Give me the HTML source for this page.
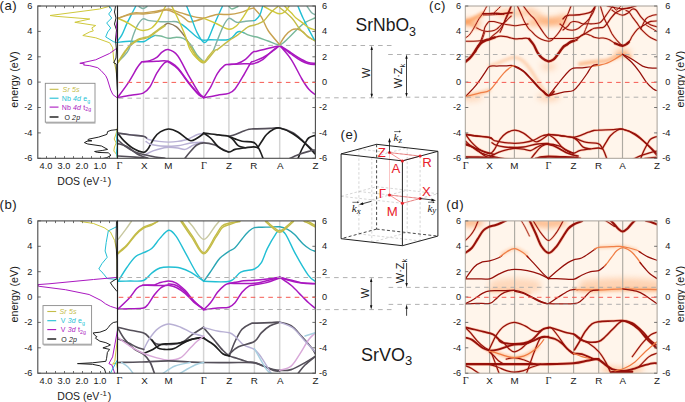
<!DOCTYPE html><html><head><meta charset="utf-8"><style>html,body{margin:0;padding:0;background:#fff;}svg{display:block;}text{font-family:'Liberation Sans',sans-serif}</style></head><body>
<svg width="685" height="402" viewBox="0 0 685 402">
<defs><filter id="bl1" filterUnits="userSpaceOnUse" x="0" y="0" width="685" height="402"><feGaussianBlur stdDeviation="1.6"/></filter><filter id="bl2" filterUnits="userSpaceOnUse" x="0" y="0" width="685" height="402"><feGaussianBlur stdDeviation="3"/></filter><filter id="bl05"><feGaussianBlur stdDeviation="0.35"/></filter><clipPath id="clipA"><rect x="117.5" y="6.0" width="197.9" height="152.3"/></clipPath><clipPath id="clipB"><rect x="117.5" y="220.9" width="197.8" height="152.3"/></clipPath><clipPath id="clipC"><rect x="465.3" y="6.0" width="191.8" height="152.3"/></clipPath><clipPath id="clipD"><rect x="465.3" y="220.9" width="191.7" height="152.3"/></clipPath><clipPath id="clipDA"><rect x="37.8" y="6.0" width="79.7" height="152.3"/></clipPath><clipPath id="clipDB"><rect x="37.8" y="220.9" width="79.7" height="152.3"/></clipPath></defs>
<text x="-0.6" y="9.5" font-size="13.2" text-anchor="start" fill="#1a1a1a" letter-spacing="0.6">(a)</text>
<text x="32.4" y="8.9" font-size="9.2" text-anchor="end" fill="#1a1a1a" >6</text>
<text x="32.4" y="34.3" font-size="9.2" text-anchor="end" fill="#1a1a1a" >4</text>
<text x="32.4" y="59.7" font-size="9.2" text-anchor="end" fill="#1a1a1a" >2</text>
<text x="32.4" y="85.0" font-size="9.2" text-anchor="end" fill="#1a1a1a" >0</text>
<text x="32.4" y="110.4" font-size="9.2" text-anchor="end" fill="#1a1a1a" >-2</text>
<text x="32.4" y="135.8" font-size="9.2" text-anchor="end" fill="#1a1a1a" >-4</text>
<text x="32.4" y="161.2" font-size="9.2" text-anchor="end" fill="#1a1a1a" >-6</text>
<text transform="translate(18.2,79.6) rotate(-90)" font-size="10.8" text-anchor="middle" fill="#1a1a1a">energy (eV)</text>
<line x1="46.5" y1="6.0" x2="46.5" y2="8.2" stroke="#4a4a4a" stroke-width="0.8" />
<line x1="46.5" y1="158.3" x2="46.5" y2="156.1" stroke="#4a4a4a" stroke-width="0.8" />
<line x1="55.5" y1="6.0" x2="55.5" y2="8.2" stroke="#4a4a4a" stroke-width="0.8" />
<line x1="55.5" y1="158.3" x2="55.5" y2="156.1" stroke="#4a4a4a" stroke-width="0.8" />
<line x1="64.5" y1="6.0" x2="64.5" y2="8.2" stroke="#4a4a4a" stroke-width="0.8" />
<line x1="64.5" y1="158.3" x2="64.5" y2="156.1" stroke="#4a4a4a" stroke-width="0.8" />
<line x1="73.5" y1="6.0" x2="73.5" y2="8.2" stroke="#4a4a4a" stroke-width="0.8" />
<line x1="73.5" y1="158.3" x2="73.5" y2="156.1" stroke="#4a4a4a" stroke-width="0.8" />
<line x1="82.5" y1="6.0" x2="82.5" y2="8.2" stroke="#4a4a4a" stroke-width="0.8" />
<line x1="82.5" y1="158.3" x2="82.5" y2="156.1" stroke="#4a4a4a" stroke-width="0.8" />
<line x1="91.5" y1="6.0" x2="91.5" y2="8.2" stroke="#4a4a4a" stroke-width="0.8" />
<line x1="91.5" y1="158.3" x2="91.5" y2="156.1" stroke="#4a4a4a" stroke-width="0.8" />
<line x1="100.5" y1="6.0" x2="100.5" y2="8.2" stroke="#4a4a4a" stroke-width="0.8" />
<line x1="100.5" y1="158.3" x2="100.5" y2="156.1" stroke="#4a4a4a" stroke-width="0.8" />
<line x1="109.5" y1="6.0" x2="109.5" y2="8.2" stroke="#4a4a4a" stroke-width="0.8" />
<line x1="109.5" y1="158.3" x2="109.5" y2="156.1" stroke="#4a4a4a" stroke-width="0.8" />
<line x1="37.8" y1="6.0" x2="40.8" y2="6.0" stroke="#4a4a4a" stroke-width="0.8" />
<line x1="37.8" y1="31.4" x2="40.8" y2="31.4" stroke="#4a4a4a" stroke-width="0.8" />
<line x1="37.8" y1="56.8" x2="40.8" y2="56.8" stroke="#4a4a4a" stroke-width="0.8" />
<line x1="37.8" y1="82.1" x2="40.8" y2="82.1" stroke="#4a4a4a" stroke-width="0.8" />
<line x1="37.8" y1="107.5" x2="40.8" y2="107.5" stroke="#4a4a4a" stroke-width="0.8" />
<line x1="37.8" y1="132.9" x2="40.8" y2="132.9" stroke="#4a4a4a" stroke-width="0.8" />
<line x1="37.8" y1="158.3" x2="40.8" y2="158.3" stroke="#4a4a4a" stroke-width="0.8" />
<text x="46.0" y="168.6" font-size="9.2" text-anchor="middle" fill="#1a1a1a" >4.0</text>
<text x="64.0" y="168.6" font-size="9.2" text-anchor="middle" fill="#1a1a1a" >3.0</text>
<text x="82.0" y="168.6" font-size="9.2" text-anchor="middle" fill="#1a1a1a" >2.0</text>
<text x="100.0" y="168.6" font-size="9.2" text-anchor="middle" fill="#1a1a1a" >1.0</text>
<text x="57.3" y="185.1" font-size="10.5" fill="#1a1a1a">DOS (eV<tspan font-size="7.8" dy="-3.6" dx="0.6">-1</tspan><tspan dy="3.6" dx="0.8">)</tspan></text>
<g clip-path="url(#clipDA)">
<path d="M108.7,6.5 L99.7,9.0 L50.0,15.5 L56.0,16.3 L89.8,19.0 L74.8,22.3 L95.7,25.5 L91.8,27.9 L93.3,30.9 L89.8,31.9 L82.8,35.5 L95.7,37.8 L109.7,42.8 L112.7,47.8 L113.7,59.8 L116.0,70.0 L117.3,80.0" fill="none" stroke="#cfc83c" stroke-width="1.0" stroke-linecap="round" stroke-linejoin="round" />
<path d="M109.7,6.5 L111.7,10.0 L108.7,14.0 L111.7,18.0 L106.7,23.0 L110.7,28.0 L107.7,32.0 L105.7,36.9 L113.7,41.8 L117.5,42.8" fill="none" stroke="#22bfd4" stroke-width="1.0" stroke-linecap="round" stroke-linejoin="round" />
<path d="M117.5,47.8 L109.7,53.4 L95.7,59.8 L79.8,63.3 L84.5,63.8 L83.5,65.0 L89.8,65.7 L97.7,67.7 L101.0,70.5 L105.7,75.7 L107.3,79.0 L110.7,90.0 L112.9,94.6 L117.4,98.0" fill="none" stroke="#aa18c0" stroke-width="1.0" stroke-linecap="round" stroke-linejoin="round" />
<path d="M115.5,6.5 L114.5,12.0 L116.0,18.0 L114.5,24.0 L116.5,30.0 L115.5,40.0 L116.5,50.0 L116.0,58.0 L113.7,62.7 L116.2,64.0 L116.5,75.0 L117.3,90.0" fill="none" stroke="#1e1e1e" stroke-width="1.0" stroke-linecap="round" stroke-linejoin="round" />
<path d="M117.3,128.0 L116.0,134.0 L114.2,139.0 L116.2,143.0 L114.5,147.0 L113.8,151.0 L116.3,154.0 L117.3,158.0" fill="none" stroke="#cfc83c" stroke-width="1.0" stroke-linecap="round" stroke-linejoin="round" />
<path d="M117.4,130.0 L116.6,138.0 L117.2,146.0 L116.4,152.0 L117.3,158.0" fill="none" stroke="#22bfd4" stroke-width="1.0" stroke-linecap="round" stroke-linejoin="round" />
<path d="M117.4,20.0 L116.3,26.0 L117.2,31.0 L116.5,36.0 L117.4,42.0" fill="none" stroke="#aa18c0" stroke-width="1.0" stroke-linecap="round" stroke-linejoin="round" />
<path d="M117.2,129.6 L111.0,130.3 L107.6,131.6 L106.9,134.4 L98.7,137.1 L88.5,139.2 L87.8,140.2 L91.9,140.8 L87.1,141.2 L84.4,142.6 L87.8,144.0 L101.5,146.0 L107.6,149.4 L102.8,150.4 L94.6,151.5 L97.4,152.4 L108.3,152.8 L111.0,155.3 L106.9,157.6 L102.8,158.5" fill="none" stroke="#1e1e1e" stroke-width="1.0" stroke-linecap="round" stroke-linejoin="round" />
</g>
<line x1="143.5" y1="6.0" x2="143.5" y2="158.3" stroke="#d4d4d4" stroke-width="1.5" />
<line x1="168.4" y1="6.0" x2="168.4" y2="158.3" stroke="#d4d4d4" stroke-width="1.5" />
<line x1="203.8" y1="6.0" x2="203.8" y2="158.3" stroke="#d4d4d4" stroke-width="1.5" />
<line x1="228.9" y1="6.0" x2="228.9" y2="158.3" stroke="#d4d4d4" stroke-width="1.5" />
<line x1="253.8" y1="6.0" x2="253.8" y2="158.3" stroke="#d4d4d4" stroke-width="1.5" />
<line x1="279.7" y1="6.0" x2="279.7" y2="158.3" stroke="#d4d4d4" stroke-width="1.5" />
<line x1="312.4" y1="6.0" x2="315.4" y2="6.0" stroke="#4a4a4a" stroke-width="0.8" />
<text x="327.2" y="8.9" font-size="9.2" text-anchor="end" fill="#1a1a1a" >6</text>
<line x1="312.4" y1="31.4" x2="315.4" y2="31.4" stroke="#4a4a4a" stroke-width="0.8" />
<text x="327.2" y="34.3" font-size="9.2" text-anchor="end" fill="#1a1a1a" >4</text>
<line x1="312.4" y1="56.8" x2="315.4" y2="56.8" stroke="#4a4a4a" stroke-width="0.8" />
<text x="327.2" y="59.7" font-size="9.2" text-anchor="end" fill="#1a1a1a" >2</text>
<line x1="312.4" y1="82.1" x2="315.4" y2="82.1" stroke="#4a4a4a" stroke-width="0.8" />
<text x="327.2" y="85.0" font-size="9.2" text-anchor="end" fill="#1a1a1a" >0</text>
<line x1="312.4" y1="107.5" x2="315.4" y2="107.5" stroke="#4a4a4a" stroke-width="0.8" />
<text x="327.2" y="110.4" font-size="9.2" text-anchor="end" fill="#1a1a1a" >-2</text>
<line x1="312.4" y1="132.9" x2="315.4" y2="132.9" stroke="#4a4a4a" stroke-width="0.8" />
<text x="327.2" y="135.8" font-size="9.2" text-anchor="end" fill="#1a1a1a" >-4</text>
<line x1="312.4" y1="158.3" x2="315.4" y2="158.3" stroke="#4a4a4a" stroke-width="0.8" />
<text x="327.2" y="161.2" font-size="9.2" text-anchor="end" fill="#1a1a1a" >-6</text>
<text x="119.5" y="168.9" font-size="10.2" text-anchor="middle" fill="#1a1a1a" style="font-family:'Liberation Serif',serif">&#915;</text>
<text x="144.3" y="168.9" font-size="9.8" text-anchor="middle" fill="#1a1a1a">X</text>
<text x="168.4" y="168.9" font-size="9.8" text-anchor="middle" fill="#1a1a1a">M</text>
<text x="204.0" y="168.9" font-size="10.2" text-anchor="middle" fill="#1a1a1a" style="font-family:'Liberation Serif',serif">&#915;</text>
<text x="228.9" y="168.9" font-size="9.8" text-anchor="middle" fill="#1a1a1a">Z</text>
<text x="253.8" y="168.9" font-size="9.8" text-anchor="middle" fill="#1a1a1a">R</text>
<text x="280.2" y="168.9" font-size="9.8" text-anchor="middle" fill="#1a1a1a">A</text>
<text x="315.5" y="168.9" font-size="9.8" text-anchor="middle" fill="#1a1a1a">Z</text>
<g clip-path="url(#clipA)">
<path d="M117.9,133.1 C119.9,133.4 125.3,134.3 129.6,134.8 C133.9,135.3 140.3,135.5 143.5,136.3 C146.7,137.1 145.9,138.7 148.5,139.5 C151.1,140.3 155.4,141.0 158.8,141.4 C162.2,141.8 165.5,142.1 168.7,142.1 C171.9,142.1 174.6,141.9 177.8,141.4 C181.0,140.9 184.8,140.3 188.0,139.2 C191.2,138.1 194.2,135.8 196.8,134.8 C199.4,133.8 202.6,133.6 203.8,133.4" fill="none" stroke="#b8b0d4" stroke-width="1.45" stroke-linecap="round" stroke-linejoin="round" />
<path d="M117.9,133.4 C118.9,134.6 121.4,138.3 123.8,140.7 C126.2,143.1 129.2,146.1 132.5,148.0 C135.8,149.9 141.0,152.1 143.5,152.3 C146.0,152.6 146.3,150.8 147.5,149.5 C148.7,148.2 149.3,146.5 150.5,144.5 C151.7,142.5 152.8,139.8 154.4,137.7 C156.0,135.6 157.9,133.3 160.3,131.9 C162.7,130.5 165.8,129.0 168.7,129.0 C171.6,129.0 174.8,130.3 177.8,131.9 C180.8,133.5 184.3,137.0 186.5,138.5 C188.7,140.0 189.4,140.6 190.9,140.7 C192.4,140.8 193.2,140.4 195.3,139.2 C197.5,138.0 202.4,134.4 203.8,133.4" fill="none" stroke="#1e1e1e" stroke-width="1.65" stroke-linecap="round" stroke-linejoin="round" />
<path d="M146.0,141.5 C146.7,141.9 147.9,143.3 150.0,144.0 C152.1,144.7 155.7,145.4 158.8,145.8 C161.9,146.2 165.5,146.2 168.7,146.2 C171.9,146.2 173.9,146.4 177.8,145.8 C181.8,145.2 188.1,143.4 192.4,142.8 C196.7,142.2 201.9,142.2 203.8,142.1" fill="none" stroke="#b8b0d4" stroke-width="1.45" stroke-linecap="round" stroke-linejoin="round" />
<path d="M144.2,155.3 C145.7,154.6 149.8,152.1 153.0,150.9 C156.2,149.7 160.6,148.6 163.2,148.0 C165.8,147.4 166.3,147.2 168.7,147.2 C171.1,147.2 175.1,147.6 177.8,148.0 C180.5,148.4 182.9,149.7 185.1,149.4 C187.3,149.2 188.9,147.5 190.9,146.5 C192.9,145.5 194.7,144.2 196.8,143.6 C199.0,143.0 202.6,142.9 203.8,142.8" fill="none" stroke="#b8b0d4" stroke-width="1.45" stroke-linecap="round" stroke-linejoin="round" />
<path d="M117.9,143.6 C119.4,144.1 123.5,144.8 126.7,146.5 C129.9,148.2 134.1,152.1 136.9,153.8 C139.7,155.5 141.7,155.9 143.5,156.7 C145.3,157.4 147.2,158.0 148.0,158.3" fill="none" stroke="#55505a" stroke-width="1.65" stroke-linecap="round" stroke-linejoin="round" />
<path d="M117.9,133.1 C119.9,133.4 125.3,134.3 129.6,134.8 C133.9,135.3 140.7,135.8 143.5,136.3 C146.3,136.8 146.0,137.7 146.5,138.0" fill="none" stroke="#55505a" stroke-width="1.65" stroke-linecap="round" stroke-linejoin="round" />
<path d="M117.9,156.0 C119.9,156.1 125.7,156.5 130.0,156.8 C134.3,157.1 141.2,157.6 143.5,157.8" fill="none" stroke="#55505a" stroke-width="1.65" stroke-linecap="round" stroke-linejoin="round" />
<path d="M185.0,158.3 C185.8,157.2 188.0,154.2 190.0,152.0 C192.0,149.8 194.5,146.5 196.8,145.0 C199.1,143.5 200.8,142.8 203.8,142.8 C206.8,142.8 212.0,144.0 215.0,145.0 C218.0,146.0 219.7,147.8 222.0,149.0 C224.3,150.2 227.5,151.5 228.6,152.0" fill="none" stroke="#55505a" stroke-width="1.65" stroke-linecap="round" stroke-linejoin="round" />
<path d="M203.5,133.1 C205.6,133.3 211.8,134.1 216.0,134.6 C220.2,135.1 225.4,135.6 228.6,136.3 C231.8,137.0 232.8,138.1 235.0,138.9 C237.2,139.7 238.9,140.6 242.0,141.2 C245.1,141.8 250.8,141.5 253.4,142.4 C256.0,143.3 256.6,145.2 257.8,146.8 C259.0,148.4 259.6,150.1 260.5,152.0 C261.4,153.9 262.6,157.2 263.0,158.3" fill="none" stroke="#1e1e1e" stroke-width="1.65" stroke-linecap="round" stroke-linejoin="round" />
<path d="M228.6,136.3 C229.8,136.0 233.5,135.1 236.0,134.2 C238.5,133.3 241.6,131.8 243.8,131.0 C246.0,130.2 247.4,129.7 249.0,129.3 C250.6,129.0 249.9,129.1 253.4,128.9 C256.9,128.8 265.6,128.6 270.0,128.4 C274.4,128.2 275.9,127.3 279.7,128.0 C283.5,128.7 288.9,130.6 292.9,132.8 C296.8,135.1 299.8,138.3 303.4,141.5 C307.0,144.7 312.9,150.2 314.8,152.0" fill="none" stroke="#55505a" stroke-width="1.65" stroke-linecap="round" stroke-linejoin="round" />
<path d="M257.8,147.7 C258.5,146.6 260.5,143.2 262.0,141.0 C263.5,138.8 264.7,136.4 266.6,134.5 C268.5,132.6 271.4,130.4 273.6,129.3 C275.8,128.2 276.5,127.3 279.7,128.0 C282.9,128.7 288.7,131.1 292.9,133.7 C297.1,136.2 301.5,140.0 305.1,143.3 C308.8,146.7 313.2,152.1 314.8,153.8" fill="none" stroke="#1e1e1e" stroke-width="1.65" stroke-linecap="round" stroke-linejoin="round" />
<path d="M203.5,133.1 C204.7,133.9 207.9,135.6 210.5,138.0 C213.1,140.4 216.3,145.4 219.3,147.7 C222.3,150.0 226.0,151.7 228.6,152.0 C231.2,152.3 232.2,150.1 235.0,149.4 C237.8,148.7 242.4,148.1 245.5,147.7 C248.6,147.3 251.3,146.8 253.4,146.8 C255.5,146.8 257.1,147.5 257.8,147.7" fill="none" stroke="#1e1e1e" stroke-width="1.65" stroke-linecap="round" stroke-linejoin="round" />
<path d="M228.6,136.3 C229.4,136.9 231.7,138.2 233.3,139.8 C235.0,141.4 236.5,144.6 238.5,145.9 C240.5,147.2 244.3,147.4 245.5,147.7" fill="none" stroke="#1e1e1e" stroke-width="1.65" stroke-linecap="round" stroke-linejoin="round" />
<path d="M298.1,158.3 C298.7,156.9 300.3,152.5 301.5,150.0 C302.7,147.5 303.9,145.3 305.1,143.3 C306.3,141.3 307.0,139.3 308.6,138.0 C310.2,136.7 313.8,135.8 314.8,135.4" fill="none" stroke="#1e1e1e" stroke-width="1.65" stroke-linecap="round" stroke-linejoin="round" />
<path d="M290.0,158.3 C291.7,157.6 296.7,155.2 300.0,154.0 C303.3,152.8 307.5,151.7 310.0,151.0 C312.5,150.3 314.0,150.2 314.8,150.0" fill="none" stroke="#55505a" stroke-width="1.65" stroke-linecap="round" stroke-linejoin="round" />
<path d="M117.9,140.0 C119.1,141.0 122.2,144.0 125.0,146.0 C127.8,148.0 131.9,150.6 135.0,152.0 C138.1,153.4 140.2,153.7 143.5,154.5 C146.8,155.3 151.4,156.4 155.0,157.0 C158.6,157.6 163.3,158.1 165.0,158.3" fill="none" stroke="#55505a" stroke-width="1.65" stroke-linecap="round" stroke-linejoin="round" />
<path d="M117.6,97.5 C119.5,94.9 125.7,86.7 128.9,81.8 C132.1,76.9 135.0,71.2 137.0,68.0 C139.0,64.8 140.1,63.6 141.1,62.6 C142.1,61.6 140.6,62.0 143.2,61.8 C145.8,61.6 152.7,61.4 156.8,61.3 C161.0,61.2 164.6,60.2 168.1,61.3 C171.6,62.4 174.3,64.5 177.7,67.9 C181.0,71.3 184.7,77.5 188.2,81.8 C191.7,86.1 196.0,91.4 198.6,94.0 C201.2,96.6 203.0,96.9 203.9,97.5" fill="none" stroke="#aa18c0" stroke-width="1.5" stroke-linecap="round" stroke-linejoin="round" />
<path d="M117.6,97.5 C120.1,97.1 128.1,95.6 132.4,94.9 C136.7,94.2 140.3,94.4 143.2,93.1 C146.1,91.8 147.5,90.3 149.8,87.0 C152.1,83.7 154.5,77.0 156.8,73.1 C159.1,69.2 161.9,65.5 163.8,63.5 C165.7,61.5 167.4,61.7 168.1,61.3" fill="none" stroke="#aa18c0" stroke-width="1.5" stroke-linecap="round" stroke-linejoin="round" />
<path d="M143.2,61.8 C144.3,61.6 147.5,61.3 149.8,60.6 C152.1,59.9 154.8,58.8 156.8,57.4 C158.8,56.0 160.1,53.5 162.0,52.2 C163.9,50.9 165.5,49.0 168.1,49.6 C170.7,50.2 174.3,51.5 177.7,55.7 C181.0,59.9 184.7,68.7 188.2,74.8 C191.7,80.9 196.0,88.5 198.6,92.3 C201.2,96.1 203.0,96.6 203.9,97.5" fill="none" stroke="#aa18c0" stroke-width="1.5" stroke-linecap="round" stroke-linejoin="round" />
<path d="M168.1,61.8 C169.8,63.0 174.8,65.6 178.2,69.2 C181.6,72.8 185.2,78.9 188.7,83.2 C192.2,87.5 196.5,92.6 199.0,95.0 C201.5,97.4 203.1,97.1 203.9,97.5" fill="none" stroke="#aa18c0" stroke-width="1.5" stroke-linecap="round" stroke-linejoin="round" />
<path d="M203.5,97.8 C204.7,96.0 208.2,91.4 210.5,87.3 C212.8,83.2 215.2,76.9 217.5,73.3 C219.8,69.7 222.7,66.9 224.5,65.4 C226.3,63.9 226.5,64.8 228.6,64.5 C230.7,64.2 234.0,64.6 236.8,63.7 C239.6,62.8 242.9,61.2 245.5,59.3 C248.1,57.4 250.8,53.6 252.6,52.3 C254.3,51.0 253.7,52.0 256.0,51.4 C258.3,50.8 262.7,49.8 266.6,48.8 C270.6,47.8 277.5,46.0 279.7,45.5" fill="none" stroke="#aa18c0" stroke-width="1.5" stroke-linecap="round" stroke-linejoin="round" />
<path d="M203.5,97.8 C205.8,97.4 213.3,95.9 217.5,95.2 C221.7,94.5 225.7,94.4 228.6,93.4 C231.5,92.4 232.5,92.1 235.0,89.0 C237.5,85.9 241.2,79.4 243.8,75.0 C246.4,70.6 249.2,65.1 250.8,62.8 C252.4,60.5 251.3,62.3 253.4,61.4 C255.5,60.5 259.7,59.3 263.1,57.5 C266.5,55.7 270.8,52.5 273.6,50.5 C276.4,48.5 278.7,46.3 279.7,45.5" fill="none" stroke="#aa18c0" stroke-width="1.5" stroke-linecap="round" stroke-linejoin="round" />
<path d="M228.6,64.5 C231.1,64.4 239.7,63.8 243.8,63.7 C247.9,63.6 250.2,64.4 253.4,63.7 C256.6,63.0 260.0,61.4 263.1,59.3 C266.2,57.2 269.2,53.3 272.0,51.0 C274.8,48.7 278.4,46.4 279.7,45.5" fill="none" stroke="#aa18c0" stroke-width="1.5" stroke-linecap="round" stroke-linejoin="round" />
<path d="M279.7,45.5 C281.6,46.9 287.5,51.4 291.1,54.0 C294.8,56.6 298.7,59.4 301.6,61.0 C304.5,62.6 306.4,63.1 308.6,63.7 C310.8,64.3 313.8,64.4 314.8,64.5" fill="none" stroke="#aa18c0" stroke-width="1.5" stroke-linecap="round" stroke-linejoin="round" />
<path d="M279.7,45.5 C281.0,46.3 284.5,48.5 287.6,50.5 C290.7,52.5 294.7,55.5 298.1,57.5 C301.5,59.5 305.2,61.5 308.0,62.5 C310.8,63.5 313.7,63.2 314.8,63.3" fill="none" stroke="#aa18c0" stroke-width="1.5" stroke-linecap="round" stroke-linejoin="round" />
<path d="M279.7,45.5 C281.6,47.8 287.5,53.8 291.1,59.3 C294.8,64.8 298.7,73.5 301.6,78.5 C304.5,83.5 306.4,86.4 308.6,89.0 C310.8,91.6 313.8,93.4 314.8,94.3" fill="none" stroke="#aa18c0" stroke-width="1.5" stroke-linecap="round" stroke-linejoin="round" />
<path d="M117.9,40.5 C118.6,39.6 120.5,37.5 121.9,34.9 C123.3,32.2 124.9,27.9 126.4,24.6 C127.9,21.4 129.5,18.4 131.0,15.4 C132.5,12.4 134.8,8.0 135.6,6.5" fill="none" stroke="#22bfd4" stroke-width="1.4" stroke-linecap="round" stroke-linejoin="round" />
<path d="M117.5,42.3 C119.6,42.1 125.6,41.3 129.9,41.2 C134.2,41.1 140.4,42.2 143.6,41.7 C146.8,41.2 147.4,39.3 149.3,38.3 C151.2,37.2 154.1,35.9 155.0,35.4" fill="none" stroke="#22bfd4" stroke-width="1.4" stroke-linecap="round" stroke-linejoin="round" />
<path d="M155.0,35.4 C155.9,35.5 158.4,35.5 160.7,36.0 C162.9,36.5 165.9,38.1 168.5,38.3 C171.1,38.5 174.0,37.2 176.5,37.2 C179.0,37.2 181.0,37.2 183.3,38.3 C185.6,39.4 187.9,41.2 190.2,44.0 C192.5,46.8 194.7,52.0 197.0,55.0 C199.3,58.0 202.8,60.7 203.9,61.8" fill="none" stroke="#78b89a" stroke-width="1.4" stroke-linecap="round" stroke-linejoin="round" />
<path d="M117.9,61.5 C118.8,60.8 121.2,59.0 123.0,57.0 C124.8,55.0 127.0,53.2 128.7,49.7 C130.4,46.2 131.5,40.2 133.0,36.0 C134.5,31.8 136.2,27.5 137.9,24.6 C139.6,21.8 141.1,19.6 143.0,18.9 C144.9,18.2 146.4,20.1 149.3,20.6 C152.2,21.1 157.5,21.5 160.7,21.7 C163.9,21.9 165.9,21.7 168.5,21.7 C171.1,21.7 174.2,21.2 176.5,21.7 C178.8,22.2 181.1,24.0 182.0,24.5" fill="none" stroke="#7fb3a6" stroke-width="1.4" stroke-linecap="round" stroke-linejoin="round" />
<path d="M182.0,24.5 C183.0,25.3 185.4,27.1 187.9,29.2 C190.4,31.3 194.6,35.4 197.1,37.2 C199.6,39.0 200.7,39.7 202.8,40.1 C205.0,40.5 205.7,39.9 210.0,39.8 C214.3,39.7 224.5,40.7 228.9,39.5 C233.3,38.3 234.8,33.9 236.6,32.6 C238.4,31.3 238.8,31.5 240.0,31.5 C241.2,31.5 243.3,32.6 244.0,32.8" fill="none" stroke="#22bfd4" stroke-width="1.4" stroke-linecap="round" stroke-linejoin="round" />
<path d="M244.0,32.8 C244.7,33.1 246.5,34.3 248.1,34.9 C249.7,35.5 252.1,36.1 253.8,36.5 C255.5,36.9 256.0,36.8 258.4,37.5 C260.8,38.2 264.6,39.8 268.1,41.0 C271.6,42.2 276.1,45.3 279.6,44.7 C283.1,44.1 285.8,40.3 289.0,37.5 C292.2,34.7 296.0,30.3 298.8,27.7 C301.6,25.1 303.1,23.7 305.8,22.1 C308.5,20.5 313.4,18.7 314.9,18.0" fill="none" stroke="#78b89a" stroke-width="1.4" stroke-linecap="round" stroke-linejoin="round" />
<path d="M117.9,61.9 C119.2,60.0 123.4,53.4 125.5,50.5 C127.6,47.6 128.4,46.4 130.5,44.5 C132.6,42.6 135.7,40.5 137.9,39.4 C140.1,38.3 141.7,38.3 143.6,37.7 C145.5,37.1 146.8,37.4 149.3,36.0 C151.8,34.6 155.9,31.1 158.5,29.2 C161.1,27.3 163.9,25.5 165.0,24.8" fill="none" stroke="#c4bc48" stroke-width="1.4" stroke-linecap="round" stroke-linejoin="round" />
<path d="M117.9,62.9 C119.2,61.0 123.4,54.4 125.5,51.5 C127.6,48.6 128.4,47.4 130.5,45.5 C132.6,43.6 135.7,41.5 137.9,40.4 C140.1,39.3 141.7,39.3 143.6,38.7 C145.5,38.1 146.8,38.4 149.3,37.0 C151.8,35.6 155.9,32.1 158.5,30.2 C161.1,28.3 163.9,26.5 165.0,25.8" fill="none" stroke="#c4bc48" stroke-width="1.4" stroke-linecap="round" stroke-linejoin="round" />
<path d="M165.0,24.8 C165.6,24.6 166.6,23.0 168.5,23.4 C170.4,23.8 173.8,24.8 176.5,26.9 C179.2,29.0 182.6,33.6 184.5,36.1 C186.4,38.6 187.4,41.0 188.0,42.0" fill="none" stroke="#8f7a5a" stroke-width="1.4" stroke-linecap="round" stroke-linejoin="round" />
<path d="M188.0,42.0 C188.8,43.3 190.8,47.1 192.5,49.8 C194.2,52.5 196.1,56.0 198.0,58.0 C199.9,60.0 202.2,62.0 203.9,61.8 C205.6,61.6 206.4,59.0 208.0,57.0 C209.6,55.0 212.8,51.0 213.7,49.8" fill="none" stroke="#c4bc48" stroke-width="1.4" stroke-linecap="round" stroke-linejoin="round" />
<path d="M188.5,43.5 C189.2,44.8 191.2,48.4 192.8,51.0 C194.4,53.6 196.2,57.2 198.0,59.2 C199.8,61.2 202.2,63.0 203.9,62.9 C205.7,62.8 206.7,60.6 208.5,58.5 C210.3,56.4 213.6,52.0 215.0,50.5 C216.4,49.0 216.8,49.9 217.2,49.8" fill="none" stroke="#c4bc48" stroke-width="1.4" stroke-linecap="round" stroke-linejoin="round" />
<path d="M117.9,18.3 C119.7,19.1 125.4,21.6 128.7,23.4 C132.0,25.2 135.4,28.0 137.9,29.2 C140.4,30.4 141.3,30.7 143.6,30.5 C145.9,30.3 149.1,29.8 151.6,28.0 C154.1,26.2 156.6,22.9 158.5,20.0 C160.4,17.1 161.8,12.8 163.0,10.5 C164.2,8.2 165.1,7.2 165.5,6.5" fill="none" stroke="#cfc83c" stroke-width="1.4" stroke-linecap="round" stroke-linejoin="round" />
<path d="M117.9,18.3 C120.3,17.4 127.9,14.0 132.2,13.1 C136.5,12.2 139.8,13.2 143.6,12.9 C147.4,12.6 151.0,12.0 155.0,11.4 C159.0,10.8 164.8,9.4 167.6,9.1 C170.4,8.8 169.6,9.1 172.0,9.8 C174.4,10.5 178.6,12.1 182.2,13.2 C185.8,14.3 190.0,15.8 193.6,16.6 C197.2,17.5 202.2,18.0 203.9,18.3" fill="none" stroke="#c8a250" stroke-width="1.4" stroke-linecap="round" stroke-linejoin="round" />
<path d="M117.9,18.3 C120.3,17.6 127.9,14.8 132.2,14.1 C136.5,13.4 139.8,14.2 143.6,14.0 C147.4,13.8 150.9,13.2 155.0,12.6 C159.1,12.0 163.5,9.5 168.0,10.2 C172.5,10.9 178.9,14.8 182.2,16.6 C185.5,18.4 186.2,20.4 187.9,21.2 C189.6,22.0 189.8,22.2 192.5,21.7 C195.2,21.2 202.0,18.9 203.9,18.3" fill="none" stroke="#c8a250" stroke-width="1.4" stroke-linecap="round" stroke-linejoin="round" />
<path d="M171.9,6.5 C172.7,8.0 174.4,11.0 176.5,15.5 C178.6,20.0 182.2,28.1 184.5,33.8 C186.8,39.5 188.1,45.7 190.2,49.8 C192.3,53.9 194.7,56.5 197.0,58.5 C199.3,60.5 202.8,61.2 203.9,61.8" fill="none" stroke="#cfc83c" stroke-width="1.4" stroke-linecap="round" stroke-linejoin="round" />
<path d="M186.8,6.5 C187.6,8.4 189.6,13.3 191.3,17.7 C193.0,22.0 195.0,28.5 197.1,32.6 C199.2,36.7 202.0,41.4 203.9,42.4 C205.8,43.4 206.8,41.4 208.5,38.4 C210.2,35.4 211.9,29.9 214.2,24.6 C216.5,19.3 221.0,9.5 222.3,6.5" fill="none" stroke="#22bfd4" stroke-width="1.4" stroke-linecap="round" stroke-linejoin="round" />
<path d="M203.9,18.3 C206.1,17.7 213.0,15.1 217.2,14.5 C221.4,13.9 225.1,14.8 228.9,14.5 C232.7,14.2 236.6,13.5 240.0,12.6 C243.4,11.7 246.9,10.0 249.2,9.2 C251.5,8.4 253.0,8.2 253.8,8.0" fill="none" stroke="#c8a250" stroke-width="1.4" stroke-linecap="round" stroke-linejoin="round" />
<path d="M253.8,8.0 C255.0,9.4 258.8,12.9 261.2,16.6 C263.6,20.4 265.0,25.8 268.1,30.5 C271.2,35.2 277.7,42.3 279.6,44.7" fill="none" stroke="#c8a250" stroke-width="1.4" stroke-linecap="round" stroke-linejoin="round" />
<path d="M279.6,44.7 C280.5,43.2 283.0,38.5 285.0,36.0 C287.0,33.5 289.7,30.9 291.8,29.8 C293.9,28.7 295.5,28.8 297.4,29.1 C299.3,29.5 301.1,30.5 303.0,31.9 C304.9,33.3 306.6,36.1 308.6,37.5 C310.6,38.9 313.8,39.8 314.9,40.3" fill="none" stroke="#c8a250" stroke-width="1.4" stroke-linecap="round" stroke-linejoin="round" />
<path d="M203.9,18.3 C206.1,19.2 213.0,22.2 217.2,24.0 C221.4,25.8 225.7,28.9 228.9,29.2 C232.1,29.5 234.2,27.9 236.6,25.8 C239.0,23.7 241.4,19.7 243.5,16.6 C245.6,13.5 248.1,9.1 249.2,7.4 C250.3,5.7 249.9,6.7 250.0,6.5" fill="none" stroke="#cfc83c" stroke-width="1.4" stroke-linecap="round" stroke-linejoin="round" />
<path d="M213.7,49.8 C215.2,46.0 220.4,32.1 222.9,26.9 C225.4,21.6 226.6,19.1 228.9,18.3 C231.2,17.5 233.8,21.8 236.6,22.3 C239.4,22.8 242.9,21.5 245.8,21.2 C248.7,20.9 252.5,20.7 253.8,20.6" fill="none" stroke="#7fb3a6" stroke-width="1.4" stroke-linecap="round" stroke-linejoin="round" />
<path d="M253.8,20.6 C254.1,20.5 254.6,20.9 255.6,20.0 C256.6,19.1 258.6,17.4 259.8,15.2 C261.0,12.9 262.1,7.9 262.6,6.5" fill="none" stroke="#22bfd4" stroke-width="1.4" stroke-linecap="round" stroke-linejoin="round" />
<path d="M217.2,49.8 C219.1,48.3 225.5,43.1 228.9,40.6 C232.3,38.1 234.6,37.2 237.8,34.9 C241.0,32.6 245.4,28.5 248.1,26.9 C250.8,25.3 252.3,25.6 253.8,25.2 C255.3,24.8 255.3,24.9 257.0,24.2 C258.7,23.4 261.7,22.7 264.0,20.7 C266.3,18.7 268.6,14.8 270.9,12.4 C273.2,10.0 276.7,7.5 277.9,6.5" fill="none" stroke="#c4bc48" stroke-width="1.4" stroke-linecap="round" stroke-linejoin="round" />
<path d="M264.0,6.5 C265.6,7.4 271.1,10.5 273.7,11.7 C276.3,12.9 277.7,13.8 279.6,13.8 C281.5,13.8 283.3,12.9 284.9,11.7 C286.5,10.5 288.3,7.4 289.0,6.5" fill="none" stroke="#cfc83c" stroke-width="1.4" stroke-linecap="round" stroke-linejoin="round" />
<path d="M279.6,7.5 C281.6,9.2 288.6,14.6 291.8,18.0 C295.0,21.4 296.5,24.9 298.8,27.7 C301.1,30.5 303.1,32.5 305.8,34.7 C308.5,36.9 313.4,40.0 314.9,41.0" fill="none" stroke="#c4bc48" stroke-width="1.4" stroke-linecap="round" stroke-linejoin="round" />
<path d="M298.1,6.5 C298.9,8.4 301.2,14.2 303.0,18.0 C304.8,21.8 306.7,25.5 308.6,29.1 C310.5,32.7 313.3,37.9 314.2,39.6" fill="none" stroke="#22bfd4" stroke-width="1.4" stroke-linecap="round" stroke-linejoin="round" />
<path d="M307.2,6.5 C307.9,7.5 310.1,11.1 311.4,12.4 C312.7,13.7 314.3,14.2 314.9,14.5" fill="none" stroke="#7fb3a6" stroke-width="1.4" stroke-linecap="round" stroke-linejoin="round" />
<path d="M284.9,6.5 C285.9,7.5 289.1,10.6 291.0,12.5 C292.9,14.4 294.2,16.4 296.0,18.0 C297.8,19.6 299.5,20.5 301.6,22.1 C303.7,23.7 306.4,26.4 308.6,27.7 C310.8,29.0 313.8,29.4 314.9,29.8" fill="none" stroke="#cfc83c" stroke-width="1.4" stroke-linecap="round" stroke-linejoin="round" />
<path d="M229.0,6.5 C229.5,6.9 230.5,9.0 232.0,9.0 C233.5,9.0 237.0,6.9 238.0,6.5" fill="none" stroke="#78b89a" stroke-width="1.4" stroke-linecap="round" stroke-linejoin="round" />
<path d="M139.0,6.5 C139.7,6.8 141.7,8.5 143.0,8.5 C144.3,8.5 146.3,6.8 147.0,6.5" fill="none" stroke="#7fb3a6" stroke-width="1.4" stroke-linecap="round" stroke-linejoin="round" />
</g>
<rect x="37.8" y="6.0" width="79.7" height="152.3" fill="none" stroke="#4a4a4a" stroke-width="1.1"/>
<rect x="117.5" y="6.0" width="197.9" height="152.3" fill="none" stroke="#4a4a4a" stroke-width="1.1"/>
<line x1="117.5" y1="6.0" x2="117.5" y2="158.3" stroke="#222" stroke-width="1.0" />
<rect x="45.8" y="122.5" width="49.7" height="1.4" fill="#c6c6c6"/>
<rect x="45.3" y="83.3" width="49.7" height="38.9" fill="#fff" stroke="#8a8a8a" stroke-width="0.9"/>
<line x1="49.6" y1="89.3" x2="58.5" y2="89.3" stroke="#c4bc48" stroke-width="1.1" />
<text x="62.6" y="91.8" font-size="7" letter-spacing="0.15" fill="#c4bc48"><tspan font-style="italic">Sr 5s</tspan></text>
<line x1="49.6" y1="98.2" x2="58.5" y2="98.2" stroke="#22bfd4" stroke-width="1.1" />
<text x="61.7" y="100.7" font-size="7" letter-spacing="0.15" fill="#22bfd4">Nb <tspan font-style="italic">4d</tspan> e<tspan font-size="5.2" dy="1.8">g</tspan></text>
<line x1="49.6" y1="107.1" x2="58.5" y2="107.1" stroke="#aa18c0" stroke-width="1.1" />
<text x="61.7" y="109.6" font-size="7" letter-spacing="0.15" fill="#aa18c0">Nb <tspan font-style="italic">4d</tspan> t<tspan font-size="5.2" dy="1.8">2g</tspan></text>
<line x1="49.6" y1="117.0" x2="58.5" y2="117.0" stroke="#555" stroke-width="1.9" />
<text x="64.4" y="119.5" font-size="7" letter-spacing="0.15" fill="#222">O <tspan font-style="italic">2p</tspan></text>
<text x="-0.6" y="208.5" font-size="13.2" text-anchor="start" fill="#1a1a1a" letter-spacing="0.6">(b)</text>
<text x="32.4" y="223.8" font-size="9.2" text-anchor="end" fill="#1a1a1a" >6</text>
<text x="32.4" y="249.2" font-size="9.2" text-anchor="end" fill="#1a1a1a" >4</text>
<text x="32.4" y="274.6" font-size="9.2" text-anchor="end" fill="#1a1a1a" >2</text>
<text x="32.4" y="299.9" font-size="9.2" text-anchor="end" fill="#1a1a1a" >0</text>
<text x="32.4" y="325.3" font-size="9.2" text-anchor="end" fill="#1a1a1a" >-2</text>
<text x="32.4" y="350.7" font-size="9.2" text-anchor="end" fill="#1a1a1a" >-4</text>
<text x="32.4" y="376.1" font-size="9.2" text-anchor="end" fill="#1a1a1a" >-6</text>
<text transform="translate(18.2,294.4) rotate(-90)" font-size="10.8" text-anchor="middle" fill="#1a1a1a">energy (eV)</text>
<line x1="46.5" y1="220.9" x2="46.5" y2="223.1" stroke="#4a4a4a" stroke-width="0.8" />
<line x1="46.5" y1="373.2" x2="46.5" y2="371.0" stroke="#4a4a4a" stroke-width="0.8" />
<line x1="55.5" y1="220.9" x2="55.5" y2="223.1" stroke="#4a4a4a" stroke-width="0.8" />
<line x1="55.5" y1="373.2" x2="55.5" y2="371.0" stroke="#4a4a4a" stroke-width="0.8" />
<line x1="64.5" y1="220.9" x2="64.5" y2="223.1" stroke="#4a4a4a" stroke-width="0.8" />
<line x1="64.5" y1="373.2" x2="64.5" y2="371.0" stroke="#4a4a4a" stroke-width="0.8" />
<line x1="73.5" y1="220.9" x2="73.5" y2="223.1" stroke="#4a4a4a" stroke-width="0.8" />
<line x1="73.5" y1="373.2" x2="73.5" y2="371.0" stroke="#4a4a4a" stroke-width="0.8" />
<line x1="82.5" y1="220.9" x2="82.5" y2="223.1" stroke="#4a4a4a" stroke-width="0.8" />
<line x1="82.5" y1="373.2" x2="82.5" y2="371.0" stroke="#4a4a4a" stroke-width="0.8" />
<line x1="91.5" y1="220.9" x2="91.5" y2="223.1" stroke="#4a4a4a" stroke-width="0.8" />
<line x1="91.5" y1="373.2" x2="91.5" y2="371.0" stroke="#4a4a4a" stroke-width="0.8" />
<line x1="100.5" y1="220.9" x2="100.5" y2="223.1" stroke="#4a4a4a" stroke-width="0.8" />
<line x1="100.5" y1="373.2" x2="100.5" y2="371.0" stroke="#4a4a4a" stroke-width="0.8" />
<line x1="109.5" y1="220.9" x2="109.5" y2="223.1" stroke="#4a4a4a" stroke-width="0.8" />
<line x1="109.5" y1="373.2" x2="109.5" y2="371.0" stroke="#4a4a4a" stroke-width="0.8" />
<line x1="37.8" y1="220.9" x2="40.8" y2="220.9" stroke="#4a4a4a" stroke-width="0.8" />
<line x1="37.8" y1="246.3" x2="40.8" y2="246.3" stroke="#4a4a4a" stroke-width="0.8" />
<line x1="37.8" y1="271.7" x2="40.8" y2="271.7" stroke="#4a4a4a" stroke-width="0.8" />
<line x1="37.8" y1="297.0" x2="40.8" y2="297.0" stroke="#4a4a4a" stroke-width="0.8" />
<line x1="37.8" y1="322.4" x2="40.8" y2="322.4" stroke="#4a4a4a" stroke-width="0.8" />
<line x1="37.8" y1="347.8" x2="40.8" y2="347.8" stroke="#4a4a4a" stroke-width="0.8" />
<line x1="37.8" y1="373.2" x2="40.8" y2="373.2" stroke="#4a4a4a" stroke-width="0.8" />
<text x="46.0" y="383.5" font-size="9.2" text-anchor="middle" fill="#1a1a1a" >4.0</text>
<text x="64.0" y="383.5" font-size="9.2" text-anchor="middle" fill="#1a1a1a" >3.0</text>
<text x="82.0" y="383.5" font-size="9.2" text-anchor="middle" fill="#1a1a1a" >2.0</text>
<text x="100.0" y="383.5" font-size="9.2" text-anchor="middle" fill="#1a1a1a" >1.0</text>
<text x="57.3" y="400.0" font-size="10.5" fill="#1a1a1a">DOS (eV<tspan font-size="7.8" dy="-3.6" dx="0.6">-1</tspan><tspan dy="3.6" dx="0.8">)</tspan></text>
<g clip-path="url(#clipDB)">
<path d="M80.8,221.5 L93.5,223.5 L104.1,227.7 L110.4,231.9 L114.6,240.4 L116.8,251.0 L117.3,270.0" fill="none" stroke="#cfc83c" stroke-width="1.0" stroke-linecap="round" stroke-linejoin="round" />
<path d="M116.8,226.6 L108.3,230.9 L106.2,242.5 L105.1,251.0 L107.2,257.3 L101.9,263.7 L98.8,269.0 L103.0,273.2 L107.2,278.5 L116.8,279.5" fill="none" stroke="#22bfd4" stroke-width="1.0" stroke-linecap="round" stroke-linejoin="round" />
<path d="M116.8,277.4 L93.5,279.5 L49.0,283.8 L38.0,284.6 L38.3,286.2 L65.4,289.7 L89.1,294.5 L100.9,300.4 L105.6,303.9 L110.3,306.3 L117.4,308.6" fill="none" stroke="#aa18c0" stroke-width="1.0" stroke-linecap="round" stroke-linejoin="round" />
<path d="M116.5,221.5 L116.0,240.0 L116.8,260.0 L116.8,278.5 L110.4,282.7 L112.5,285.9 L116.8,291.2" fill="none" stroke="#1e1e1e" stroke-width="1.0" stroke-linecap="round" stroke-linejoin="round" />
<path d="M117.5,321.7 L113.3,322.5 L110.4,324.7 L108.1,327.7 L105.9,330.0 L99.9,332.2 L93.2,332.9 L94.7,335.2 L96.9,336.7 L95.4,338.2 L99.9,341.2 L105.9,342.7 L110.4,344.9 L107.4,346.4 L102.9,347.9 L109.6,349.4 L107.4,352.4 L106.6,358.3 L105.9,361.3 L92.4,362.8 L77.5,363.6 L92.4,364.3 L99.9,365.8 L104.4,368.8 L105.9,373.5" fill="none" stroke="#1e1e1e" stroke-width="1.0" stroke-linecap="round" stroke-linejoin="round" />
<path d="M117.5,330.0 L114.8,344.9 L112.6,356.9 L108.9,363.6 L111.9,365.0 L114.8,373.5" fill="none" stroke="#aa18c0" stroke-width="1.0" stroke-linecap="round" stroke-linejoin="round" />
<path d="M117.3,340.0 L115.5,355.0 L114.8,361.3 L112.6,364.3 L116.3,362.8 L117.3,368.0" fill="none" stroke="#cfc83c" stroke-width="1.0" stroke-linecap="round" stroke-linejoin="round" />
<path d="M117.5,359.8 L111.9,370.3 L110.4,373.5" fill="none" stroke="#22bfd4" stroke-width="1.0" stroke-linecap="round" stroke-linejoin="round" />
</g>
<line x1="143.6" y1="220.9" x2="143.6" y2="373.2" stroke="#d4d4d4" stroke-width="1.5" />
<line x1="168.5" y1="220.9" x2="168.5" y2="373.2" stroke="#d4d4d4" stroke-width="1.5" />
<line x1="203.6" y1="220.9" x2="203.6" y2="373.2" stroke="#d4d4d4" stroke-width="1.5" />
<line x1="229.3" y1="220.9" x2="229.3" y2="373.2" stroke="#d4d4d4" stroke-width="1.5" />
<line x1="254.4" y1="220.9" x2="254.4" y2="373.2" stroke="#d4d4d4" stroke-width="1.5" />
<line x1="279.7" y1="220.9" x2="279.7" y2="373.2" stroke="#d4d4d4" stroke-width="1.5" />
<line x1="312.4" y1="220.9" x2="315.4" y2="220.9" stroke="#4a4a4a" stroke-width="0.8" />
<text x="327.2" y="223.8" font-size="9.2" text-anchor="end" fill="#1a1a1a" >6</text>
<line x1="312.4" y1="246.3" x2="315.4" y2="246.3" stroke="#4a4a4a" stroke-width="0.8" />
<text x="327.2" y="249.2" font-size="9.2" text-anchor="end" fill="#1a1a1a" >4</text>
<line x1="312.4" y1="271.7" x2="315.4" y2="271.7" stroke="#4a4a4a" stroke-width="0.8" />
<text x="327.2" y="274.6" font-size="9.2" text-anchor="end" fill="#1a1a1a" >2</text>
<line x1="312.4" y1="297.0" x2="315.4" y2="297.0" stroke="#4a4a4a" stroke-width="0.8" />
<text x="327.2" y="299.9" font-size="9.2" text-anchor="end" fill="#1a1a1a" >0</text>
<line x1="312.4" y1="322.4" x2="315.4" y2="322.4" stroke="#4a4a4a" stroke-width="0.8" />
<text x="327.2" y="325.3" font-size="9.2" text-anchor="end" fill="#1a1a1a" >-2</text>
<line x1="312.4" y1="347.8" x2="315.4" y2="347.8" stroke="#4a4a4a" stroke-width="0.8" />
<text x="327.2" y="350.7" font-size="9.2" text-anchor="end" fill="#1a1a1a" >-4</text>
<line x1="312.4" y1="373.2" x2="315.4" y2="373.2" stroke="#4a4a4a" stroke-width="0.8" />
<text x="327.2" y="376.1" font-size="9.2" text-anchor="end" fill="#1a1a1a" >-6</text>
<text x="119.5" y="383.8" font-size="10.2" text-anchor="middle" fill="#1a1a1a" style="font-family:'Liberation Serif',serif">&#915;</text>
<text x="144.4" y="383.8" font-size="9.8" text-anchor="middle" fill="#1a1a1a">X</text>
<text x="168.5" y="383.8" font-size="9.8" text-anchor="middle" fill="#1a1a1a">M</text>
<text x="203.8" y="383.8" font-size="10.2" text-anchor="middle" fill="#1a1a1a" style="font-family:'Liberation Serif',serif">&#915;</text>
<text x="229.3" y="383.8" font-size="9.8" text-anchor="middle" fill="#1a1a1a">Z</text>
<text x="254.4" y="383.8" font-size="9.8" text-anchor="middle" fill="#1a1a1a">R</text>
<text x="280.2" y="383.8" font-size="9.8" text-anchor="middle" fill="#1a1a1a">A</text>
<text x="315.4" y="383.8" font-size="9.8" text-anchor="middle" fill="#1a1a1a">Z</text>
<g clip-path="url(#clipB)">
<path d="M117.5,327.2 C119.3,327.6 123.7,328.7 128.1,329.7 C132.5,330.7 140.1,331.6 143.7,333.0 C147.3,334.4 147.4,336.1 149.5,337.9 C151.6,339.7 153.5,342.6 156.0,343.7 C158.5,344.8 162.2,344.4 164.3,344.5 C166.4,344.6 166.2,344.6 168.4,344.5 C170.6,344.4 174.8,344.2 177.4,343.7 C180.0,343.1 181.5,342.7 184.0,341.2 C186.5,339.7 188.9,336.9 192.2,334.6 C195.5,332.3 201.8,328.4 203.7,327.2" fill="none" stroke="#55505a" stroke-width="1.65" stroke-linecap="round" stroke-linejoin="round" />
<path d="M143.7,349.4 C144.7,347.6 147.2,342.1 149.5,338.7 C151.8,335.3 154.5,331.3 157.7,328.9 C160.8,326.4 164.6,324.3 168.4,324.0 C172.2,323.7 176.7,325.7 180.7,327.2 C184.7,328.7 188.4,331.5 192.2,333.0 C196.0,334.5 201.8,335.8 203.7,336.3" fill="none" stroke="#b8b0d4" stroke-width="1.45" stroke-linecap="round" stroke-linejoin="round" />
<path d="M143.7,353.5 C145.2,352.8 149.9,350.9 152.8,349.4 C155.7,347.9 158.4,345.4 161.0,344.5 C163.6,343.6 165.1,344.0 168.4,343.7 C171.7,343.4 177.0,343.5 180.7,342.8 C184.4,342.1 187.2,340.4 190.5,339.6 C193.8,338.8 198.2,338.2 200.4,337.9 C202.6,337.6 203.1,337.9 203.7,337.9" fill="none" stroke="#1e1e1e" stroke-width="1.65" stroke-linecap="round" stroke-linejoin="round" />
<path d="M152.0,340.0 C152.9,341.3 155.6,346.2 157.7,347.8 C159.8,349.4 162.5,349.1 164.3,349.4 C166.1,349.7 166.8,349.5 168.4,349.4 C170.0,349.3 171.5,349.7 174.1,348.6 C176.7,347.5 180.7,344.5 184.0,342.8 C187.3,341.1 190.5,339.5 193.8,338.7 C197.1,337.9 202.0,338.0 203.7,337.9" fill="none" stroke="#1e1e1e" stroke-width="1.65" stroke-linecap="round" stroke-linejoin="round" />
<path d="M117.5,338.7 C119.3,339.4 125.0,341.4 128.1,342.8 C131.2,344.2 133.7,345.8 136.3,346.9 C138.9,348.0 142.5,349.0 143.7,349.4" fill="none" stroke="#55505a" stroke-width="1.65" stroke-linecap="round" stroke-linejoin="round" />
<path d="M117.5,327.5 C118.7,329.5 122.0,336.0 124.9,339.6 C127.8,343.2 131.6,346.9 134.7,349.4 C137.8,351.8 141.1,352.2 143.7,354.3 C146.2,356.4 148.2,358.8 150.0,362.0 C151.8,365.2 153.7,371.4 154.4,373.3" fill="none" stroke="#55505a" stroke-width="1.65" stroke-linecap="round" stroke-linejoin="round" />
<path d="M117.5,337.1 C119.5,338.6 125.4,343.4 129.8,346.1 C134.2,348.8 139.3,351.6 143.7,353.5 C148.1,355.4 151.9,356.5 156.0,357.6 C160.1,358.7 164.3,360.1 168.4,360.1 C172.5,360.1 177.0,359.7 180.7,357.6 C184.4,355.6 187.8,350.5 190.5,347.8 C193.2,345.1 194.9,343.1 197.1,341.2 C199.3,339.3 202.6,337.1 203.7,336.3" fill="none" stroke="#d8a8d8" stroke-width="1.45" stroke-linecap="round" stroke-linejoin="round" />
<path d="M117.5,362.5 C121.2,362.4 131.5,362.3 140.0,362.0 C148.5,361.7 160.1,360.9 168.4,360.9 C176.7,360.9 184.1,361.7 190.0,362.0 C195.9,362.3 197.1,362.4 203.7,362.5 C210.3,362.6 221.2,362.6 229.4,362.6 C237.6,362.6 247.6,362.3 252.6,362.6 C257.6,362.9 256.1,363.0 259.6,364.3 C263.1,365.6 270.2,369.3 273.6,370.4 C277.0,371.5 278.7,370.9 279.7,371.0" fill="none" stroke="#55505a" stroke-width="1.65" stroke-linecap="round" stroke-linejoin="round" />
<path d="M121.6,362.5 C122.7,363.2 126.1,365.2 128.0,367.0 C129.9,368.8 132.2,372.2 133.0,373.3" fill="none" stroke="#a8d0e0" stroke-width="1.45" stroke-linecap="round" stroke-linejoin="round" />
<path d="M203.5,327.5 C205.2,329.6 210.8,336.0 214.0,339.8 C217.2,343.6 220.2,347.6 222.8,350.3 C225.4,353.0 227.1,354.6 229.4,355.9 C231.7,357.2 233.9,357.2 236.8,358.2 C239.7,359.2 244.1,361.0 247.0,361.7 C249.9,362.4 251.6,361.9 254.3,362.6 C257.0,363.3 259.9,364.9 263.1,366.1 C266.3,367.3 270.8,368.9 273.6,369.6 C276.4,370.3 276.8,370.4 279.7,370.4 C282.6,370.4 286.9,370.9 291.1,369.6 C295.3,368.3 301.1,364.8 305.1,362.6 C309.1,360.4 313.6,357.4 315.3,356.4" fill="none" stroke="#55505a" stroke-width="1.65" stroke-linecap="round" stroke-linejoin="round" />
<path d="M229.4,355.9 C230.3,353.5 232.9,345.9 235.0,341.5 C237.1,337.1 239.4,332.3 242.0,329.3 C244.6,326.3 248.8,324.7 250.8,323.7 C252.9,322.7 251.1,323.3 254.3,323.1 C257.5,322.9 265.9,322.7 270.1,322.6 C274.3,322.5 276.2,321.8 279.7,322.3 C283.2,322.8 287.5,323.5 291.1,325.8 C294.8,328.1 298.1,332.5 301.6,336.3 C305.1,340.1 309.8,345.6 312.1,348.5 C314.4,351.4 314.8,352.9 315.3,353.8" fill="none" stroke="#55505a" stroke-width="1.65" stroke-linecap="round" stroke-linejoin="round" />
<path d="M203.5,327.5 C205.8,328.1 213.2,330.1 217.5,331.0 C221.8,331.9 226.5,331.9 229.4,332.8 C232.3,333.7 232.6,334.3 235.0,336.3 C237.4,338.3 240.6,342.8 243.8,345.0 C247.0,347.2 251.4,347.3 254.3,349.4 C257.2,351.4 258.7,353.6 261.3,357.3 C263.9,361.0 268.6,369.0 270.1,371.3" fill="none" stroke="#b8b0d4" stroke-width="1.45" stroke-linecap="round" stroke-linejoin="round" />
<path d="M229.4,353.8 C230.9,352.6 234.3,348.9 238.5,346.8 C242.7,344.8 250.5,343.8 254.3,341.5 C258.1,339.2 258.7,335.4 261.3,332.8 C263.9,330.2 267.0,327.6 270.1,325.8 C273.2,324.1 278.1,322.9 279.7,322.3" fill="none" stroke="#55505a" stroke-width="1.65" stroke-linecap="round" stroke-linejoin="round" />
<path d="M279.7,370.4 C281.6,369.7 287.7,368.9 291.1,366.1 C294.5,363.3 297.0,358.2 299.9,353.8 C302.8,349.4 306.0,343.3 308.6,339.8 C311.2,336.3 314.2,334.0 315.3,332.8" fill="none" stroke="#d8a8d8" stroke-width="1.45" stroke-linecap="round" stroke-linejoin="round" />
<path d="M203.5,338.0 C205.2,339.2 210.8,342.4 214.0,345.0 C217.2,347.6 220.2,352.0 222.8,353.8 C225.4,355.6 228.3,355.5 229.4,355.9" fill="none" stroke="#1e1e1e" stroke-width="1.65" stroke-linecap="round" stroke-linejoin="round" />
<path d="M254.3,348.5 C256.4,352.0 263.7,365.5 266.6,369.6 C269.5,373.7 270.9,372.7 271.8,373.3" fill="none" stroke="#a8d0e0" stroke-width="1.45" stroke-linecap="round" stroke-linejoin="round" />
<path d="M298.1,373.3 C299.2,371.9 302.1,367.8 305.0,365.0 C307.9,362.2 313.6,357.8 315.3,356.4" fill="none" stroke="#55505a" stroke-width="1.65" stroke-linecap="round" stroke-linejoin="round" />
<path d="M279.7,322.3 C281.9,323.2 288.9,325.1 293.0,328.0 C297.1,330.9 300.3,336.0 304.0,340.0 C307.7,344.0 313.4,350.0 315.3,352.0" fill="none" stroke="#b8b0d4" stroke-width="1.45" stroke-linecap="round" stroke-linejoin="round" />
<path d="M305.0,336.0 L315.3,332.8" fill="none" stroke="#a8d0e0" stroke-width="1.45" stroke-linecap="round" stroke-linejoin="round" />
<path d="M163.0,373.3 C165.0,372.1 170.5,367.8 175.0,366.0 C179.5,364.2 187.5,363.1 190.0,362.5" fill="none" stroke="#a8d0e0" stroke-width="1.45" stroke-linecap="round" stroke-linejoin="round" />
<path d="M180.0,373.3 C182.5,371.9 191.1,366.8 195.0,365.0 C198.9,363.2 202.2,362.9 203.7,362.5" fill="none" stroke="#a8d0e0" stroke-width="1.45" stroke-linecap="round" stroke-linejoin="round" />
<path d="M117.9,309.1 C119.9,307.2 126.4,301.2 129.6,297.7 C132.8,294.2 134.7,290.3 136.9,288.2 C139.1,286.1 139.8,285.9 142.7,285.3 C145.6,284.8 151.7,285.3 154.4,284.9 C157.1,284.5 156.5,283.8 158.8,283.1 C161.1,282.5 165.4,281.0 168.3,281.0 C171.2,281.0 173.5,281.5 176.3,283.1 C179.1,284.7 182.2,287.5 185.1,290.4 C188.0,293.3 190.8,297.6 193.8,300.7 C196.8,303.8 201.7,307.7 203.3,309.1" fill="none" stroke="#aa18c0" stroke-width="1.5" stroke-linecap="round" stroke-linejoin="round" />
<path d="M117.9,309.1 C119.9,309.0 125.3,308.9 129.6,308.7 C133.9,308.5 140.3,308.9 143.5,308.0 C146.7,307.1 146.8,305.8 148.6,303.6 C150.4,301.4 152.4,297.4 154.4,294.8 C156.4,292.2 158.6,289.7 160.3,288.2 C162.0,286.7 163.3,286.3 164.6,285.8 C165.9,285.3 166.4,285.0 168.3,285.3 C170.2,285.6 173.5,286.1 176.3,287.5 C179.1,288.9 182.2,291.0 185.1,293.4 C188.0,295.8 190.8,299.5 193.8,302.1 C196.8,304.7 201.7,307.9 203.3,309.1" fill="none" stroke="#aa18c0" stroke-width="1.5" stroke-linecap="round" stroke-linejoin="round" />
<path d="M142.7,285.3 C144.8,285.3 150.7,285.5 155.0,285.5 C159.3,285.5 166.1,285.3 168.3,285.3" fill="none" stroke="#aa18c0" stroke-width="1.5" stroke-linecap="round" stroke-linejoin="round" />
<path d="M168.3,284.0 C169.7,284.2 173.7,284.2 176.5,285.5 C179.3,286.8 182.4,289.3 185.3,292.0 C188.2,294.7 191.0,298.6 194.0,301.5 C197.0,304.4 201.8,307.8 203.3,309.1" fill="none" stroke="#aa18c0" stroke-width="1.5" stroke-linecap="round" stroke-linejoin="round" />
<path d="M203.5,309.8 C205.8,309.5 213.3,308.4 217.5,308.0 C221.7,307.6 226.0,308.1 228.9,307.2 C231.8,306.3 232.8,305.3 235.0,302.8 C237.2,300.3 239.7,295.1 242.0,292.3 C244.3,289.5 246.9,287.3 249.0,286.1 C251.1,284.9 251.4,285.5 254.3,284.9 C257.2,284.3 262.4,283.8 266.6,282.6 C270.8,281.5 277.5,278.8 279.7,278.0" fill="none" stroke="#aa18c0" stroke-width="1.5" stroke-linecap="round" stroke-linejoin="round" />
<path d="M203.5,309.8 C204.7,308.6 208.2,305.7 210.5,302.8 C212.8,299.9 215.2,295.2 217.5,292.3 C219.8,289.4 222.6,286.8 224.5,285.3 C226.4,283.8 227.0,284.0 228.9,283.5 C230.8,283.0 233.5,282.6 236.0,282.2 C238.5,281.8 240.8,281.1 243.8,280.8 C246.9,280.5 250.4,280.6 254.3,280.3 C258.2,280.0 263.1,279.5 267.3,279.0 C271.5,278.5 277.6,277.5 279.6,277.2" fill="none" stroke="#aa18c0" stroke-width="1.5" stroke-linecap="round" stroke-linejoin="round" />
<path d="M228.9,283.3 C233.2,283.3 248.1,283.8 254.5,283.3 C260.9,282.8 263.1,281.5 267.3,280.5 C271.5,279.5 277.6,278.0 279.6,277.5" fill="none" stroke="#aa18c0" stroke-width="1.5" stroke-linecap="round" stroke-linejoin="round" />
<path d="M279.6,277.2 C281.6,277.7 288.1,279.2 291.8,280.2 C295.5,281.2 298.1,282.4 302.0,283.0 C305.9,283.6 313.1,283.6 315.3,283.7" fill="none" stroke="#aa18c0" stroke-width="1.5" stroke-linecap="round" stroke-linejoin="round" />
<path d="M279.6,277.2 C281.5,278.6 287.4,282.2 291.1,285.3 C294.8,288.4 298.7,292.9 301.6,295.8 C304.5,298.7 306.4,300.8 308.6,302.8 C310.8,304.8 313.8,307.1 314.8,308.0" fill="none" stroke="#aa18c0" stroke-width="1.5" stroke-linecap="round" stroke-linejoin="round" />
<path d="M279.6,277.2 C280.9,277.7 284.5,279.1 287.6,280.0 C290.7,280.9 293.6,282.0 298.1,282.6 C302.6,283.2 312.0,283.4 314.8,283.5" fill="none" stroke="#aa18c0" stroke-width="1.5" stroke-linecap="round" stroke-linejoin="round" />
<path d="M118.1,281.3 C119.6,278.9 124.3,271.1 127.2,267.0 C130.1,262.9 132.7,259.2 135.4,256.8 C138.1,254.4 140.9,254.1 143.6,252.7 C146.3,251.3 149.0,251.0 151.7,248.6 C154.4,246.2 157.1,241.5 159.9,238.4 C162.7,235.3 166.0,230.5 168.7,230.2 C171.4,229.9 173.2,232.3 176.2,236.4 C179.1,240.5 183.0,248.6 186.4,254.7 C189.8,260.8 193.7,268.7 196.6,273.1 C199.5,277.5 202.6,279.9 203.8,281.3" fill="none" stroke="#22bfd4" stroke-width="1.4" stroke-linecap="round" stroke-linejoin="round" />
<path d="M118.1,281.3 C120.1,281.2 125.8,281.1 130.0,281.0 C134.2,280.9 139.9,281.8 143.5,280.5 C147.1,279.2 149.0,275.2 151.7,273.1 C154.4,271.0 157.1,269.0 159.9,268.0 C162.7,267.0 165.3,267.0 168.7,267.0 C172.1,267.0 176.7,267.1 180.3,268.0 C183.9,268.9 186.6,269.9 190.5,272.1 C194.4,274.3 201.6,279.8 203.8,281.3" fill="none" stroke="#22bfd4" stroke-width="1.4" stroke-linecap="round" stroke-linejoin="round" />
<path d="M203.7,281.3 C204.8,279.8 207.6,276.1 210.0,272.5 C212.4,268.9 216.3,262.8 218.4,260.0 C220.5,257.2 221.1,257.1 222.8,255.7 C224.6,254.2 226.9,252.6 228.9,251.3 C230.9,250.0 232.8,249.9 235.0,247.8 C237.2,245.8 239.7,241.8 242.0,239.0 C244.3,236.2 246.9,233.0 249.0,231.1 C251.1,229.2 252.1,228.2 254.3,227.6 C256.5,226.9 259.4,227.3 262.0,227.2 C264.6,227.1 267.2,227.2 270.1,227.1 C273.1,227.0 276.8,226.4 279.7,226.8 C282.6,227.2 285.1,228.1 287.6,229.4 C290.1,230.7 292.0,232.1 294.6,234.6 C297.2,237.1 300.8,241.8 303.4,244.3 C306.0,246.8 308.4,248.3 310.4,249.5 C312.4,250.7 314.5,251.0 315.3,251.3" fill="none" stroke="#2aa6b4" stroke-width="1.4" stroke-linecap="round" stroke-linejoin="round" />
<path d="M203.7,281.3 C208.0,281.3 223.4,282.8 229.6,281.3 C235.8,279.8 236.7,274.2 240.8,272.1 C245.0,270.1 251.1,270.5 254.5,269.0 C257.9,267.5 259.1,266.3 261.2,262.9 C263.3,259.5 264.9,253.4 267.3,248.6 C269.7,243.8 273.4,237.4 275.5,234.3 C277.6,231.2 277.9,230.2 279.6,230.2 C281.3,230.2 283.0,230.2 285.7,234.3 C288.4,238.4 292.1,247.9 295.9,254.7 C299.6,261.5 305.0,270.7 308.2,275.1 C311.4,279.5 314.1,280.3 315.3,281.3" fill="none" stroke="#22bfd4" stroke-width="1.4" stroke-linecap="round" stroke-linejoin="round" />
<path d="M118.1,252.7 C119.6,251.3 124.3,247.6 127.2,244.5 C130.1,241.4 132.7,237.2 135.4,234.3 C138.1,231.4 140.9,228.9 143.6,227.2 C146.3,225.5 149.3,225.0 151.7,224.1 C154.1,223.2 156.9,221.9 157.9,221.5" fill="none" stroke="#c4bc48" stroke-width="1.4" stroke-linecap="round" stroke-linejoin="round" />
<path d="M118.1,253.7 C119.6,252.3 124.3,248.6 127.2,245.5 C130.1,242.4 132.7,238.2 135.4,235.3 C138.1,232.4 140.9,229.9 143.6,228.2 C146.3,226.5 149.6,226.0 151.7,225.1 C153.8,224.2 155.3,222.9 156.0,222.5" fill="none" stroke="#c4bc48" stroke-width="1.4" stroke-linecap="round" stroke-linejoin="round" />
<path d="M118.1,239.4 C119.3,237.9 123.0,233.2 125.2,230.2 C127.4,227.2 130.3,222.9 131.3,221.5" fill="none" stroke="#c8c8a0" stroke-width="1.4" stroke-linecap="round" stroke-linejoin="round" />
<path d="M182.3,221.5 C184.0,224.0 189.0,231.2 192.6,236.4 C196.2,241.6 200.1,252.7 203.8,252.7 C207.5,252.7 212.0,240.8 215.0,236.4 C218.0,232.0 219.6,228.2 222.0,226.0 C224.4,223.8 226.6,223.8 229.6,223.0 C232.6,222.2 238.3,221.8 240.0,221.5" fill="none" stroke="#c4bc48" stroke-width="1.4" stroke-linecap="round" stroke-linejoin="round" />
<path d="M181.0,221.5 C182.8,224.2 188.0,232.0 191.8,237.4 C195.6,242.8 199.8,253.9 203.8,253.9 C207.8,253.9 212.7,241.8 215.8,237.4 C218.9,233.0 220.2,229.7 222.5,227.5 C224.8,225.3 227.0,225.5 229.6,224.5 C232.2,223.5 236.6,222.0 238.0,221.5" fill="none" stroke="#c4bc48" stroke-width="1.4" stroke-linecap="round" stroke-linejoin="round" />
<path d="M188.5,221.5 C189.2,222.3 190.0,223.2 192.6,226.2 C195.2,229.2 200.1,239.4 203.8,239.4 C207.5,239.4 212.5,229.2 215.0,226.2 C217.5,223.2 218.3,222.3 219.0,221.5" fill="none" stroke="#c8c8a0" stroke-width="1.4" stroke-linecap="round" stroke-linejoin="round" />
<path d="M265.5,220.0 C266.6,221.0 269.6,224.2 272.0,226.0 C274.4,227.8 277.1,230.8 279.6,230.8 C282.1,230.8 284.7,227.8 287.0,226.0 C289.3,224.2 292.4,221.0 293.5,220.0" fill="none" stroke="#c4bc48" stroke-width="1.4" stroke-linecap="round" stroke-linejoin="round" />
<path d="M265.5,221.4 C266.6,222.4 269.6,225.6 272.0,227.4 C274.4,229.2 277.1,232.2 279.6,232.2 C282.1,232.2 284.7,229.2 287.0,227.4 C289.3,225.6 292.4,222.4 293.5,221.4" fill="none" stroke="#c4bc48" stroke-width="1.4" stroke-linecap="round" stroke-linejoin="round" />
<path d="M304.5,220.0 C305.4,220.4 308.2,221.6 310.0,222.5 C311.8,223.4 314.4,225.0 315.3,225.5" fill="none" stroke="#c4bc48" stroke-width="1.4" stroke-linecap="round" stroke-linejoin="round" />
<path d="M304.0,221.3 C305.0,221.8 308.1,223.1 310.0,224.0 C311.9,224.9 314.4,226.5 315.3,227.0" fill="none" stroke="#c4bc48" stroke-width="1.4" stroke-linecap="round" stroke-linejoin="round" />
</g>
<rect x="37.8" y="220.9" width="79.7" height="152.3" fill="none" stroke="#4a4a4a" stroke-width="1.1"/>
<rect x="117.5" y="220.9" width="197.9" height="152.3" fill="none" stroke="#4a4a4a" stroke-width="1.1"/>
<line x1="117.5" y1="220.9" x2="117.5" y2="373.2" stroke="#222" stroke-width="1.0" />
<rect x="43.5" y="344.5" width="48.6" height="1.4" fill="#c6c6c6"/>
<rect x="43.0" y="305.6" width="48.6" height="38.6" fill="#fff" stroke="#8a8a8a" stroke-width="0.9"/>
<line x1="47.3" y1="311.5" x2="56.2" y2="311.5" stroke="#c4bc48" stroke-width="1.1" />
<text x="59.5" y="314.0" font-size="7" letter-spacing="0.15" fill="#c4bc48"><tspan font-style="italic">Sr 5s</tspan></text>
<line x1="47.3" y1="320.7" x2="56.2" y2="320.7" stroke="#22bfd4" stroke-width="1.1" />
<text x="60.8" y="323.2" font-size="7" letter-spacing="0.15" fill="#22bfd4">V <tspan font-style="italic">3d</tspan> e<tspan font-size="5.2" dy="1.8">g</tspan></text>
<line x1="47.3" y1="329.6" x2="56.2" y2="329.6" stroke="#aa18c0" stroke-width="1.1" />
<text x="60.8" y="332.1" font-size="7" letter-spacing="0.15" fill="#aa18c0">V <tspan font-style="italic">3d</tspan> t<tspan font-size="5.2" dy="1.8">2g</tspan></text>
<line x1="47.3" y1="339.0" x2="56.2" y2="339.0" stroke="#555" stroke-width="1.9" />
<text x="61.3" y="341.5" font-size="7" letter-spacing="0.15" fill="#222">O <tspan font-style="italic">2p</tspan></text>
<line x1="315.3" y1="45.5" x2="392.0" y2="45.5" stroke="#a8a8a8" stroke-width="0.9" stroke-dasharray="4.6 4.2" stroke-dashoffset="-1.2"/>
<line x1="387.0" y1="54.5" x2="465.3" y2="54.5" stroke="#a8a8a8" stroke-width="0.9" stroke-dasharray="4.6 4.2" stroke-dashoffset="-1.2"/>
<line x1="315.3" y1="97.8" x2="392.0" y2="97.8" stroke="#a8a8a8" stroke-width="0.9" stroke-dasharray="4.6 4.2" stroke-dashoffset="-1.2"/>
<line x1="387.0" y1="97.2" x2="465.3" y2="97.2" stroke="#a8a8a8" stroke-width="0.9" stroke-dasharray="4.6 4.2" stroke-dashoffset="-1.2"/>
<line x1="315.3" y1="277.6" x2="392.0" y2="277.6" stroke="#a8a8a8" stroke-width="0.9" stroke-dasharray="4.6 4.2" stroke-dashoffset="-1.2"/>
<line x1="315.3" y1="309.6" x2="392.0" y2="309.6" stroke="#a8a8a8" stroke-width="0.9" stroke-dasharray="4.6 4.2" stroke-dashoffset="-1.2"/>
<line x1="387.4" y1="287.4" x2="465.3" y2="287.4" stroke="#a8a8a8" stroke-width="0.9" stroke-dasharray="4.6 4.2" stroke-dashoffset="-1.2"/>
<line x1="387.4" y1="304.4" x2="465.3" y2="304.4" stroke="#a8a8a8" stroke-width="0.9" stroke-dasharray="4.6 4.2" stroke-dashoffset="-1.2"/>
<line x1="371.7" y1="47.7" x2="371.7" y2="96.0" stroke="#111" stroke-width="0.8" />
<path d="M371.7,45.7 L370.5,49.9 L372.9,49.9 Z" fill="#111"/>
<path d="M371.7,98.0 L370.5,93.8 L372.9,93.8 Z" fill="#111"/>
<line x1="406.5" y1="56.6" x2="406.5" y2="95.1" stroke="#111" stroke-width="0.8" />
<path d="M406.5,54.6 L405.3,58.8 L407.7,58.8 Z" fill="#111"/>
<path d="M406.5,97.1 L405.3,92.9 L407.7,92.9 Z" fill="#111"/>
<text transform="translate(369.8,72.8) rotate(-90)" font-size="11" text-anchor="middle" fill="#1a1a1a">W</text>
<text transform="translate(402.0,76) rotate(-90)" font-size="11" text-anchor="middle" fill="#1a1a1a">W&#183;Z<tspan font-size="7.5" dy="2.5">k</tspan></text>
<line x1="371.2" y1="279.8" x2="371.2" y2="307.4" stroke="#111" stroke-width="0.8" />
<path d="M371.2,277.8 L370.0,282.0 L372.4,282.0 Z" fill="#111"/>
<path d="M371.2,309.4 L370.0,305.2 L372.4,305.2 Z" fill="#111"/>
<line x1="406.6" y1="263.0" x2="406.6" y2="284.0" stroke="#111" stroke-width="0.8" />
<path d="M406.6,287.2 L405.4,283.0 L407.8,283.0 Z" fill="#111"/>
<line x1="406.6" y1="307.8" x2="406.6" y2="315.8" stroke="#111" stroke-width="0.8" />
<path d="M406.6,304.6 L405.4,308.8 L407.8,308.8 Z" fill="#111"/>
<text transform="translate(369.3,293) rotate(-90)" font-size="11" text-anchor="middle" fill="#1a1a1a">W</text>
<text transform="translate(404.3,271) rotate(-90)" font-size="11" text-anchor="middle" fill="#1a1a1a">W&#183;Z<tspan font-size="7.5" dy="2.5">k</tspan></text>
<text x="355.6" y="31.4" font-size="17.5" fill="#1a1a1a">SrNbO<tspan font-size="12.5" dy="4.2">3</tspan></text>
<text x="361" y="360.5" font-size="18" fill="#1a1a1a">SrVO<tspan font-size="13" dy="4.3">3</tspan></text>
<rect x="465.3" y="6.0" width="191.8" height="152.3" fill="#fff5eb"/>
<g clip-path="url(#clipC)">
<g filter="url(#bl2)" opacity="0.90">
<path d="M463.0,22.3 C464.2,22.3 467.5,22.3 470.0,22.4 C472.5,22.5 476.7,22.9 478.0,23.0" fill="none" stroke="#fc9a55" stroke-width="5" stroke-linecap="round" stroke-linejoin="round" />
</g>
<g filter="url(#bl2)" opacity="0.85">
<path d="M530.0,23.0 C531.7,22.8 536.9,22.1 540.0,21.8 C543.1,21.6 545.7,21.5 548.5,21.5 C551.3,21.5 554.2,21.6 557.0,21.8 C559.8,22.1 563.7,22.8 565.0,23.0" fill="none" stroke="#fc9a55" stroke-width="5" stroke-linecap="round" stroke-linejoin="round" />
</g>
<g filter="url(#bl2)" opacity="0.75">
<path d="M500.0,13.5 C502.4,13.3 510.5,12.6 514.5,12.6 C518.5,12.6 521.4,13.8 524.0,13.5 C526.6,13.2 527.8,10.8 530.0,11.0 C532.2,11.2 533.9,13.1 537.0,15.0 C540.1,16.9 545.0,21.6 548.5,22.3 C552.0,23.0 555.1,20.1 558.0,19.0 C560.9,17.9 564.7,16.5 566.0,16.0" fill="none" stroke="#fc9a55" stroke-width="4" stroke-linecap="round" stroke-linejoin="round" />
</g>
<g filter="url(#bl1)" opacity="0.80">
<path d="M465.4,21.9 C466.4,21.5 469.5,20.6 471.5,19.7 C473.5,18.8 475.5,17.7 477.4,16.7 C479.3,15.7 481.8,14.2 482.7,13.7" fill="none" stroke="#fc9a55" stroke-width="4" stroke-linecap="round" stroke-linejoin="round" />
</g>
<g filter="url(#bl1)" opacity="0.60">
<path d="M465.4,22.3 C466.2,22.5 468.1,22.7 470.0,23.6 C471.9,24.5 475.6,27.2 476.7,27.9" fill="none" stroke="#fc9a55" stroke-width="2.5" stroke-linecap="round" stroke-linejoin="round" />
</g>
<g filter="url(#bl1)" opacity="0.45">
<path d="M489.4,66.0 C490.6,65.6 494.1,64.5 496.8,63.5 C499.5,62.5 502.7,61.0 505.6,60.0 C508.5,59.0 511.4,57.2 514.3,57.4 C517.2,57.5 520.1,58.6 523.0,60.9 C525.9,63.2 528.9,67.4 531.7,71.4 C534.5,75.4 537.2,81.0 540.0,85.0 C542.8,89.0 547.2,93.9 548.6,95.7" fill="none" stroke="#fc9a55" stroke-width="2.8" stroke-linecap="round" stroke-linejoin="round" />
</g>
<g filter="url(#bl1)" opacity="0.60">
<path d="M580.0,64.0 C581.4,63.8 585.7,63.1 588.6,62.7 C591.5,62.3 594.4,62.1 597.3,61.8 C600.2,61.5 603.1,61.6 606.0,60.9 C608.9,60.2 612.0,58.5 614.7,57.4 C617.5,56.3 620.0,54.4 622.5,54.3 C625.0,54.2 628.8,56.5 630.0,57.0" fill="none" stroke="#fc9a55" stroke-width="4" stroke-linecap="round" stroke-linejoin="round" />
</g>
<g filter="url(#bl2)" opacity="0.70">
<path d="M617.0,53.0 C617.9,52.8 620.7,52.0 622.5,52.0 C624.3,52.0 627.1,52.8 628.0,53.0" fill="none" stroke="#fc9a55" stroke-width="5" stroke-linecap="round" stroke-linejoin="round" />
</g>
<g filter="url(#bl1)" opacity="0.50">
<path d="M465.5,96.6 C467.8,96.0 475.4,94.1 479.4,93.1 C483.4,92.1 487.7,90.9 489.4,90.5" fill="none" stroke="#fc9a55" stroke-width="3" stroke-linecap="round" stroke-linejoin="round" />
</g>
<g filter="url(#bl2)" opacity="0.50">
<path d="M543.0,66.0 C543.9,66.2 546.7,67.5 548.5,67.5 C550.3,67.5 553.1,66.2 554.0,66.0" fill="none" stroke="#fc9a55" stroke-width="4" stroke-linecap="round" stroke-linejoin="round" />
</g>
<g filter="url(#bl2)" opacity="0.55">
<path d="M540.0,97.0 C541.4,97.2 545.8,98.5 548.6,98.5 C551.4,98.5 555.6,97.2 557.0,97.0" fill="none" stroke="#fc9a55" stroke-width="4" stroke-linecap="round" stroke-linejoin="round" />
</g>
<g filter="url(#bl2)" opacity="0.45">
<path d="M465.0,98.0 C466.2,98.1 469.5,98.7 472.0,98.5 C474.5,98.3 478.7,97.2 480.0,97.0" fill="none" stroke="#fc9a55" stroke-width="4" stroke-linecap="round" stroke-linejoin="round" />
</g>
<line x1="489.5" y1="6.0" x2="489.5" y2="158.3" stroke="#aeaaa2" stroke-width="1.15" />
<line x1="514.4" y1="6.0" x2="514.4" y2="158.3" stroke="#aeaaa2" stroke-width="1.15" />
<line x1="548.5" y1="6.0" x2="548.5" y2="158.3" stroke="#aeaaa2" stroke-width="1.15" />
<line x1="573.5" y1="6.0" x2="573.5" y2="158.3" stroke="#aeaaa2" stroke-width="1.15" />
<line x1="598.6" y1="6.0" x2="598.6" y2="158.3" stroke="#aeaaa2" stroke-width="1.15" />
<line x1="622.5" y1="6.0" x2="622.5" y2="158.3" stroke="#aeaaa2" stroke-width="1.15" />
<g opacity="0.3">
<path d="M465.7,134.3 C467.5,134.6 472.6,135.5 476.6,136.0 C480.5,136.5 486.5,136.7 489.5,137.5 C492.5,138.3 491.9,139.8 494.5,140.7 C497.1,141.5 501.4,142.2 504.8,142.6 C508.2,143.0 511.6,143.3 514.7,143.3 C517.8,143.3 520.4,143.1 523.5,142.6 C526.6,142.1 530.2,141.5 533.3,140.4 C536.3,139.3 539.2,137.0 541.8,136.0 C544.3,135.0 547.4,134.8 548.5,134.6" fill="none" stroke="#f07040" stroke-width="2.6174999999999997" stroke-linecap="round" stroke-linejoin="round" />
<path d="M465.7,134.6 C466.6,135.8 468.9,139.5 471.2,141.9 C473.4,144.3 476.2,147.3 479.3,149.2 C482.3,151.1 487.1,153.2 489.5,153.5 C491.9,153.8 492.3,152.0 493.5,150.7 C494.7,149.4 495.4,147.7 496.5,145.7 C497.6,143.7 498.8,141.0 500.4,138.9 C502.0,136.8 503.9,134.5 506.3,133.1 C508.7,131.7 511.8,130.2 514.7,130.2 C517.5,130.2 520.6,131.5 523.5,133.1 C526.3,134.7 529.7,138.2 531.8,139.7 C533.9,141.2 534.7,141.8 536.1,141.9 C537.5,142.0 538.2,141.6 540.3,140.4 C542.4,139.2 547.1,135.6 548.5,134.6" fill="none" stroke="#f07040" stroke-width="2.6174999999999997" stroke-linecap="round" stroke-linejoin="round" />
<path d="M492.0,142.7 C492.7,143.1 493.9,144.5 496.0,145.2 C498.1,145.9 501.7,146.6 504.8,147.0 C507.9,147.4 511.6,147.4 514.7,147.4 C517.8,147.4 519.6,147.6 523.5,147.0 C527.3,146.4 533.3,144.6 537.5,144.0 C541.7,143.4 546.7,143.4 548.5,143.3" fill="none" stroke="#f07040" stroke-width="2.6174999999999997" stroke-linecap="round" stroke-linejoin="round" />
<path d="M490.2,156.5 C491.7,155.8 495.8,153.3 499.0,152.1 C502.2,150.9 506.6,149.8 509.2,149.2 C511.8,148.6 512.3,148.4 514.7,148.4 C517.1,148.4 520.8,148.8 523.5,149.2 C526.1,149.6 528.4,150.8 530.5,150.6 C532.6,150.3 534.2,148.7 536.1,147.7 C538.0,146.7 539.7,145.4 541.8,144.8 C543.8,144.2 547.4,144.1 548.5,144.0" fill="none" stroke="#f07040" stroke-width="2.6174999999999997" stroke-linecap="round" stroke-linejoin="round" />
<path d="M465.7,144.8 C467.0,145.3 470.9,146.0 473.9,147.7 C476.8,149.4 480.8,153.3 483.4,155.0 C486.0,156.7 487.7,157.1 489.5,157.9 C491.3,158.6 493.2,159.2 494.0,159.5" fill="none" stroke="#f07040" stroke-width="2.6174999999999997" stroke-linecap="round" stroke-linejoin="round" />
<path d="M465.7,134.3 C467.5,134.6 472.6,135.5 476.6,136.0 C480.5,136.5 486.8,137.0 489.5,137.5 C492.2,138.0 492.0,138.9 492.5,139.2" fill="none" stroke="#f07040" stroke-width="2.6174999999999997" stroke-linecap="round" stroke-linejoin="round" />
<path d="M465.7,157.2 C467.5,157.3 473.0,157.7 476.9,158.0 C480.9,158.3 487.4,158.8 489.5,159.0" fill="none" stroke="#f07040" stroke-width="2.6174999999999997" stroke-linecap="round" stroke-linejoin="round" />
<path d="M530.4,159.5 C531.2,158.4 533.3,155.4 535.2,153.2 C537.1,151.0 539.5,147.7 541.8,146.2 C544.0,144.7 545.5,144.0 548.5,144.0 C551.5,144.0 556.6,145.2 559.7,146.2 C562.7,147.2 564.4,149.0 566.6,150.2 C568.9,151.4 572.1,152.7 573.2,153.2" fill="none" stroke="#f07040" stroke-width="2.6174999999999997" stroke-linecap="round" stroke-linejoin="round" />
<path d="M548.2,134.3 C550.3,134.5 556.5,135.3 560.7,135.8 C564.8,136.3 570.0,136.8 573.2,137.5 C576.4,138.2 577.4,139.3 579.6,140.1 C581.9,140.9 583.6,141.8 586.7,142.4 C589.8,143.0 595.6,142.7 598.2,143.6 C600.8,144.5 601.2,146.4 602.3,148.0 C603.4,149.6 604.0,151.3 604.8,153.2 C605.6,155.1 606.7,158.4 607.1,159.5" fill="none" stroke="#f07040" stroke-width="2.6174999999999997" stroke-linecap="round" stroke-linejoin="round" />
<path d="M573.2,137.5 C574.4,137.2 578.1,136.3 580.7,135.4 C583.2,134.5 586.3,133.0 588.5,132.2 C590.7,131.4 592.1,130.8 593.8,130.5 C595.4,130.2 594.9,130.2 598.2,130.1 C601.5,129.9 609.5,129.8 613.5,129.6 C617.6,129.4 618.9,128.5 622.5,129.2 C626.1,129.9 631.5,131.8 635.3,134.0 C639.1,136.2 641.9,139.5 645.5,142.7 C649.0,145.9 654.7,151.4 656.5,153.2" fill="none" stroke="#f07040" stroke-width="2.6174999999999997" stroke-linecap="round" stroke-linejoin="round" />
<path d="M602.3,148.9 C602.9,147.8 604.8,144.4 606.2,142.2 C607.5,140.0 608.6,137.6 610.4,135.7 C612.2,133.8 614.9,131.6 616.9,130.5 C618.9,129.4 619.4,128.5 622.5,129.2 C625.6,129.9 631.2,132.3 635.3,134.9 C639.4,137.4 643.6,141.2 647.1,144.5 C650.7,147.8 655.0,153.2 656.5,155.0" fill="none" stroke="#f07040" stroke-width="2.6174999999999997" stroke-linecap="round" stroke-linejoin="round" />
<path d="M548.2,134.3 C549.4,135.1 552.6,136.8 555.2,139.2 C557.8,141.6 560.9,146.6 563.9,148.9 C566.9,151.2 570.6,152.9 573.2,153.2 C575.8,153.5 576.8,151.3 579.6,150.6 C582.5,149.9 587.1,149.3 590.2,148.9 C593.3,148.5 596.2,148.0 598.2,148.0 C600.2,148.0 601.6,148.7 602.3,148.9" fill="none" stroke="#f07040" stroke-width="2.6174999999999997" stroke-linecap="round" stroke-linejoin="round" />
<path d="M573.2,137.5 C574.0,138.1 576.3,139.4 577.9,141.0 C579.6,142.6 581.1,145.8 583.2,147.1 C585.2,148.4 589.1,148.6 590.2,148.9" fill="none" stroke="#f07040" stroke-width="2.6174999999999997" stroke-linecap="round" stroke-linejoin="round" />
<path d="M640.3,159.5 C640.9,158.1 642.5,153.7 643.6,151.2 C644.8,148.7 646.0,146.5 647.1,144.5 C648.3,142.5 648.9,140.5 650.5,139.2 C652.1,137.9 655.5,137.0 656.5,136.6" fill="none" stroke="#f07040" stroke-width="2.6174999999999997" stroke-linecap="round" stroke-linejoin="round" />
<path d="M632.5,159.5 C634.1,158.8 638.9,156.4 642.2,155.2 C645.4,154.0 649.5,152.9 651.9,152.2 C654.3,151.5 655.7,151.4 656.5,151.2" fill="none" stroke="#f07040" stroke-width="2.6174999999999997" stroke-linecap="round" stroke-linejoin="round" />
<path d="M465.7,141.2 C466.8,142.2 469.6,145.2 472.3,147.2 C474.9,149.2 478.7,151.8 481.6,153.2 C484.5,154.6 486.3,154.9 489.5,155.7 C492.7,156.5 497.4,157.6 501.0,158.2 C504.6,158.8 509.3,159.3 511.0,159.5" fill="none" stroke="#f07040" stroke-width="2.6174999999999997" stroke-linecap="round" stroke-linejoin="round" />
<path d="M465.4,37.9 C465.9,37.5 467.7,36.6 468.7,35.6 C469.7,34.6 470.5,33.5 471.6,31.8 C472.7,30.1 474.0,27.9 475.2,25.7 C476.4,23.5 477.6,20.9 478.9,18.9 C480.1,16.9 481.4,15.7 482.7,13.7 C483.9,11.7 485.6,8.4 486.4,7.0 C487.2,5.6 487.3,5.8 487.5,5.5" fill="none" stroke="#f07040" stroke-width="2.2350000000000003" stroke-linecap="round" stroke-linejoin="round" />
<path d="M465.4,41.2 C466.8,41.2 471.1,41.3 473.5,41.2 C475.9,41.1 478.1,41.0 480.1,40.8 C482.1,40.6 484.2,40.0 485.7,39.8 C487.2,39.5 488.7,39.4 489.3,39.3" fill="none" stroke="#f07040" stroke-width="2.3200000000000003" stroke-linecap="round" stroke-linejoin="round" />
<path d="M465.4,61.8 C466.1,61.2 468.3,59.6 469.7,58.2 C471.1,56.8 472.2,55.2 473.5,53.5 C474.8,51.8 475.9,49.5 477.2,47.8 C478.4,46.1 479.6,44.4 481.0,43.1 C482.4,41.9 484.3,40.9 485.7,40.3 C487.1,39.7 487.8,39.8 489.3,39.3 C490.8,38.8 493.9,37.7 494.8,37.4" fill="none" stroke="#f07040" stroke-width="3.6799999999999997" stroke-linecap="round" stroke-linejoin="round" />
<path d="M494.8,37.4 C495.7,37.2 498.4,36.3 500.2,36.2 C502.0,36.1 503.9,36.3 505.7,36.6 C507.5,36.9 509.6,37.6 511.2,38.0 C512.8,38.4 513.4,38.8 515.0,38.9 C516.6,39.0 519.2,38.7 521.0,38.6 C522.8,38.5 524.7,38.2 526.0,38.2 C527.3,38.2 528.5,38.7 529.0,38.8" fill="none" stroke="#f07040" stroke-width="2.575" stroke-linecap="round" stroke-linejoin="round" />
<path d="M529.0,38.8 C529.8,39.8 532.4,42.7 533.8,45.0 C535.2,47.3 536.2,50.4 537.6,52.6 C539.0,54.8 540.5,56.8 542.3,58.2 C544.1,59.7 546.5,61.1 548.4,61.3 C550.3,61.5 551.9,60.7 553.6,59.4 C555.3,58.1 556.8,55.6 558.4,53.5 C560.0,51.4 561.7,48.4 563.1,46.9 C564.5,45.4 565.5,45.4 566.8,44.5 C568.0,43.6 569.5,42.3 570.6,41.7 C571.7,41.1 572.9,40.9 573.4,40.8" fill="none" stroke="#f07040" stroke-width="3.51" stroke-linecap="round" stroke-linejoin="round" />
<path d="M573.4,40.8 C574.0,40.5 575.8,39.8 577.2,38.9 C578.6,38.0 580.5,36.0 581.9,35.1 C583.3,34.2 584.4,33.9 585.7,33.2 C587.0,32.5 588.1,31.6 589.5,30.8 C590.9,30.0 592.6,28.8 594.2,28.3 C595.8,27.8 597.5,28.0 599.0,27.8 C600.5,27.6 602.1,27.9 603.5,27.2 C604.9,26.5 606.0,24.9 607.2,23.4 C608.4,21.9 609.5,19.9 610.9,18.2 C612.3,16.5 614.0,14.2 615.4,13.0 C616.8,11.8 617.8,11.7 619.0,11.0 C620.2,10.3 621.0,9.5 622.5,9.0 C624.0,8.5 626.4,8.4 628.0,8.1 C629.6,7.8 631.3,7.2 632.0,7.0" fill="none" stroke="#f07040" stroke-width="2.49" stroke-linecap="round" stroke-linejoin="round" />
<path d="M553.6,60.0 C554.5,59.0 557.1,56.0 558.8,54.0 C560.4,52.0 562.0,49.3 563.5,47.8 C565.0,46.3 566.2,45.9 567.5,45.0 C568.8,44.1 570.0,43.0 571.0,42.5 C572.0,42.0 572.3,42.2 573.4,41.8 C574.5,41.4 576.8,40.3 577.5,40.0" fill="none" stroke="#f07040" stroke-width="2.2350000000000003" stroke-linecap="round" stroke-linejoin="round" />
<path d="M474.4,52.6 C474.9,51.6 476.2,48.6 477.2,46.9 C478.1,45.2 479.3,43.8 480.1,42.2 C480.9,40.6 481.4,39.2 482.0,37.5 C482.6,35.8 483.3,33.5 483.8,31.8 C484.3,30.1 484.2,28.7 484.9,27.2 C485.6,25.7 487.1,23.6 487.9,22.7 C488.6,21.8 488.4,21.8 489.4,21.6 C490.4,21.4 492.4,21.4 493.9,21.6 C495.4,21.8 497.0,22.4 498.4,22.7 C499.8,23.0 500.7,23.3 502.0,23.6 C503.3,23.9 504.7,24.2 506.0,24.4 C507.3,24.6 508.6,24.8 510.0,25.0 C511.4,25.2 513.0,25.7 514.5,25.7 C516.0,25.7 517.4,25.4 519.0,25.2 C520.6,25.0 522.4,24.7 523.9,24.5 C525.4,24.3 527.3,24.1 528.0,24.0" fill="none" stroke="#f07040" stroke-width="2.3200000000000003" stroke-linecap="round" stroke-linejoin="round" />
<path d="M475.6,52.2 C476.1,51.2 477.5,48.1 478.4,46.4 C479.3,44.7 480.4,43.3 481.2,41.8 C482.0,40.3 482.4,39.0 483.0,37.4 C483.6,35.8 484.5,32.9 484.8,32.0" fill="none" stroke="#f07040" stroke-width="2.2350000000000003" stroke-linecap="round" stroke-linejoin="round" />
<path d="M476.7,27.9 C477.4,28.3 479.7,29.5 481.2,30.1 C482.7,30.7 484.3,31.1 485.7,31.3 C487.1,31.5 488.0,31.4 489.4,31.3 C490.8,31.2 492.6,30.9 493.9,30.5 C495.2,30.1 495.9,29.6 497.0,28.8 C498.1,28.0 498.8,27.1 500.2,25.9 C501.6,24.7 504.3,22.7 505.7,21.5 C507.1,20.3 507.6,19.4 508.5,18.5 C509.4,17.6 510.8,16.5 511.2,16.1" fill="none" stroke="#f07040" stroke-width="2.3200000000000003" stroke-linecap="round" stroke-linejoin="round" />
<path d="M482.7,13.7 C483.8,13.7 487.3,13.7 489.4,13.6 C491.5,13.5 493.6,13.3 495.4,13.3 C497.2,13.3 498.7,13.5 500.0,13.6 C501.3,13.7 501.6,13.8 503.0,13.7 C504.4,13.6 506.7,13.2 508.2,13.0 C509.7,12.8 511.4,12.8 512.0,12.7" fill="none" stroke="#f07040" stroke-width="2.745" stroke-linecap="round" stroke-linejoin="round" />
<path d="M483.4,14.9 C484.4,14.9 487.4,15.0 489.4,14.9 C491.4,14.8 493.6,14.7 495.4,14.6 C497.2,14.5 498.6,14.5 500.0,14.5 C501.4,14.5 503.3,14.4 504.0,14.4" fill="none" stroke="#f07040" stroke-width="2.2350000000000003" stroke-linecap="round" stroke-linejoin="round" />
<path d="M493.9,13.0 C494.4,12.5 495.9,11.0 496.9,10.0 C497.9,9.0 499.3,7.8 500.0,7.0 C500.7,6.2 500.8,5.8 501.0,5.5" fill="none" stroke="#f07040" stroke-width="2.2350000000000003" stroke-linecap="round" stroke-linejoin="round" />
<path d="M489.3,39.3 C489.9,38.7 491.2,37.1 492.6,35.8 C494.1,34.5 496.4,33.0 498.0,31.4 C499.6,29.8 500.9,28.3 502.4,25.9 C503.9,23.5 505.6,19.7 506.8,17.2 C508.0,14.7 508.7,12.9 509.5,11.0 C510.3,9.1 511.2,6.4 511.6,5.5" fill="none" stroke="#f07040" stroke-width="2.3200000000000003" stroke-linecap="round" stroke-linejoin="round" />
<path d="M500.0,32.4 C500.4,31.5 501.8,28.9 502.5,27.0 C503.2,25.1 503.7,23.4 504.5,21.2 C505.3,19.0 506.7,15.9 507.5,14.0 C508.3,12.1 508.9,10.8 509.5,9.5 C510.1,8.2 510.8,6.6 511.0,6.0" fill="none" stroke="#f07040" stroke-width="2.3200000000000003" stroke-linecap="round" stroke-linejoin="round" />
<path d="M517.2,5.5 C517.8,6.9 519.7,10.9 520.9,13.7 C522.1,16.4 523.3,19.5 524.6,22.0 C525.9,24.5 527.3,26.9 528.5,28.5 C529.7,30.1 530.8,30.6 532.0,31.8 C533.2,33.0 534.2,34.4 535.7,35.6 C537.2,36.9 539.2,38.4 541.3,39.3 C543.4,40.2 546.7,41.0 548.4,41.2 C550.1,41.4 550.5,41.1 551.7,40.3 C552.9,39.5 554.2,37.9 555.5,36.5 C556.8,35.1 558.2,33.4 559.3,31.8 C560.4,30.2 561.0,29.2 562.1,27.0 C563.2,24.8 564.8,21.3 566.0,18.5 C567.2,15.7 568.6,12.2 569.5,10.0 C570.4,7.8 570.9,6.2 571.2,5.5" fill="none" stroke="#f07040" stroke-width="2.3200000000000003" stroke-linecap="round" stroke-linejoin="round" />
<path d="M523.1,5.5 C523.7,6.4 525.6,9.1 526.9,10.7 C528.1,12.3 529.3,13.8 530.6,15.2 C531.9,16.6 533.1,17.2 534.5,19.0 C535.9,20.8 537.4,23.6 539.0,26.0 C540.6,28.4 542.6,31.6 544.2,33.7 C545.8,35.8 546.8,37.6 548.4,38.4 C550.0,39.2 550.7,38.4 553.6,38.4 C556.5,38.4 562.7,38.4 566.0,38.4 C569.3,38.4 571.5,38.5 573.4,38.4 C575.3,38.2 575.8,38.0 577.2,37.5 C578.6,37.0 580.5,36.2 581.9,35.6 C583.3,35.0 584.3,33.9 585.7,33.9 C587.1,33.9 589.0,34.8 590.4,35.4 C591.8,36.0 592.8,36.8 594.2,37.3 C595.6,37.8 597.5,38.1 599.0,38.2 C600.5,38.3 601.5,37.8 603.0,38.0 C604.5,38.2 606.3,38.4 608.3,39.3 C610.3,40.1 613.0,42.1 614.9,43.1 C616.8,44.1 618.3,44.6 619.6,45.0 C620.9,45.4 622.2,45.5 622.7,45.6" fill="none" stroke="#f07040" stroke-width="2.3200000000000003" stroke-linecap="round" stroke-linejoin="round" />
<path d="M614.9,43.4 C615.7,43.7 618.3,44.7 619.6,45.1 C620.9,45.5 621.6,45.9 622.7,45.8 C623.8,45.7 625.2,45.0 626.2,44.4 C627.2,43.8 628.5,42.4 629.0,42.0" fill="none" stroke="#f07040" stroke-width="3.51" stroke-linecap="round" stroke-linejoin="round" />
<path d="M622.7,45.6 C623.3,45.4 625.0,45.0 626.2,44.1 C627.4,43.2 629.0,41.6 630.0,40.3 C631.0,39.0 630.9,38.2 632.0,36.5 C633.1,34.8 635.4,31.4 636.9,29.8 C638.4,28.2 639.4,27.9 640.9,26.9 C642.4,25.9 644.2,24.8 645.9,23.9 C647.6,23.0 649.0,21.9 650.9,21.4 C652.8,20.9 656.4,21.0 657.5,20.9" fill="none" stroke="#f07040" stroke-width="2.4050000000000002" stroke-linecap="round" stroke-linejoin="round" />
<path d="M563.0,18.9 C563.5,18.4 565.0,16.6 566.0,16.0 C567.0,15.4 567.8,15.3 569.0,15.2 C570.2,15.0 571.8,15.2 573.5,15.1 C575.2,15.0 577.4,15.0 579.4,14.8 C581.4,14.6 583.5,14.1 585.4,13.7 C587.3,13.3 589.4,12.8 590.6,12.2 C591.9,11.6 592.1,10.9 592.9,10.0 C593.6,9.1 594.6,7.3 595.1,6.6 C595.6,5.8 595.9,5.7 596.0,5.5" fill="none" stroke="#f07040" stroke-width="2.66" stroke-linecap="round" stroke-linejoin="round" />
<path d="M560.0,24.0 C560.5,24.4 561.8,25.5 563.0,26.4 C564.2,27.3 565.8,28.8 567.5,29.4 C569.2,30.0 571.8,30.2 573.5,30.1 C575.2,30.0 576.5,29.3 577.9,28.6 C579.3,27.9 580.5,26.7 581.7,25.7 C583.0,24.7 584.2,23.8 585.4,22.7 C586.6,21.6 587.9,20.5 589.1,18.9 C590.4,17.3 591.9,14.8 592.9,13.0 C593.9,11.2 594.6,8.8 595.0,8.0" fill="none" stroke="#f07040" stroke-width="2.3200000000000003" stroke-linecap="round" stroke-linejoin="round" />
<path d="M563.0,30.0 C563.8,29.4 566.2,27.6 567.5,26.4 C568.8,25.2 569.5,23.5 570.5,22.7 C571.5,21.9 572.3,21.7 573.5,21.6 C574.7,21.5 576.4,21.5 577.9,21.9 C579.4,22.3 580.8,23.5 582.4,23.8 C584.0,24.1 585.9,23.8 587.6,23.8 C589.4,23.8 590.9,24.0 592.9,23.8 C594.9,23.6 597.9,23.5 599.7,22.7 C601.5,21.9 602.2,20.4 603.5,18.9 C604.8,17.4 606.0,15.4 607.2,13.7 C608.4,12.0 609.9,9.9 610.9,8.5 C611.9,7.1 612.8,6.0 613.2,5.5" fill="none" stroke="#f07040" stroke-width="2.3200000000000003" stroke-linecap="round" stroke-linejoin="round" />
<path d="M583.9,33.5 C584.5,31.9 586.4,27.5 587.6,24.2 C588.9,20.9 590.3,16.4 591.4,13.7 C592.5,10.9 593.7,9.1 594.4,7.7 C595.1,6.3 595.3,5.9 595.5,5.5" fill="none" stroke="#f07040" stroke-width="2.2350000000000003" stroke-linecap="round" stroke-linejoin="round" />
<path d="M600.5,6.5 C601.1,8.4 603.1,15.2 604.2,18.2 C605.3,21.1 606.3,22.5 607.2,24.2 C608.1,25.9 608.6,27.0 609.4,28.6 C610.2,30.2 610.9,31.9 612.1,33.9 C613.3,35.8 615.4,38.6 616.8,40.3 C618.2,42.0 619.6,43.2 620.6,44.1 C621.6,45.0 622.4,45.3 622.7,45.5" fill="none" stroke="#f07040" stroke-width="2.3200000000000003" stroke-linecap="round" stroke-linejoin="round" />
<path d="M607.2,5.8 C608.5,6.1 612.2,7.2 614.7,7.7 C617.2,8.2 620.1,8.8 622.5,8.9 C624.9,9.0 627.3,8.4 628.9,8.1 C630.5,7.8 630.8,7.3 632.0,7.0 C633.2,6.7 635.3,6.2 636.0,6.0" fill="none" stroke="#f07040" stroke-width="2.49" stroke-linecap="round" stroke-linejoin="round" />
<path d="M612.0,10.0 C612.7,10.5 614.5,12.1 616.2,13.0 C618.0,13.9 620.5,15.2 622.5,15.2 C624.5,15.2 626.5,14.0 628.1,13.0 C629.7,12.0 630.7,9.7 632.0,9.2 C633.3,8.7 634.5,8.7 636.0,10.0 C637.5,11.3 639.2,14.9 640.9,16.9 C642.5,18.9 644.2,20.6 645.9,21.9 C647.6,23.2 649.0,24.1 650.9,24.9 C652.8,25.7 656.4,26.6 657.5,26.9" fill="none" stroke="#f07040" stroke-width="2.4050000000000002" stroke-linecap="round" stroke-linejoin="round" />
<path d="M626.0,10.5 C626.5,10.8 627.8,10.8 629.0,12.0 C630.2,13.2 631.7,16.1 633.0,17.9 C634.3,19.7 635.6,21.1 636.9,22.9 C638.2,24.7 639.4,27.1 640.9,28.9 C642.4,30.7 644.2,32.3 645.9,33.8 C647.6,35.3 649.0,36.6 650.9,37.8 C652.8,39.0 656.4,40.3 657.5,40.8" fill="none" stroke="#f07040" stroke-width="2.3200000000000003" stroke-linecap="round" stroke-linejoin="round" />
<path d="M640.9,28.9 C641.7,27.2 644.2,21.1 645.9,18.9 C647.6,16.7 649.0,16.6 650.9,15.9 C652.8,15.2 656.4,14.7 657.5,14.4" fill="none" stroke="#f07040" stroke-width="2.3200000000000003" stroke-linecap="round" stroke-linejoin="round" />
<path d="M645.9,24.9 C646.7,25.4 649.0,26.8 650.9,27.9 C652.8,29.0 656.4,31.1 657.5,31.8" fill="none" stroke="#f07040" stroke-width="2.2350000000000003" stroke-linecap="round" stroke-linejoin="round" />
<path d="M612.4,5.8 C613.0,6.5 615.0,9.6 616.0,10.0 C617.0,10.4 617.6,9.2 618.4,8.5 C619.2,7.8 620.6,6.4 621.0,6.0" fill="none" stroke="#f07040" stroke-width="2.2350000000000003" stroke-linecap="round" stroke-linejoin="round" />
<path d="M543.5,91.5 C543.9,92.0 545.1,93.8 546.0,94.5 C546.9,95.2 547.7,95.9 548.6,95.9 C549.5,95.9 550.6,95.0 551.5,94.3 C552.4,93.6 553.6,92.0 554.0,91.5" fill="none" stroke="#f07040" stroke-width="3.0" stroke-linecap="round" stroke-linejoin="round" />
<path d="M465.3,157.3 C467.4,157.3 473.9,157.2 478.0,157.3 C482.1,157.4 486.8,157.6 490.0,157.8 C493.2,158.0 495.8,158.5 497.0,158.6" fill="none" stroke="#f07040" stroke-width="3.51" stroke-linecap="round" stroke-linejoin="round" />
<path d="M465.3,143.8 C466.1,144.1 468.1,144.7 470.0,145.5 C471.9,146.3 474.4,147.7 476.6,148.7 C478.8,149.7 480.8,150.5 483.0,151.3 C485.2,152.1 487.9,152.8 489.7,153.3 C491.5,153.8 493.3,154.3 494.0,154.5" fill="none" stroke="#f07040" stroke-width="3.0" stroke-linecap="round" stroke-linejoin="round" />
<path d="M536.0,158.6 C537.0,158.4 539.9,157.5 542.0,157.2 C544.1,156.9 545.5,156.6 548.5,156.6 C551.5,156.6 555.8,156.8 560.0,157.0 C564.2,157.2 570.2,157.3 573.5,157.6 C576.8,157.9 578.9,158.4 580.0,158.6" fill="none" stroke="#f07040" stroke-width="3.51" stroke-linecap="round" stroke-linejoin="round" />
<path d="M548.4,144.4 C549.2,144.6 551.4,144.9 553.0,145.5 C554.6,146.1 555.8,146.8 558.0,148.0 C560.2,149.2 563.4,151.3 566.0,152.5 C568.6,153.7 571.5,154.4 573.5,155.0 C575.5,155.6 577.2,155.8 578.0,156.0" fill="none" stroke="#f07040" stroke-width="3.0" stroke-linecap="round" stroke-linejoin="round" />
<path d="M548.4,134.4 C550.3,134.6 555.8,135.0 560.0,135.5 C564.2,136.0 571.2,137.2 573.5,137.5" fill="none" stroke="#f07040" stroke-width="2.66" stroke-linecap="round" stroke-linejoin="round" />
<path d="M645.0,158.6 C646.2,158.5 649.9,158.0 652.0,157.8 C654.1,157.6 656.6,157.6 657.5,157.5" fill="none" stroke="#f07040" stroke-width="3.0" stroke-linecap="round" stroke-linejoin="round" />
</g>
<path d="M465.7,134.3 C467.5,134.6 472.6,135.5 476.6,136.0 C480.5,136.5 486.5,136.7 489.5,137.5 C492.5,138.3 491.9,139.8 494.5,140.7 C497.1,141.5 501.4,142.2 504.8,142.6 C508.2,143.0 511.6,143.3 514.7,143.3 C517.8,143.3 520.4,143.1 523.5,142.6 C526.6,142.1 530.2,141.5 533.3,140.4 C536.3,139.3 539.2,137.0 541.8,136.0 C544.3,135.0 547.4,134.8 548.5,134.6" fill="none" stroke="#96100a" stroke-width="1.3175" stroke-linecap="round" stroke-linejoin="round" />
<path d="M465.7,134.6 C466.6,135.8 468.9,139.5 471.2,141.9 C473.4,144.3 476.2,147.3 479.3,149.2 C482.3,151.1 487.1,153.2 489.5,153.5 C491.9,153.8 492.3,152.0 493.5,150.7 C494.7,149.4 495.4,147.7 496.5,145.7 C497.6,143.7 498.8,141.0 500.4,138.9 C502.0,136.8 503.9,134.5 506.3,133.1 C508.7,131.7 511.8,130.2 514.7,130.2 C517.5,130.2 520.6,131.5 523.5,133.1 C526.3,134.7 529.7,138.2 531.8,139.7 C533.9,141.2 534.7,141.8 536.1,141.9 C537.5,142.0 538.2,141.6 540.3,140.4 C542.4,139.2 547.1,135.6 548.5,134.6" fill="none" stroke="#96100a" stroke-width="1.3175" stroke-linecap="round" stroke-linejoin="round" />
<path d="M492.0,142.7 C492.7,143.1 493.9,144.5 496.0,145.2 C498.1,145.9 501.7,146.6 504.8,147.0 C507.9,147.4 511.6,147.4 514.7,147.4 C517.8,147.4 519.6,147.6 523.5,147.0 C527.3,146.4 533.3,144.6 537.5,144.0 C541.7,143.4 546.7,143.4 548.5,143.3" fill="none" stroke="#96100a" stroke-width="1.3175" stroke-linecap="round" stroke-linejoin="round" />
<path d="M490.2,156.5 C491.7,155.8 495.8,153.3 499.0,152.1 C502.2,150.9 506.6,149.8 509.2,149.2 C511.8,148.6 512.3,148.4 514.7,148.4 C517.1,148.4 520.8,148.8 523.5,149.2 C526.1,149.6 528.4,150.8 530.5,150.6 C532.6,150.3 534.2,148.7 536.1,147.7 C538.0,146.7 539.7,145.4 541.8,144.8 C543.8,144.2 547.4,144.1 548.5,144.0" fill="none" stroke="#96100a" stroke-width="1.3175" stroke-linecap="round" stroke-linejoin="round" />
<path d="M465.7,144.8 C467.0,145.3 470.9,146.0 473.9,147.7 C476.8,149.4 480.8,153.3 483.4,155.0 C486.0,156.7 487.7,157.1 489.5,157.9 C491.3,158.6 493.2,159.2 494.0,159.5" fill="none" stroke="#96100a" stroke-width="1.3175" stroke-linecap="round" stroke-linejoin="round" />
<path d="M465.7,134.3 C467.5,134.6 472.6,135.5 476.6,136.0 C480.5,136.5 486.8,137.0 489.5,137.5 C492.2,138.0 492.0,138.9 492.5,139.2" fill="none" stroke="#96100a" stroke-width="1.3175" stroke-linecap="round" stroke-linejoin="round" />
<path d="M465.7,157.2 C467.5,157.3 473.0,157.7 476.9,158.0 C480.9,158.3 487.4,158.8 489.5,159.0" fill="none" stroke="#96100a" stroke-width="1.3175" stroke-linecap="round" stroke-linejoin="round" />
<path d="M530.4,159.5 C531.2,158.4 533.3,155.4 535.2,153.2 C537.1,151.0 539.5,147.7 541.8,146.2 C544.0,144.7 545.5,144.0 548.5,144.0 C551.5,144.0 556.6,145.2 559.7,146.2 C562.7,147.2 564.4,149.0 566.6,150.2 C568.9,151.4 572.1,152.7 573.2,153.2" fill="none" stroke="#96100a" stroke-width="1.3175" stroke-linecap="round" stroke-linejoin="round" />
<path d="M548.2,134.3 C550.3,134.5 556.5,135.3 560.7,135.8 C564.8,136.3 570.0,136.8 573.2,137.5 C576.4,138.2 577.4,139.3 579.6,140.1 C581.9,140.9 583.6,141.8 586.7,142.4 C589.8,143.0 595.6,142.7 598.2,143.6 C600.8,144.5 601.2,146.4 602.3,148.0 C603.4,149.6 604.0,151.3 604.8,153.2 C605.6,155.1 606.7,158.4 607.1,159.5" fill="none" stroke="#96100a" stroke-width="1.3175" stroke-linecap="round" stroke-linejoin="round" />
<path d="M573.2,137.5 C574.4,137.2 578.1,136.3 580.7,135.4 C583.2,134.5 586.3,133.0 588.5,132.2 C590.7,131.4 592.1,130.8 593.8,130.5 C595.4,130.2 594.9,130.2 598.2,130.1 C601.5,129.9 609.5,129.8 613.5,129.6 C617.6,129.4 618.9,128.5 622.5,129.2 C626.1,129.9 631.5,131.8 635.3,134.0 C639.1,136.2 641.9,139.5 645.5,142.7 C649.0,145.9 654.7,151.4 656.5,153.2" fill="none" stroke="#96100a" stroke-width="1.3175" stroke-linecap="round" stroke-linejoin="round" />
<path d="M602.3,148.9 C602.9,147.8 604.8,144.4 606.2,142.2 C607.5,140.0 608.6,137.6 610.4,135.7 C612.2,133.8 614.9,131.6 616.9,130.5 C618.9,129.4 619.4,128.5 622.5,129.2 C625.6,129.9 631.2,132.3 635.3,134.9 C639.4,137.4 643.6,141.2 647.1,144.5 C650.7,147.8 655.0,153.2 656.5,155.0" fill="none" stroke="#96100a" stroke-width="1.3175" stroke-linecap="round" stroke-linejoin="round" />
<path d="M548.2,134.3 C549.4,135.1 552.6,136.8 555.2,139.2 C557.8,141.6 560.9,146.6 563.9,148.9 C566.9,151.2 570.6,152.9 573.2,153.2 C575.8,153.5 576.8,151.3 579.6,150.6 C582.5,149.9 587.1,149.3 590.2,148.9 C593.3,148.5 596.2,148.0 598.2,148.0 C600.2,148.0 601.6,148.7 602.3,148.9" fill="none" stroke="#96100a" stroke-width="1.3175" stroke-linecap="round" stroke-linejoin="round" />
<path d="M573.2,137.5 C574.0,138.1 576.3,139.4 577.9,141.0 C579.6,142.6 581.1,145.8 583.2,147.1 C585.2,148.4 589.1,148.6 590.2,148.9" fill="none" stroke="#96100a" stroke-width="1.3175" stroke-linecap="round" stroke-linejoin="round" />
<path d="M640.3,159.5 C640.9,158.1 642.5,153.7 643.6,151.2 C644.8,148.7 646.0,146.5 647.1,144.5 C648.3,142.5 648.9,140.5 650.5,139.2 C652.1,137.9 655.5,137.0 656.5,136.6" fill="none" stroke="#96100a" stroke-width="1.3175" stroke-linecap="round" stroke-linejoin="round" />
<path d="M632.5,159.5 C634.1,158.8 638.9,156.4 642.2,155.2 C645.4,154.0 649.5,152.9 651.9,152.2 C654.3,151.5 655.7,151.4 656.5,151.2" fill="none" stroke="#96100a" stroke-width="1.3175" stroke-linecap="round" stroke-linejoin="round" />
<path d="M465.7,141.2 C466.8,142.2 469.6,145.2 472.3,147.2 C474.9,149.2 478.7,151.8 481.6,153.2 C484.5,154.6 486.3,154.9 489.5,155.7 C492.7,156.5 497.4,157.6 501.0,158.2 C504.6,158.8 509.3,159.3 511.0,159.5" fill="none" stroke="#96100a" stroke-width="1.3175" stroke-linecap="round" stroke-linejoin="round" />
<path d="M465.4,37.9 C465.9,37.5 467.7,36.6 468.7,35.6 C469.7,34.6 470.5,33.5 471.6,31.8 C472.7,30.1 474.0,27.9 475.2,25.7 C476.4,23.5 477.6,20.9 478.9,18.9 C480.1,16.9 481.4,15.7 482.7,13.7 C483.9,11.7 485.6,8.4 486.4,7.0 C487.2,5.6 487.3,5.8 487.5,5.5" fill="none" stroke="#96100a" stroke-width="0.935" stroke-linecap="round" stroke-linejoin="round" />
<path d="M465.4,41.2 C466.8,41.2 471.1,41.3 473.5,41.2 C475.9,41.1 478.1,41.0 480.1,40.8 C482.1,40.6 484.2,40.0 485.7,39.8 C487.2,39.5 488.7,39.4 489.3,39.3" fill="none" stroke="#96100a" stroke-width="1.02" stroke-linecap="round" stroke-linejoin="round" />
<path d="M465.4,61.8 C466.1,61.2 468.3,59.6 469.7,58.2 C471.1,56.8 472.2,55.2 473.5,53.5 C474.8,51.8 475.9,49.5 477.2,47.8 C478.4,46.1 479.6,44.4 481.0,43.1 C482.4,41.9 484.3,40.9 485.7,40.3 C487.1,39.7 487.8,39.8 489.3,39.3 C490.8,38.8 493.9,37.7 494.8,37.4" fill="none" stroke="#96100a" stroke-width="2.38" stroke-linecap="round" stroke-linejoin="round" />
<path d="M494.8,37.4 C495.7,37.2 498.4,36.3 500.2,36.2 C502.0,36.1 503.9,36.3 505.7,36.6 C507.5,36.9 509.6,37.6 511.2,38.0 C512.8,38.4 513.4,38.8 515.0,38.9 C516.6,39.0 519.2,38.7 521.0,38.6 C522.8,38.5 524.7,38.2 526.0,38.2 C527.3,38.2 528.5,38.7 529.0,38.8" fill="none" stroke="#96100a" stroke-width="1.275" stroke-linecap="round" stroke-linejoin="round" />
<path d="M529.0,38.8 C529.8,39.8 532.4,42.7 533.8,45.0 C535.2,47.3 536.2,50.4 537.6,52.6 C539.0,54.8 540.5,56.8 542.3,58.2 C544.1,59.7 546.5,61.1 548.4,61.3 C550.3,61.5 551.9,60.7 553.6,59.4 C555.3,58.1 556.8,55.6 558.4,53.5 C560.0,51.4 561.7,48.4 563.1,46.9 C564.5,45.4 565.5,45.4 566.8,44.5 C568.0,43.6 569.5,42.3 570.6,41.7 C571.7,41.1 572.9,40.9 573.4,40.8" fill="none" stroke="#96100a" stroke-width="2.21" stroke-linecap="round" stroke-linejoin="round" />
<path d="M573.4,40.8 C574.0,40.5 575.8,39.8 577.2,38.9 C578.6,38.0 580.5,36.0 581.9,35.1 C583.3,34.2 584.4,33.9 585.7,33.2 C587.0,32.5 588.1,31.6 589.5,30.8 C590.9,30.0 592.6,28.8 594.2,28.3 C595.8,27.8 597.5,28.0 599.0,27.8 C600.5,27.6 602.1,27.9 603.5,27.2 C604.9,26.5 606.0,24.9 607.2,23.4 C608.4,21.9 609.5,19.9 610.9,18.2 C612.3,16.5 614.0,14.2 615.4,13.0 C616.8,11.8 617.8,11.7 619.0,11.0 C620.2,10.3 621.0,9.5 622.5,9.0 C624.0,8.5 626.4,8.4 628.0,8.1 C629.6,7.8 631.3,7.2 632.0,7.0" fill="none" stroke="#96100a" stroke-width="1.19" stroke-linecap="round" stroke-linejoin="round" />
<path d="M553.6,60.0 C554.5,59.0 557.1,56.0 558.8,54.0 C560.4,52.0 562.0,49.3 563.5,47.8 C565.0,46.3 566.2,45.9 567.5,45.0 C568.8,44.1 570.0,43.0 571.0,42.5 C572.0,42.0 572.3,42.2 573.4,41.8 C574.5,41.4 576.8,40.3 577.5,40.0" fill="none" stroke="#96100a" stroke-width="0.935" stroke-linecap="round" stroke-linejoin="round" />
<path d="M474.4,52.6 C474.9,51.6 476.2,48.6 477.2,46.9 C478.1,45.2 479.3,43.8 480.1,42.2 C480.9,40.6 481.4,39.2 482.0,37.5 C482.6,35.8 483.3,33.5 483.8,31.8 C484.3,30.1 484.2,28.7 484.9,27.2 C485.6,25.7 487.1,23.6 487.9,22.7 C488.6,21.8 488.4,21.8 489.4,21.6 C490.4,21.4 492.4,21.4 493.9,21.6 C495.4,21.8 497.0,22.4 498.4,22.7 C499.8,23.0 500.7,23.3 502.0,23.6 C503.3,23.9 504.7,24.2 506.0,24.4 C507.3,24.6 508.6,24.8 510.0,25.0 C511.4,25.2 513.0,25.7 514.5,25.7 C516.0,25.7 517.4,25.4 519.0,25.2 C520.6,25.0 522.4,24.7 523.9,24.5 C525.4,24.3 527.3,24.1 528.0,24.0" fill="none" stroke="#96100a" stroke-width="1.02" stroke-linecap="round" stroke-linejoin="round" />
<path d="M475.6,52.2 C476.1,51.2 477.5,48.1 478.4,46.4 C479.3,44.7 480.4,43.3 481.2,41.8 C482.0,40.3 482.4,39.0 483.0,37.4 C483.6,35.8 484.5,32.9 484.8,32.0" fill="none" stroke="#96100a" stroke-width="0.935" stroke-linecap="round" stroke-linejoin="round" />
<path d="M476.7,27.9 C477.4,28.3 479.7,29.5 481.2,30.1 C482.7,30.7 484.3,31.1 485.7,31.3 C487.1,31.5 488.0,31.4 489.4,31.3 C490.8,31.2 492.6,30.9 493.9,30.5 C495.2,30.1 495.9,29.6 497.0,28.8 C498.1,28.0 498.8,27.1 500.2,25.9 C501.6,24.7 504.3,22.7 505.7,21.5 C507.1,20.3 507.6,19.4 508.5,18.5 C509.4,17.6 510.8,16.5 511.2,16.1" fill="none" stroke="#96100a" stroke-width="1.02" stroke-linecap="round" stroke-linejoin="round" />
<path d="M482.7,13.7 C483.8,13.7 487.3,13.7 489.4,13.6 C491.5,13.5 493.6,13.3 495.4,13.3 C497.2,13.3 498.7,13.5 500.0,13.6 C501.3,13.7 501.6,13.8 503.0,13.7 C504.4,13.6 506.7,13.2 508.2,13.0 C509.7,12.8 511.4,12.8 512.0,12.7" fill="none" stroke="#96100a" stroke-width="1.4449999999999998" stroke-linecap="round" stroke-linejoin="round" />
<path d="M483.4,14.9 C484.4,14.9 487.4,15.0 489.4,14.9 C491.4,14.8 493.6,14.7 495.4,14.6 C497.2,14.5 498.6,14.5 500.0,14.5 C501.4,14.5 503.3,14.4 504.0,14.4" fill="none" stroke="#96100a" stroke-width="0.935" stroke-linecap="round" stroke-linejoin="round" />
<path d="M493.9,13.0 C494.4,12.5 495.9,11.0 496.9,10.0 C497.9,9.0 499.3,7.8 500.0,7.0 C500.7,6.2 500.8,5.8 501.0,5.5" fill="none" stroke="#96100a" stroke-width="0.935" stroke-linecap="round" stroke-linejoin="round" />
<path d="M489.3,39.3 C489.9,38.7 491.2,37.1 492.6,35.8 C494.1,34.5 496.4,33.0 498.0,31.4 C499.6,29.8 500.9,28.3 502.4,25.9 C503.9,23.5 505.6,19.7 506.8,17.2 C508.0,14.7 508.7,12.9 509.5,11.0 C510.3,9.1 511.2,6.4 511.6,5.5" fill="none" stroke="#96100a" stroke-width="1.02" stroke-linecap="round" stroke-linejoin="round" />
<path d="M500.0,32.4 C500.4,31.5 501.8,28.9 502.5,27.0 C503.2,25.1 503.7,23.4 504.5,21.2 C505.3,19.0 506.7,15.9 507.5,14.0 C508.3,12.1 508.9,10.8 509.5,9.5 C510.1,8.2 510.8,6.6 511.0,6.0" fill="none" stroke="#96100a" stroke-width="1.02" stroke-linecap="round" stroke-linejoin="round" />
<path d="M517.2,5.5 C517.8,6.9 519.7,10.9 520.9,13.7 C522.1,16.4 523.3,19.5 524.6,22.0 C525.9,24.5 527.3,26.9 528.5,28.5 C529.7,30.1 530.8,30.6 532.0,31.8 C533.2,33.0 534.2,34.4 535.7,35.6 C537.2,36.9 539.2,38.4 541.3,39.3 C543.4,40.2 546.7,41.0 548.4,41.2 C550.1,41.4 550.5,41.1 551.7,40.3 C552.9,39.5 554.2,37.9 555.5,36.5 C556.8,35.1 558.2,33.4 559.3,31.8 C560.4,30.2 561.0,29.2 562.1,27.0 C563.2,24.8 564.8,21.3 566.0,18.5 C567.2,15.7 568.6,12.2 569.5,10.0 C570.4,7.8 570.9,6.2 571.2,5.5" fill="none" stroke="#96100a" stroke-width="1.02" stroke-linecap="round" stroke-linejoin="round" />
<path d="M523.1,5.5 C523.7,6.4 525.6,9.1 526.9,10.7 C528.1,12.3 529.3,13.8 530.6,15.2 C531.9,16.6 533.1,17.2 534.5,19.0 C535.9,20.8 537.4,23.6 539.0,26.0 C540.6,28.4 542.6,31.6 544.2,33.7 C545.8,35.8 546.8,37.6 548.4,38.4 C550.0,39.2 550.7,38.4 553.6,38.4 C556.5,38.4 562.7,38.4 566.0,38.4 C569.3,38.4 571.5,38.5 573.4,38.4 C575.3,38.2 575.8,38.0 577.2,37.5 C578.6,37.0 580.5,36.2 581.9,35.6 C583.3,35.0 584.3,33.9 585.7,33.9 C587.1,33.9 589.0,34.8 590.4,35.4 C591.8,36.0 592.8,36.8 594.2,37.3 C595.6,37.8 597.5,38.1 599.0,38.2 C600.5,38.3 601.5,37.8 603.0,38.0 C604.5,38.2 606.3,38.4 608.3,39.3 C610.3,40.1 613.0,42.1 614.9,43.1 C616.8,44.1 618.3,44.6 619.6,45.0 C620.9,45.4 622.2,45.5 622.7,45.6" fill="none" stroke="#96100a" stroke-width="1.02" stroke-linecap="round" stroke-linejoin="round" />
<path d="M614.9,43.4 C615.7,43.7 618.3,44.7 619.6,45.1 C620.9,45.5 621.6,45.9 622.7,45.8 C623.8,45.7 625.2,45.0 626.2,44.4 C627.2,43.8 628.5,42.4 629.0,42.0" fill="none" stroke="#96100a" stroke-width="2.21" stroke-linecap="round" stroke-linejoin="round" />
<path d="M622.7,45.6 C623.3,45.4 625.0,45.0 626.2,44.1 C627.4,43.2 629.0,41.6 630.0,40.3 C631.0,39.0 630.9,38.2 632.0,36.5 C633.1,34.8 635.4,31.4 636.9,29.8 C638.4,28.2 639.4,27.9 640.9,26.9 C642.4,25.9 644.2,24.8 645.9,23.9 C647.6,23.0 649.0,21.9 650.9,21.4 C652.8,20.9 656.4,21.0 657.5,20.9" fill="none" stroke="#96100a" stroke-width="1.105" stroke-linecap="round" stroke-linejoin="round" />
<path d="M563.0,18.9 C563.5,18.4 565.0,16.6 566.0,16.0 C567.0,15.4 567.8,15.3 569.0,15.2 C570.2,15.0 571.8,15.2 573.5,15.1 C575.2,15.0 577.4,15.0 579.4,14.8 C581.4,14.6 583.5,14.1 585.4,13.7 C587.3,13.3 589.4,12.8 590.6,12.2 C591.9,11.6 592.1,10.9 592.9,10.0 C593.6,9.1 594.6,7.3 595.1,6.6 C595.6,5.8 595.9,5.7 596.0,5.5" fill="none" stroke="#96100a" stroke-width="1.36" stroke-linecap="round" stroke-linejoin="round" />
<path d="M560.0,24.0 C560.5,24.4 561.8,25.5 563.0,26.4 C564.2,27.3 565.8,28.8 567.5,29.4 C569.2,30.0 571.8,30.2 573.5,30.1 C575.2,30.0 576.5,29.3 577.9,28.6 C579.3,27.9 580.5,26.7 581.7,25.7 C583.0,24.7 584.2,23.8 585.4,22.7 C586.6,21.6 587.9,20.5 589.1,18.9 C590.4,17.3 591.9,14.8 592.9,13.0 C593.9,11.2 594.6,8.8 595.0,8.0" fill="none" stroke="#96100a" stroke-width="1.02" stroke-linecap="round" stroke-linejoin="round" />
<path d="M563.0,30.0 C563.8,29.4 566.2,27.6 567.5,26.4 C568.8,25.2 569.5,23.5 570.5,22.7 C571.5,21.9 572.3,21.7 573.5,21.6 C574.7,21.5 576.4,21.5 577.9,21.9 C579.4,22.3 580.8,23.5 582.4,23.8 C584.0,24.1 585.9,23.8 587.6,23.8 C589.4,23.8 590.9,24.0 592.9,23.8 C594.9,23.6 597.9,23.5 599.7,22.7 C601.5,21.9 602.2,20.4 603.5,18.9 C604.8,17.4 606.0,15.4 607.2,13.7 C608.4,12.0 609.9,9.9 610.9,8.5 C611.9,7.1 612.8,6.0 613.2,5.5" fill="none" stroke="#96100a" stroke-width="1.02" stroke-linecap="round" stroke-linejoin="round" />
<path d="M583.9,33.5 C584.5,31.9 586.4,27.5 587.6,24.2 C588.9,20.9 590.3,16.4 591.4,13.7 C592.5,10.9 593.7,9.1 594.4,7.7 C595.1,6.3 595.3,5.9 595.5,5.5" fill="none" stroke="#96100a" stroke-width="0.935" stroke-linecap="round" stroke-linejoin="round" />
<path d="M600.5,6.5 C601.1,8.4 603.1,15.2 604.2,18.2 C605.3,21.1 606.3,22.5 607.2,24.2 C608.1,25.9 608.6,27.0 609.4,28.6 C610.2,30.2 610.9,31.9 612.1,33.9 C613.3,35.8 615.4,38.6 616.8,40.3 C618.2,42.0 619.6,43.2 620.6,44.1 C621.6,45.0 622.4,45.3 622.7,45.5" fill="none" stroke="#96100a" stroke-width="1.02" stroke-linecap="round" stroke-linejoin="round" />
<path d="M607.2,5.8 C608.5,6.1 612.2,7.2 614.7,7.7 C617.2,8.2 620.1,8.8 622.5,8.9 C624.9,9.0 627.3,8.4 628.9,8.1 C630.5,7.8 630.8,7.3 632.0,7.0 C633.2,6.7 635.3,6.2 636.0,6.0" fill="none" stroke="#96100a" stroke-width="1.19" stroke-linecap="round" stroke-linejoin="round" />
<path d="M612.0,10.0 C612.7,10.5 614.5,12.1 616.2,13.0 C618.0,13.9 620.5,15.2 622.5,15.2 C624.5,15.2 626.5,14.0 628.1,13.0 C629.7,12.0 630.7,9.7 632.0,9.2 C633.3,8.7 634.5,8.7 636.0,10.0 C637.5,11.3 639.2,14.9 640.9,16.9 C642.5,18.9 644.2,20.6 645.9,21.9 C647.6,23.2 649.0,24.1 650.9,24.9 C652.8,25.7 656.4,26.6 657.5,26.9" fill="none" stroke="#96100a" stroke-width="1.105" stroke-linecap="round" stroke-linejoin="round" />
<path d="M626.0,10.5 C626.5,10.8 627.8,10.8 629.0,12.0 C630.2,13.2 631.7,16.1 633.0,17.9 C634.3,19.7 635.6,21.1 636.9,22.9 C638.2,24.7 639.4,27.1 640.9,28.9 C642.4,30.7 644.2,32.3 645.9,33.8 C647.6,35.3 649.0,36.6 650.9,37.8 C652.8,39.0 656.4,40.3 657.5,40.8" fill="none" stroke="#96100a" stroke-width="1.02" stroke-linecap="round" stroke-linejoin="round" />
<path d="M640.9,28.9 C641.7,27.2 644.2,21.1 645.9,18.9 C647.6,16.7 649.0,16.6 650.9,15.9 C652.8,15.2 656.4,14.7 657.5,14.4" fill="none" stroke="#96100a" stroke-width="1.02" stroke-linecap="round" stroke-linejoin="round" />
<path d="M645.9,24.9 C646.7,25.4 649.0,26.8 650.9,27.9 C652.8,29.0 656.4,31.1 657.5,31.8" fill="none" stroke="#96100a" stroke-width="0.935" stroke-linecap="round" stroke-linejoin="round" />
<path d="M612.4,5.8 C613.0,6.5 615.0,9.6 616.0,10.0 C617.0,10.4 617.6,9.2 618.4,8.5 C619.2,7.8 620.6,6.4 621.0,6.0" fill="none" stroke="#96100a" stroke-width="0.935" stroke-linecap="round" stroke-linejoin="round" />
<path d="M543.5,91.5 C543.9,92.0 545.1,93.8 546.0,94.5 C546.9,95.2 547.7,95.9 548.6,95.9 C549.5,95.9 550.6,95.0 551.5,94.3 C552.4,93.6 553.6,92.0 554.0,91.5" fill="none" stroke="#96100a" stroke-width="1.7" stroke-linecap="round" stroke-linejoin="round" />
<path d="M465.3,157.3 C467.4,157.3 473.9,157.2 478.0,157.3 C482.1,157.4 486.8,157.6 490.0,157.8 C493.2,158.0 495.8,158.5 497.0,158.6" fill="none" stroke="#96100a" stroke-width="2.21" stroke-linecap="round" stroke-linejoin="round" />
<path d="M465.3,143.8 C466.1,144.1 468.1,144.7 470.0,145.5 C471.9,146.3 474.4,147.7 476.6,148.7 C478.8,149.7 480.8,150.5 483.0,151.3 C485.2,152.1 487.9,152.8 489.7,153.3 C491.5,153.8 493.3,154.3 494.0,154.5" fill="none" stroke="#96100a" stroke-width="1.7" stroke-linecap="round" stroke-linejoin="round" />
<path d="M536.0,158.6 C537.0,158.4 539.9,157.5 542.0,157.2 C544.1,156.9 545.5,156.6 548.5,156.6 C551.5,156.6 555.8,156.8 560.0,157.0 C564.2,157.2 570.2,157.3 573.5,157.6 C576.8,157.9 578.9,158.4 580.0,158.6" fill="none" stroke="#96100a" stroke-width="2.21" stroke-linecap="round" stroke-linejoin="round" />
<path d="M548.4,144.4 C549.2,144.6 551.4,144.9 553.0,145.5 C554.6,146.1 555.8,146.8 558.0,148.0 C560.2,149.2 563.4,151.3 566.0,152.5 C568.6,153.7 571.5,154.4 573.5,155.0 C575.5,155.6 577.2,155.8 578.0,156.0" fill="none" stroke="#96100a" stroke-width="1.7" stroke-linecap="round" stroke-linejoin="round" />
<path d="M548.4,134.4 C550.3,134.6 555.8,135.0 560.0,135.5 C564.2,136.0 571.2,137.2 573.5,137.5" fill="none" stroke="#96100a" stroke-width="1.36" stroke-linecap="round" stroke-linejoin="round" />
<path d="M645.0,158.6 C646.2,158.5 649.9,158.0 652.0,157.8 C654.1,157.6 656.6,157.6 657.5,157.5" fill="none" stroke="#96100a" stroke-width="1.7" stroke-linecap="round" stroke-linejoin="round" />
<path d="M465.5,96.6 C467.2,94.7 472.7,89.2 475.9,85.3 C479.1,81.4 482.4,76.2 484.6,73.1 C486.9,70.0 487.4,67.7 489.4,66.5 C491.4,65.3 494.1,66.2 496.8,66.1 C499.5,66.0 502.7,65.8 505.6,65.8 C508.5,65.8 511.4,65.0 514.3,65.8 C517.2,66.6 520.1,68.3 523.0,70.5 C525.9,72.7 528.8,76.2 531.7,79.2 C534.6,82.2 537.6,86.0 540.4,88.8 C543.2,91.5 547.2,94.5 548.6,95.7" fill="none" stroke="#96100a" stroke-width="1.25" stroke-linecap="round" stroke-linejoin="round" />
<path d="M465.5,96.6 C467.8,96.0 475.4,94.1 479.4,93.1 C483.4,92.1 486.5,92.4 489.4,90.5 C492.3,88.6 494.4,84.7 496.8,81.8 C499.2,78.9 501.5,75.6 503.8,73.1 C506.1,70.6 509.1,68.2 510.8,67.0 C512.5,65.8 513.7,66.0 514.3,65.8" fill="none" stroke="#f08048" stroke-width="1.3" stroke-linecap="round" stroke-linejoin="round" />
<path d="M514.3,66.5 C515.8,67.3 520.3,69.2 523.3,71.5 C526.2,73.8 529.1,77.4 532.0,80.5 C534.9,83.6 538.0,87.5 540.8,90.0 C543.6,92.5 547.3,94.8 548.6,95.7" fill="none" stroke="#96100a" stroke-width="1.25" stroke-linecap="round" stroke-linejoin="round" />
<path d="M548.5,95.8 C549.7,94.3 553.2,89.9 555.5,87.0 C557.8,84.1 560.1,81.0 562.4,78.3 C564.7,75.5 567.6,72.2 569.4,70.5 C571.2,68.8 571.7,68.6 573.4,68.2 C575.1,67.8 577.3,68.1 579.8,67.9 C582.3,67.7 586.6,67.2 588.6,67.0 C590.6,66.8 591.4,66.6 592.0,66.5" fill="none" stroke="#96100a" stroke-width="1.25" stroke-linecap="round" stroke-linejoin="round" />
<path d="M590.0,66.7 C590.9,66.5 594.0,66.0 595.5,65.8 C597.0,65.6 597.0,65.7 598.7,65.3 C600.5,64.9 603.3,64.5 606.0,63.5 C608.7,62.5 612.0,60.7 614.7,59.2 C617.5,57.7 621.2,55.1 622.5,54.3" fill="none" stroke="#f08048" stroke-width="1.3" stroke-linecap="round" stroke-linejoin="round" />
<path d="M548.5,95.8 C550.8,95.2 558.2,93.2 562.4,92.3 C566.5,91.4 570.5,92.0 573.4,90.5 C576.3,89.0 577.6,86.3 579.8,83.6 C582.0,80.8 584.8,76.9 586.8,74.0 C588.8,71.1 590.2,67.7 592.0,66.1 C593.8,64.5 596.4,64.7 597.3,64.4" fill="none" stroke="#96100a" stroke-width="1.25" stroke-linecap="round" stroke-linejoin="round" />
<path d="M622.5,54.3 C624.1,55.1 628.8,57.2 632.1,59.2 C635.5,61.2 639.7,64.6 642.6,66.1 C645.5,67.5 647.2,67.6 649.5,67.9 C651.8,68.2 654.8,68.2 656.5,68.2 C658.2,68.2 659.4,68.2 660.0,68.2" fill="none" stroke="#96100a" stroke-width="1.25" stroke-linecap="round" stroke-linejoin="round" />
<path d="M622.5,54.3 C624.1,55.7 629.3,59.9 632.1,62.7 C634.9,65.6 636.8,68.2 639.1,71.4 C641.4,74.6 643.8,78.9 646.1,81.8 C648.4,84.7 651.3,87.3 653.0,88.8 C654.7,90.2 655.3,90.1 656.5,90.5 C657.7,90.9 659.4,90.9 660.0,91.0" fill="none" stroke="#96100a" stroke-width="1.25" stroke-linecap="round" stroke-linejoin="round" />
</g>
<rect x="465.3" y="6.0" width="191.8" height="152.3" fill="none" stroke="#a8a098" stroke-width="1"/>
<text x="461.2" y="8.9" font-size="9.2" text-anchor="end" fill="#1a1a1a" >6</text>
<text x="670.4" y="8.9" font-size="9.2" text-anchor="end" fill="#1a1a1a" >6</text>
<line x1="465.3" y1="6.0" x2="468.3" y2="6.0" stroke="#555" stroke-width="0.8" />
<line x1="654.1" y1="6.0" x2="657.1" y2="6.0" stroke="#555" stroke-width="0.8" />
<text x="461.2" y="34.3" font-size="9.2" text-anchor="end" fill="#1a1a1a" >4</text>
<text x="670.4" y="34.3" font-size="9.2" text-anchor="end" fill="#1a1a1a" >4</text>
<line x1="465.3" y1="31.4" x2="468.3" y2="31.4" stroke="#555" stroke-width="0.8" />
<line x1="654.1" y1="31.4" x2="657.1" y2="31.4" stroke="#555" stroke-width="0.8" />
<text x="461.2" y="59.7" font-size="9.2" text-anchor="end" fill="#1a1a1a" >2</text>
<text x="670.4" y="59.7" font-size="9.2" text-anchor="end" fill="#1a1a1a" >2</text>
<line x1="465.3" y1="56.8" x2="468.3" y2="56.8" stroke="#555" stroke-width="0.8" />
<line x1="654.1" y1="56.8" x2="657.1" y2="56.8" stroke="#555" stroke-width="0.8" />
<text x="461.2" y="85.0" font-size="9.2" text-anchor="end" fill="#1a1a1a" >0</text>
<text x="670.4" y="85.0" font-size="9.2" text-anchor="end" fill="#1a1a1a" >0</text>
<line x1="465.3" y1="82.1" x2="468.3" y2="82.1" stroke="#555" stroke-width="0.8" />
<line x1="654.1" y1="82.1" x2="657.1" y2="82.1" stroke="#555" stroke-width="0.8" />
<text x="461.2" y="110.4" font-size="9.2" text-anchor="end" fill="#1a1a1a" >-2</text>
<text x="670.4" y="110.4" font-size="9.2" text-anchor="end" fill="#1a1a1a" >-2</text>
<line x1="465.3" y1="107.5" x2="468.3" y2="107.5" stroke="#555" stroke-width="0.8" />
<line x1="654.1" y1="107.5" x2="657.1" y2="107.5" stroke="#555" stroke-width="0.8" />
<text x="461.2" y="135.8" font-size="9.2" text-anchor="end" fill="#1a1a1a" >-4</text>
<text x="670.4" y="135.8" font-size="9.2" text-anchor="end" fill="#1a1a1a" >-4</text>
<line x1="465.3" y1="132.9" x2="468.3" y2="132.9" stroke="#555" stroke-width="0.8" />
<line x1="654.1" y1="132.9" x2="657.1" y2="132.9" stroke="#555" stroke-width="0.8" />
<text x="461.2" y="161.2" font-size="9.2" text-anchor="end" fill="#1a1a1a" >-6</text>
<text x="670.4" y="161.2" font-size="9.2" text-anchor="end" fill="#1a1a1a" >-6</text>
<line x1="465.3" y1="158.3" x2="468.3" y2="158.3" stroke="#555" stroke-width="0.8" />
<line x1="654.1" y1="158.3" x2="657.1" y2="158.3" stroke="#555" stroke-width="0.8" />
<text x="465.6" y="168.9" font-size="10.2" text-anchor="middle" fill="#1a1a1a" style="font-family:'Liberation Serif',serif">&#915;</text>
<text x="489.5" y="168.9" font-size="9.8" text-anchor="middle" fill="#1a1a1a">X</text>
<text x="514.4" y="168.9" font-size="9.8" text-anchor="middle" fill="#1a1a1a">M</text>
<text x="548.5" y="168.9" font-size="10.2" text-anchor="middle" fill="#1a1a1a" style="font-family:'Liberation Serif',serif">&#915;</text>
<text x="573.5" y="168.9" font-size="9.8" text-anchor="middle" fill="#1a1a1a">Z</text>
<text x="598.6" y="168.9" font-size="9.8" text-anchor="middle" fill="#1a1a1a">R</text>
<text x="622.5" y="168.9" font-size="9.8" text-anchor="middle" fill="#1a1a1a">A</text>
<text x="657.1" y="168.9" font-size="9.8" text-anchor="middle" fill="#1a1a1a">Z</text>
<text transform="translate(683.6,79.2) rotate(-90)" font-size="10.8" text-anchor="middle" fill="#1a1a1a">energy (eV)</text>
<text x="428.9" y="9.5" font-size="13.2" text-anchor="start" fill="#1a1a1a" letter-spacing="0.6">(c)</text>
<rect x="465.3" y="220.9" width="191.8" height="152.3" fill="#fff5eb"/>
<g clip-path="url(#clipD)">
<g filter="url(#bl2)" opacity="0.80">
<path d="M463.0,222.0 C464.2,222.2 467.2,223.0 470.0,223.0 C472.8,223.0 478.3,222.2 480.0,222.0" fill="none" stroke="#fc9a55" stroke-width="6" stroke-linecap="round" stroke-linejoin="round" />
</g>
<g filter="url(#bl2)" opacity="0.80">
<path d="M533.0,222.0 C535.6,222.3 543.5,224.0 548.5,224.0 C553.5,224.0 560.6,222.3 563.0,222.0" fill="none" stroke="#fc9a55" stroke-width="6" stroke-linecap="round" stroke-linejoin="round" />
</g>
<g filter="url(#bl1)" opacity="0.45">
<path d="M502.0,254.0 C504.1,253.1 510.5,248.6 514.7,248.6 C518.9,248.6 525.0,253.1 527.0,254.0" fill="none" stroke="#fc9a55" stroke-width="2.5" stroke-linecap="round" stroke-linejoin="round" />
</g>
<g filter="url(#bl1)" opacity="0.45">
<path d="M598.7,247.3 C601.2,247.2 609.6,246.7 613.6,246.6 C617.6,246.5 618.9,246.0 622.7,246.6 C626.5,247.2 634.1,249.4 636.4,250.0" fill="none" stroke="#fc9a55" stroke-width="2.5" stroke-linecap="round" stroke-linejoin="round" />
</g>
<g filter="url(#bl2)" opacity="0.32">
<path d="M495.0,286.0 C498.3,285.7 507.9,284.0 514.6,284.0 C521.3,284.0 531.6,285.7 535.0,286.0" fill="none" stroke="#fc9a55" stroke-width="12" stroke-linecap="round" stroke-linejoin="round" />
</g>
<g filter="url(#bl2)" opacity="0.38">
<path d="M585.0,286.0 C591.3,285.7 610.7,284.0 622.7,284.0 C634.7,284.0 651.3,285.7 657.0,286.0" fill="none" stroke="#fc9a55" stroke-width="12" stroke-linecap="round" stroke-linejoin="round" />
</g>
<g filter="url(#bl1)" opacity="0.50">
<path d="M489.7,290.5 C493.9,290.4 507.9,289.6 514.6,290.0 C521.3,290.4 527.4,292.5 530.0,293.0" fill="none" stroke="#fc9a55" stroke-width="2.5" stroke-linecap="round" stroke-linejoin="round" />
</g>
<g filter="url(#bl1)" opacity="0.60">
<path d="M573.6,289.6 C577.8,289.7 590.5,290.1 598.7,290.0 C606.9,289.9 613.0,289.0 622.7,288.9 C632.4,288.8 651.3,289.5 657.0,289.6" fill="none" stroke="#fc9a55" stroke-width="3" stroke-linecap="round" stroke-linejoin="round" />
</g>
<g filter="url(#bl1)" opacity="0.60">
<path d="M489.4,351.2 C490.8,351.6 494.8,352.5 497.6,353.3 C500.4,354.1 503.5,355.5 506.3,356.2 C509.1,356.9 511.3,357.7 514.2,357.7 C517.1,357.7 520.8,357.0 523.6,356.2 C526.4,355.4 528.4,354.2 530.8,352.6 C533.2,351.0 536.8,347.8 538.0,346.8" fill="none" stroke="#fc9a55" stroke-width="3" stroke-linecap="round" stroke-linejoin="round" />
</g>
<g filter="url(#bl2)" opacity="0.50">
<path d="M605.0,369.0 C607.9,369.3 616.8,371.0 622.6,371.0 C628.4,371.0 637.1,369.3 640.0,369.0" fill="none" stroke="#fc9a55" stroke-width="6" stroke-linecap="round" stroke-linejoin="round" />
</g>
<line x1="489.6" y1="220.9" x2="489.6" y2="373.2" stroke="#aeaaa2" stroke-width="1.15" />
<line x1="514.6" y1="220.9" x2="514.6" y2="373.2" stroke="#aeaaa2" stroke-width="1.15" />
<line x1="548.4" y1="220.9" x2="548.4" y2="373.2" stroke="#aeaaa2" stroke-width="1.15" />
<line x1="573.6" y1="220.9" x2="573.6" y2="373.2" stroke="#aeaaa2" stroke-width="1.15" />
<line x1="598.7" y1="220.9" x2="598.7" y2="373.2" stroke="#aeaaa2" stroke-width="1.15" />
<line x1="622.7" y1="220.9" x2="622.7" y2="373.2" stroke="#aeaaa2" stroke-width="1.15" />
<g opacity="0.3">
<path d="M465.2,327.4 C466.8,327.8 471.5,328.8 474.5,329.5 C477.5,330.2 480.7,331.1 483.2,331.7 C485.7,332.3 487.7,332.6 489.4,333.1 C491.1,333.6 491.9,333.8 493.3,334.6 C494.7,335.5 496.4,337.0 497.6,338.2 C498.8,339.4 499.3,341.0 500.5,341.8 C501.7,342.6 502.5,342.8 504.8,343.2 C507.1,343.6 511.1,344.0 514.2,344.0 C517.3,344.0 520.6,343.9 523.6,343.2 C526.6,342.5 529.6,341.4 532.2,339.6 C534.8,337.8 537.5,334.2 539.4,332.4 C541.3,330.6 542.3,329.6 543.8,328.8 C545.3,328.0 547.6,328.0 548.4,327.8" fill="none" stroke="#f07040" stroke-width="3.0595" stroke-linecap="round" stroke-linejoin="round" />
<path d="M489.4,349.0 C489.8,348.2 490.7,346.3 491.8,344.0 C492.9,341.7 494.3,338.2 496.2,335.3 C498.1,332.4 500.4,328.9 503.4,326.7 C506.4,324.5 510.6,322.4 514.2,322.3 C517.8,322.2 522.0,324.6 525.0,325.9 C528.0,327.2 530.0,329.3 532.2,330.3 C534.4,331.3 536.1,331.9 538.0,331.7 C539.9,331.4 542.1,329.4 543.8,328.8 C545.5,328.2 547.6,328.0 548.4,327.8" fill="none" stroke="#f07040" stroke-width="2.57075" stroke-linecap="round" stroke-linejoin="round" />
<path d="M465.2,337.5 C466.3,337.9 469.7,338.5 471.7,339.6 C473.7,340.7 475.5,342.6 477.4,344.0 C479.3,345.4 481.2,347.2 483.2,348.3 C485.2,349.4 487.0,350.3 489.4,350.5 C491.8,350.7 494.8,350.3 497.6,349.7 C500.4,349.1 503.5,347.6 506.3,346.8 C509.1,346.0 511.3,345.2 514.2,344.7 C517.1,344.2 520.6,344.6 523.6,344.0 C526.6,343.4 529.3,342.2 532.2,341.1 C535.1,340.0 538.2,338.2 540.9,337.5 C543.6,336.8 547.1,336.9 548.4,336.8" fill="none" stroke="#f07040" stroke-width="3.1572499999999994" stroke-linecap="round" stroke-linejoin="round" />
<path d="M465.2,327.4 C466.0,328.2 468.2,330.1 470.2,332.4 C472.2,334.7 475.0,338.6 477.4,341.1 C479.8,343.6 482.6,346.1 484.6,347.6 C486.6,349.1 488.6,349.6 489.4,350.0" fill="none" stroke="#f07040" stroke-width="2.57075" stroke-linecap="round" stroke-linejoin="round" />
<path d="M497.0,338.0 C498.1,338.8 501.4,340.7 503.4,342.5 C505.4,344.3 507.4,347.4 509.2,349.0 C511.0,350.6 512.3,351.9 514.2,351.9 C516.1,351.9 518.7,350.3 520.7,349.0 C522.8,347.7 524.6,345.3 526.5,344.0 C528.4,342.7 531.1,341.5 532.0,341.0" fill="none" stroke="#f07040" stroke-width="2.57075" stroke-linecap="round" stroke-linejoin="round" />
<path d="M506.3,359.1 C507.6,358.9 511.3,357.6 514.2,357.7 C517.1,357.8 520.8,359.0 523.6,359.8 C526.4,360.6 528.7,362.0 530.8,362.7 C532.9,363.4 535.1,363.9 536.0,364.2" fill="none" stroke="#f07040" stroke-width="2.473" stroke-linecap="round" stroke-linejoin="round" />
<path d="M489.4,352.0 C490.2,352.7 492.4,354.4 494.0,356.0 C495.6,357.6 497.4,359.9 499.1,361.3 C500.8,362.7 503.2,363.7 504.0,364.2" fill="none" stroke="#f07040" stroke-width="2.473" stroke-linecap="round" stroke-linejoin="round" />
<path d="M465.2,364.2 C471.0,364.2 489.2,364.2 500.0,364.2 C510.8,364.2 521.9,364.2 530.0,364.2 C538.1,364.2 541.1,364.3 548.4,364.2 C555.6,364.1 567.1,363.9 573.5,363.3 C579.9,362.7 583.4,361.5 587.0,360.8 C590.6,360.1 593.4,359.4 595.4,359.1 C597.4,358.8 598.2,359.1 598.7,359.1" fill="none" stroke="#f07040" stroke-width="3.4505" stroke-linecap="round" stroke-linejoin="round" />
<path d="M465.2,365.6 C466.3,366.1 469.4,367.2 471.7,368.5 C474.0,369.8 477.7,372.6 478.9,373.4" fill="none" stroke="#f07040" stroke-width="2.57075" stroke-linecap="round" stroke-linejoin="round" />
<path d="M489.4,364.5 C490.8,364.9 494.8,366.0 497.6,367.0 C500.4,368.0 503.5,369.8 506.3,370.6 C509.1,371.5 511.3,372.1 514.2,372.1 C517.1,372.1 520.6,371.5 523.6,370.6 C526.6,369.8 529.3,368.1 532.2,367.0 C535.1,365.9 539.5,364.7 540.9,364.2" fill="none" stroke="#f07040" stroke-width="2.57075" stroke-linecap="round" stroke-linejoin="round" />
<path d="M489.4,350.5 C489.8,351.1 490.7,351.6 491.8,354.1 C492.9,356.6 495.0,362.4 496.2,365.6 C497.4,368.8 498.6,372.1 499.1,373.4" fill="none" stroke="#f07040" stroke-width="2.473" stroke-linecap="round" stroke-linejoin="round" />
<path d="M548.4,336.8 C547.1,336.9 543.1,335.4 540.9,337.5 C538.7,339.6 536.8,345.7 535.1,349.7 C533.4,353.7 532.2,357.4 530.8,361.3 C529.4,365.2 527.2,371.4 526.5,373.4" fill="none" stroke="#f07040" stroke-width="2.473" stroke-linecap="round" stroke-linejoin="round" />
<path d="M548.4,327.8 C549.0,327.9 550.0,326.7 551.7,328.1 C553.4,329.6 555.9,333.1 558.4,336.5 C560.9,339.9 564.3,345.3 566.8,348.2 C569.3,351.1 572.4,353.1 573.5,354.1" fill="none" stroke="#f07040" stroke-width="2.473" stroke-linecap="round" stroke-linejoin="round" />
<path d="M548.4,327.2 C549.5,327.5 552.3,328.0 555.1,328.9 C557.9,329.8 562.0,331.4 565.1,332.3 C568.2,333.2 571.2,333.2 573.5,334.0 C575.8,334.8 576.9,336.2 578.6,337.3 C580.3,338.4 581.7,339.9 583.6,340.7 C585.5,341.5 587.8,342.2 590.3,342.3 C592.8,342.4 596.5,342.2 598.7,341.5 C601.0,340.8 601.6,340.1 603.8,338.1 C606.0,336.2 609.6,332.3 612.1,329.8 C614.6,327.3 617.1,324.5 618.9,323.0 C620.6,321.5 620.9,321.1 622.6,321.0 C624.3,320.9 626.2,320.7 628.9,322.2 C631.6,323.7 635.9,326.9 639.0,329.8 C642.1,332.7 644.5,336.7 647.4,339.8 C650.3,342.9 655.1,346.8 656.6,348.2" fill="none" stroke="#f07040" stroke-width="2.864" stroke-linecap="round" stroke-linejoin="round" />
<path d="M574.4,349.9 C575.1,348.8 576.8,346.3 578.6,343.2 C580.4,340.1 583.1,334.6 585.3,331.4 C587.5,328.2 589.8,325.5 592.0,323.9 C594.2,322.3 595.4,322.2 598.7,321.7 C602.1,321.2 608.1,321.2 612.1,321.0 C616.1,320.8 619.2,320.2 622.6,320.5 C626.0,320.8 629.0,321.2 632.3,323.0 C635.6,324.8 639.0,328.0 642.4,331.4 C645.8,334.8 650.0,340.5 652.4,343.2 C654.8,345.9 655.9,346.7 656.6,347.4" fill="none" stroke="#f07040" stroke-width="2.864" stroke-linecap="round" stroke-linejoin="round" />
<path d="M548.4,337.3 C549.5,337.6 552.9,338.0 555.1,339.0 C557.3,340.0 559.6,341.4 561.8,343.2 C564.0,345.0 566.5,348.2 568.5,349.9 C570.5,351.6 571.3,352.6 573.5,353.3 C575.7,354.0 578.8,353.3 581.9,354.1 C585.0,354.9 589.2,357.3 592.0,358.3 C594.8,359.3 596.5,358.9 598.7,360.0 C600.9,361.1 603.2,363.5 605.4,365.0 C607.6,366.5 609.2,368.2 612.1,369.2 C615.0,370.2 619.2,370.9 622.6,370.9 C626.0,370.9 629.0,370.0 632.3,369.2 C635.6,368.4 639.0,366.8 642.4,365.8 C645.8,364.8 649.9,363.7 652.4,363.3 C654.9,362.9 656.6,363.3 657.5,363.3" fill="none" stroke="#f07040" stroke-width="3.1572499999999994" stroke-linecap="round" stroke-linejoin="round" />
<path d="M573.5,334.0 C574.6,335.0 577.8,338.3 580.3,339.8 C582.8,341.3 585.5,341.2 588.6,343.2 C591.7,345.2 595.9,348.5 598.7,351.6 C601.5,354.7 603.4,358.0 605.4,361.6 C607.4,365.2 610.1,371.4 611.0,373.4" fill="none" stroke="#f07040" stroke-width="2.57075" stroke-linecap="round" stroke-linejoin="round" />
<path d="M612.0,372.2 C613.8,372.2 619.3,372.1 622.6,372.0 C625.9,371.9 630.4,371.8 632.0,371.8" fill="none" stroke="#f07040" stroke-width="3.8415" stroke-linecap="round" stroke-linejoin="round" />
<path d="M632.3,356.6 C634.0,354.4 639.3,346.8 642.4,343.2 C645.5,339.6 648.4,336.6 650.8,334.8 C653.2,333.0 655.6,332.7 656.6,332.3" fill="none" stroke="#f07040" stroke-width="2.473" stroke-linecap="round" stroke-linejoin="round" />
<path d="M639.0,366.7 C640.7,365.0 646.2,358.8 649.1,356.6 C652.0,354.4 655.4,353.9 656.6,353.3" fill="none" stroke="#f07040" stroke-width="2.473" stroke-linecap="round" stroke-linejoin="round" />
<path d="M598.7,359.1 C599.8,359.9 603.2,362.4 605.4,364.0 C607.6,365.6 610.9,368.2 612.0,369.0" fill="none" stroke="#f07040" stroke-width="2.57075" stroke-linecap="round" stroke-linejoin="round" />
<path d="M622.6,320.5 C624.7,321.4 631.3,323.4 635.0,326.0 C638.7,328.6 641.4,332.8 645.0,336.0 C648.6,339.2 654.7,343.5 656.6,345.0" fill="none" stroke="#f07040" stroke-width="2.473" stroke-linecap="round" stroke-linejoin="round" />
<path d="M465.2,240.6 C466.1,239.8 468.7,237.4 470.3,235.5 C471.9,233.6 473.4,231.5 474.7,229.0 C476.0,226.5 477.7,221.9 478.3,220.5" fill="none" stroke="#f07040" stroke-width="2.3200000000000003" stroke-linecap="round" stroke-linejoin="round" />
<path d="M465.2,253.0 C466.3,252.2 469.7,250.3 471.8,248.0 C473.9,245.7 475.7,242.0 477.6,239.1 C479.5,236.2 481.4,232.5 483.4,230.4 C485.3,228.3 487.4,227.6 489.3,226.7 C491.2,225.8 493.2,225.8 495.1,225.2 C497.0,224.6 499.1,223.8 500.9,223.0 C502.7,222.2 505.1,220.9 506.0,220.5" fill="none" stroke="#f07040" stroke-width="3.255" stroke-linecap="round" stroke-linejoin="round" />
<path d="M533.1,220.5 C533.6,221.3 534.5,223.0 536.0,225.3 C537.5,227.6 539.7,231.6 541.8,234.1 C543.9,236.6 546.4,240.8 548.8,240.6 C551.2,240.3 554.1,235.6 556.4,232.6 C558.6,229.6 561.2,224.4 562.3,222.4 C563.4,220.4 562.9,220.8 563.0,220.5" fill="none" stroke="#f07040" stroke-width="2.3200000000000003" stroke-linecap="round" stroke-linejoin="round" />
<path d="M529.6,220.5 C530.6,222.6 533.5,228.7 535.5,233.0 C537.5,237.3 539.2,243.0 541.4,246.3 C543.6,249.6 546.3,253.0 548.8,253.0 C551.3,253.0 554.2,249.1 556.6,246.3 C559.0,243.5 561.3,239.1 563.2,236.2 C565.1,233.3 566.5,230.6 568.2,228.7 C569.9,226.8 571.3,225.8 573.6,224.5 C575.9,223.2 580.6,221.6 582.0,221.0" fill="none" stroke="#f07040" stroke-width="3.34" stroke-linecap="round" stroke-linejoin="round" />
<path d="M610.5,220.3 C611.2,221.0 613.2,223.1 614.5,224.5 C615.8,225.9 617.1,227.8 618.5,229.0 C619.9,230.2 621.3,231.6 622.7,231.6 C624.1,231.6 625.6,230.2 627.0,229.0 C628.4,227.8 629.7,225.9 631.0,224.5 C632.3,223.1 634.3,221.0 635.0,220.3" fill="none" stroke="#f07040" stroke-width="3.34" stroke-linecap="round" stroke-linejoin="round" />
<path d="M605.0,220.3 C605.8,220.8 608.4,222.5 610.0,223.5 C611.6,224.5 613.8,226.0 614.5,226.5" fill="none" stroke="#f07040" stroke-width="2.3200000000000003" stroke-linecap="round" stroke-linejoin="round" />
<path d="M646.0,220.8 C646.8,221.0 649.1,221.4 651.0,222.0 C652.9,222.6 656.4,224.1 657.5,224.5" fill="none" stroke="#f07040" stroke-width="3.17" stroke-linecap="round" stroke-linejoin="round" />
<path d="M521.4,220.9 C522.0,221.9 523.7,224.5 525.0,227.0 C526.3,229.5 528.7,234.5 529.4,236.0" fill="none" stroke="#f07040" stroke-width="2.15" stroke-linecap="round" stroke-linejoin="round" />
</g>
<path d="M465.2,327.4 C466.8,327.8 471.5,328.8 474.5,329.5 C477.5,330.2 480.7,331.1 483.2,331.7 C485.7,332.3 487.7,332.6 489.4,333.1 C491.1,333.6 491.9,333.8 493.3,334.6 C494.7,335.5 496.4,337.0 497.6,338.2 C498.8,339.4 499.3,341.0 500.5,341.8 C501.7,342.6 502.5,342.8 504.8,343.2 C507.1,343.6 511.1,344.0 514.2,344.0 C517.3,344.0 520.6,343.9 523.6,343.2 C526.6,342.5 529.6,341.4 532.2,339.6 C534.8,337.8 537.5,334.2 539.4,332.4 C541.3,330.6 542.3,329.6 543.8,328.8 C545.3,328.0 547.6,328.0 548.4,327.8" fill="none" stroke="#96100a" stroke-width="1.7594999999999998" stroke-linecap="round" stroke-linejoin="round" />
<path d="M489.4,349.0 C489.8,348.2 490.7,346.3 491.8,344.0 C492.9,341.7 494.3,338.2 496.2,335.3 C498.1,332.4 500.4,328.9 503.4,326.7 C506.4,324.5 510.6,322.4 514.2,322.3 C517.8,322.2 522.0,324.6 525.0,325.9 C528.0,327.2 530.0,329.3 532.2,330.3 C534.4,331.3 536.1,331.9 538.0,331.7 C539.9,331.4 542.1,329.4 543.8,328.8 C545.5,328.2 547.6,328.0 548.4,327.8" fill="none" stroke="#96100a" stroke-width="1.2707499999999998" stroke-linecap="round" stroke-linejoin="round" />
<path d="M465.2,337.5 C466.3,337.9 469.7,338.5 471.7,339.6 C473.7,340.7 475.5,342.6 477.4,344.0 C479.3,345.4 481.2,347.2 483.2,348.3 C485.2,349.4 487.0,350.3 489.4,350.5 C491.8,350.7 494.8,350.3 497.6,349.7 C500.4,349.1 503.5,347.6 506.3,346.8 C509.1,346.0 511.3,345.2 514.2,344.7 C517.1,344.2 520.6,344.6 523.6,344.0 C526.6,343.4 529.3,342.2 532.2,341.1 C535.1,340.0 538.2,338.2 540.9,337.5 C543.6,336.8 547.1,336.9 548.4,336.8" fill="none" stroke="#96100a" stroke-width="1.8572499999999996" stroke-linecap="round" stroke-linejoin="round" />
<path d="M465.2,327.4 C466.0,328.2 468.2,330.1 470.2,332.4 C472.2,334.7 475.0,338.6 477.4,341.1 C479.8,343.6 482.6,346.1 484.6,347.6 C486.6,349.1 488.6,349.6 489.4,350.0" fill="none" stroke="#96100a" stroke-width="1.2707499999999998" stroke-linecap="round" stroke-linejoin="round" />
<path d="M497.0,338.0 C498.1,338.8 501.4,340.7 503.4,342.5 C505.4,344.3 507.4,347.4 509.2,349.0 C511.0,350.6 512.3,351.9 514.2,351.9 C516.1,351.9 518.7,350.3 520.7,349.0 C522.8,347.7 524.6,345.3 526.5,344.0 C528.4,342.7 531.1,341.5 532.0,341.0" fill="none" stroke="#96100a" stroke-width="1.2707499999999998" stroke-linecap="round" stroke-linejoin="round" />
<path d="M506.3,359.1 C507.6,358.9 511.3,357.6 514.2,357.7 C517.1,357.8 520.8,359.0 523.6,359.8 C526.4,360.6 528.7,362.0 530.8,362.7 C532.9,363.4 535.1,363.9 536.0,364.2" fill="none" stroke="#96100a" stroke-width="1.1729999999999998" stroke-linecap="round" stroke-linejoin="round" />
<path d="M489.4,352.0 C490.2,352.7 492.4,354.4 494.0,356.0 C495.6,357.6 497.4,359.9 499.1,361.3 C500.8,362.7 503.2,363.7 504.0,364.2" fill="none" stroke="#96100a" stroke-width="1.1729999999999998" stroke-linecap="round" stroke-linejoin="round" />
<path d="M465.2,364.2 C471.0,364.2 489.2,364.2 500.0,364.2 C510.8,364.2 521.9,364.2 530.0,364.2 C538.1,364.2 541.1,364.3 548.4,364.2 C555.6,364.1 567.1,363.9 573.5,363.3 C579.9,362.7 583.4,361.5 587.0,360.8 C590.6,360.1 593.4,359.4 595.4,359.1 C597.4,358.8 598.2,359.1 598.7,359.1" fill="none" stroke="#96100a" stroke-width="2.1504999999999996" stroke-linecap="round" stroke-linejoin="round" />
<path d="M465.2,365.6 C466.3,366.1 469.4,367.2 471.7,368.5 C474.0,369.8 477.7,372.6 478.9,373.4" fill="none" stroke="#96100a" stroke-width="1.2707499999999998" stroke-linecap="round" stroke-linejoin="round" />
<path d="M489.4,364.5 C490.8,364.9 494.8,366.0 497.6,367.0 C500.4,368.0 503.5,369.8 506.3,370.6 C509.1,371.5 511.3,372.1 514.2,372.1 C517.1,372.1 520.6,371.5 523.6,370.6 C526.6,369.8 529.3,368.1 532.2,367.0 C535.1,365.9 539.5,364.7 540.9,364.2" fill="none" stroke="#96100a" stroke-width="1.2707499999999998" stroke-linecap="round" stroke-linejoin="round" />
<path d="M489.4,350.5 C489.8,351.1 490.7,351.6 491.8,354.1 C492.9,356.6 495.0,362.4 496.2,365.6 C497.4,368.8 498.6,372.1 499.1,373.4" fill="none" stroke="#96100a" stroke-width="1.1729999999999998" stroke-linecap="round" stroke-linejoin="round" />
<path d="M548.4,336.8 C547.1,336.9 543.1,335.4 540.9,337.5 C538.7,339.6 536.8,345.7 535.1,349.7 C533.4,353.7 532.2,357.4 530.8,361.3 C529.4,365.2 527.2,371.4 526.5,373.4" fill="none" stroke="#96100a" stroke-width="1.1729999999999998" stroke-linecap="round" stroke-linejoin="round" />
<path d="M548.4,327.8 C549.0,327.9 550.0,326.7 551.7,328.1 C553.4,329.6 555.9,333.1 558.4,336.5 C560.9,339.9 564.3,345.3 566.8,348.2 C569.3,351.1 572.4,353.1 573.5,354.1" fill="none" stroke="#96100a" stroke-width="1.1729999999999998" stroke-linecap="round" stroke-linejoin="round" />
<path d="M548.4,327.2 C549.5,327.5 552.3,328.0 555.1,328.9 C557.9,329.8 562.0,331.4 565.1,332.3 C568.2,333.2 571.2,333.2 573.5,334.0 C575.8,334.8 576.9,336.2 578.6,337.3 C580.3,338.4 581.7,339.9 583.6,340.7 C585.5,341.5 587.8,342.2 590.3,342.3 C592.8,342.4 596.5,342.2 598.7,341.5 C601.0,340.8 601.6,340.1 603.8,338.1 C606.0,336.2 609.6,332.3 612.1,329.8 C614.6,327.3 617.1,324.5 618.9,323.0 C620.6,321.5 620.9,321.1 622.6,321.0 C624.3,320.9 626.2,320.7 628.9,322.2 C631.6,323.7 635.9,326.9 639.0,329.8 C642.1,332.7 644.5,336.7 647.4,339.8 C650.3,342.9 655.1,346.8 656.6,348.2" fill="none" stroke="#96100a" stroke-width="1.5639999999999998" stroke-linecap="round" stroke-linejoin="round" />
<path d="M574.4,349.9 C575.1,348.8 576.8,346.3 578.6,343.2 C580.4,340.1 583.1,334.6 585.3,331.4 C587.5,328.2 589.8,325.5 592.0,323.9 C594.2,322.3 595.4,322.2 598.7,321.7 C602.1,321.2 608.1,321.2 612.1,321.0 C616.1,320.8 619.2,320.2 622.6,320.5 C626.0,320.8 629.0,321.2 632.3,323.0 C635.6,324.8 639.0,328.0 642.4,331.4 C645.8,334.8 650.0,340.5 652.4,343.2 C654.8,345.9 655.9,346.7 656.6,347.4" fill="none" stroke="#96100a" stroke-width="1.5639999999999998" stroke-linecap="round" stroke-linejoin="round" />
<path d="M548.4,337.3 C549.5,337.6 552.9,338.0 555.1,339.0 C557.3,340.0 559.6,341.4 561.8,343.2 C564.0,345.0 566.5,348.2 568.5,349.9 C570.5,351.6 571.3,352.6 573.5,353.3 C575.7,354.0 578.8,353.3 581.9,354.1 C585.0,354.9 589.2,357.3 592.0,358.3 C594.8,359.3 596.5,358.9 598.7,360.0 C600.9,361.1 603.2,363.5 605.4,365.0 C607.6,366.5 609.2,368.2 612.1,369.2 C615.0,370.2 619.2,370.9 622.6,370.9 C626.0,370.9 629.0,370.0 632.3,369.2 C635.6,368.4 639.0,366.8 642.4,365.8 C645.8,364.8 649.9,363.7 652.4,363.3 C654.9,362.9 656.6,363.3 657.5,363.3" fill="none" stroke="#96100a" stroke-width="1.8572499999999996" stroke-linecap="round" stroke-linejoin="round" />
<path d="M573.5,334.0 C574.6,335.0 577.8,338.3 580.3,339.8 C582.8,341.3 585.5,341.2 588.6,343.2 C591.7,345.2 595.9,348.5 598.7,351.6 C601.5,354.7 603.4,358.0 605.4,361.6 C607.4,365.2 610.1,371.4 611.0,373.4" fill="none" stroke="#96100a" stroke-width="1.2707499999999998" stroke-linecap="round" stroke-linejoin="round" />
<path d="M612.0,372.2 C613.8,372.2 619.3,372.1 622.6,372.0 C625.9,371.9 630.4,371.8 632.0,371.8" fill="none" stroke="#96100a" stroke-width="2.5414999999999996" stroke-linecap="round" stroke-linejoin="round" />
<path d="M632.3,356.6 C634.0,354.4 639.3,346.8 642.4,343.2 C645.5,339.6 648.4,336.6 650.8,334.8 C653.2,333.0 655.6,332.7 656.6,332.3" fill="none" stroke="#96100a" stroke-width="1.1729999999999998" stroke-linecap="round" stroke-linejoin="round" />
<path d="M639.0,366.7 C640.7,365.0 646.2,358.8 649.1,356.6 C652.0,354.4 655.4,353.9 656.6,353.3" fill="none" stroke="#96100a" stroke-width="1.1729999999999998" stroke-linecap="round" stroke-linejoin="round" />
<path d="M598.7,359.1 C599.8,359.9 603.2,362.4 605.4,364.0 C607.6,365.6 610.9,368.2 612.0,369.0" fill="none" stroke="#96100a" stroke-width="1.2707499999999998" stroke-linecap="round" stroke-linejoin="round" />
<path d="M622.6,320.5 C624.7,321.4 631.3,323.4 635.0,326.0 C638.7,328.6 641.4,332.8 645.0,336.0 C648.6,339.2 654.7,343.5 656.6,345.0" fill="none" stroke="#96100a" stroke-width="1.1729999999999998" stroke-linecap="round" stroke-linejoin="round" />
<path d="M465.2,240.6 C466.1,239.8 468.7,237.4 470.3,235.5 C471.9,233.6 473.4,231.5 474.7,229.0 C476.0,226.5 477.7,221.9 478.3,220.5" fill="none" stroke="#96100a" stroke-width="1.02" stroke-linecap="round" stroke-linejoin="round" />
<path d="M465.2,253.0 C466.3,252.2 469.7,250.3 471.8,248.0 C473.9,245.7 475.7,242.0 477.6,239.1 C479.5,236.2 481.4,232.5 483.4,230.4 C485.3,228.3 487.4,227.6 489.3,226.7 C491.2,225.8 493.2,225.8 495.1,225.2 C497.0,224.6 499.1,223.8 500.9,223.0 C502.7,222.2 505.1,220.9 506.0,220.5" fill="none" stroke="#96100a" stroke-width="1.9549999999999998" stroke-linecap="round" stroke-linejoin="round" />
<path d="M533.1,220.5 C533.6,221.3 534.5,223.0 536.0,225.3 C537.5,227.6 539.7,231.6 541.8,234.1 C543.9,236.6 546.4,240.8 548.8,240.6 C551.2,240.3 554.1,235.6 556.4,232.6 C558.6,229.6 561.2,224.4 562.3,222.4 C563.4,220.4 562.9,220.8 563.0,220.5" fill="none" stroke="#96100a" stroke-width="1.02" stroke-linecap="round" stroke-linejoin="round" />
<path d="M529.6,220.5 C530.6,222.6 533.5,228.7 535.5,233.0 C537.5,237.3 539.2,243.0 541.4,246.3 C543.6,249.6 546.3,253.0 548.8,253.0 C551.3,253.0 554.2,249.1 556.6,246.3 C559.0,243.5 561.3,239.1 563.2,236.2 C565.1,233.3 566.5,230.6 568.2,228.7 C569.9,226.8 571.3,225.8 573.6,224.5 C575.9,223.2 580.6,221.6 582.0,221.0" fill="none" stroke="#96100a" stroke-width="2.04" stroke-linecap="round" stroke-linejoin="round" />
<path d="M610.5,220.3 C611.2,221.0 613.2,223.1 614.5,224.5 C615.8,225.9 617.1,227.8 618.5,229.0 C619.9,230.2 621.3,231.6 622.7,231.6 C624.1,231.6 625.6,230.2 627.0,229.0 C628.4,227.8 629.7,225.9 631.0,224.5 C632.3,223.1 634.3,221.0 635.0,220.3" fill="none" stroke="#96100a" stroke-width="2.04" stroke-linecap="round" stroke-linejoin="round" />
<path d="M605.0,220.3 C605.8,220.8 608.4,222.5 610.0,223.5 C611.6,224.5 613.8,226.0 614.5,226.5" fill="none" stroke="#96100a" stroke-width="1.02" stroke-linecap="round" stroke-linejoin="round" />
<path d="M646.0,220.8 C646.8,221.0 649.1,221.4 651.0,222.0 C652.9,222.6 656.4,224.1 657.5,224.5" fill="none" stroke="#96100a" stroke-width="1.87" stroke-linecap="round" stroke-linejoin="round" />
<path d="M521.4,220.9 C522.0,221.9 523.7,224.5 525.0,227.0 C526.3,229.5 528.7,234.5 529.4,236.0" fill="none" stroke="#96100a" stroke-width="0.85" stroke-linecap="round" stroke-linejoin="round" />
<path d="M489.4,351.2 C490.8,351.6 494.8,352.5 497.6,353.3 C500.4,354.1 503.5,355.5 506.3,356.2 C509.1,356.9 511.3,357.7 514.2,357.7 C517.1,357.7 520.8,357.0 523.6,356.2 C526.4,355.4 528.4,354.2 530.8,352.6 C533.2,351.0 535.8,349.0 538.0,346.8 C540.2,344.6 542.8,340.8 543.8,339.6" fill="none" stroke="#f07a40" stroke-width="1.2" stroke-linecap="round" stroke-linejoin="round" />
<path d="M573.5,353.3 C574.9,353.9 579.1,355.7 581.9,356.6 C584.6,357.5 588.6,358.2 590.0,358.5" fill="none" stroke="#f07a40" stroke-width="1.2" stroke-linecap="round" stroke-linejoin="round" />
<path d="M615.0,371.0 C616.7,370.5 621.7,369.5 625.0,368.0 C628.3,366.5 631.7,364.7 635.0,362.0 C638.3,359.3 641.4,355.3 645.0,352.0 C648.6,348.7 654.7,343.7 656.6,342.0" fill="none" stroke="#f07a40" stroke-width="1.2" stroke-linecap="round" stroke-linejoin="round" />
<path d="M465.5,278.8 C466.9,276.8 471.4,269.8 474.2,267.0 C477.0,264.2 479.8,262.9 482.4,261.9 C485.0,260.9 486.9,261.6 489.6,260.9 C492.3,260.2 496.6,258.7 498.7,257.8 C500.8,256.9 501.4,255.9 502.0,255.5" fill="none" stroke="#96100a" stroke-width="1.25" stroke-linecap="round" stroke-linejoin="round" />
<path d="M500.0,256.8 C501.1,256.0 504.4,253.1 506.9,251.7 C509.3,250.3 512.0,248.4 514.7,248.6 C517.4,248.8 521.0,251.3 523.2,252.7 C525.4,254.1 527.2,256.4 528.0,257.2" fill="none" stroke="#f08048" stroke-width="1.3" stroke-linecap="round" stroke-linejoin="round" />
<path d="M527.0,256.0 C528.1,257.1 530.6,259.9 533.4,262.9 C536.2,265.9 541.0,271.5 543.6,274.1 C546.2,276.8 547.9,278.0 548.7,278.8" fill="none" stroke="#96100a" stroke-width="1.25" stroke-linecap="round" stroke-linejoin="round" />
<path d="M465.5,278.8 C467.4,278.8 473.0,278.8 477.0,278.8 C481.0,278.8 486.0,279.6 489.6,278.8 C493.2,278.0 495.8,275.5 498.7,274.1 C501.6,272.8 504.2,271.5 506.9,270.7 C509.6,269.9 511.3,269.4 514.7,269.4 C518.1,269.4 523.1,269.9 527.3,270.7 C531.4,271.5 536.0,272.8 539.6,274.1 C543.2,275.5 547.2,278.0 548.7,278.8" fill="none" stroke="#96100a" stroke-width="1.25" stroke-linecap="round" stroke-linejoin="round" />
<path d="M548.2,278.6 C550.0,277.1 555.4,272.1 558.7,269.4 C562.0,266.7 565.4,264.2 567.9,262.6 C570.4,261.0 571.3,260.6 573.6,259.8 C575.9,259.0 578.8,259.2 581.6,258.0 C584.5,256.8 588.3,253.9 590.7,252.3 C593.1,250.7 595.1,249.1 596.0,248.5" fill="none" stroke="#96100a" stroke-width="1.25" stroke-linecap="round" stroke-linejoin="round" />
<path d="M594.0,249.5 C594.8,249.1 595.4,247.8 598.7,247.3 C602.0,246.8 609.6,246.7 613.6,246.6 C617.6,246.5 618.9,246.0 622.7,246.6 C626.5,247.2 633.4,249.0 636.4,250.0 C639.4,251.0 640.2,252.1 641.0,252.5" fill="none" stroke="#f08048" stroke-width="1.3" stroke-linecap="round" stroke-linejoin="round" />
<path d="M639.0,251.5 C640.5,252.4 644.9,255.4 647.9,256.9 C650.9,258.4 655.0,259.6 657.0,260.3 C659.0,261.0 659.5,260.9 660.0,261.0" fill="none" stroke="#96100a" stroke-width="1.25" stroke-linecap="round" stroke-linejoin="round" />
<path d="M548.2,278.6 C550.3,278.6 556.8,278.7 561.0,278.8 C565.2,278.9 570.2,279.9 573.6,279.3 C577.0,278.7 578.8,276.5 581.6,275.2 C584.5,273.9 587.9,272.5 590.7,271.7 C593.6,270.9 596.7,271.3 598.7,270.6 C600.8,269.9 601.8,268.5 603.0,267.5 C604.2,266.5 605.5,265.0 606.0,264.5" fill="none" stroke="#96100a" stroke-width="1.25" stroke-linecap="round" stroke-linejoin="round" />
<path d="M604.5,266.0 C605.1,265.3 606.7,263.7 608.2,261.8 C609.7,259.9 612.1,256.5 613.6,254.6 C615.1,252.7 615.5,251.7 617.0,250.5 C618.5,249.3 620.9,247.9 622.7,247.7 C624.5,247.5 626.5,248.7 628.0,249.5 C629.5,250.3 630.4,250.9 631.9,252.3 C633.4,253.7 635.5,256.1 637.0,258.0 C638.5,259.9 640.3,262.8 641.0,263.7" fill="none" stroke="#f08048" stroke-width="1.3" stroke-linecap="round" stroke-linejoin="round" />
<path d="M640.0,262.5 C640.8,263.5 643.3,266.6 645.0,268.5 C646.7,270.4 648.2,272.3 650.2,274.0 C652.2,275.7 655.4,277.6 657.0,278.6 C658.6,279.6 659.5,279.8 660.0,280.0" fill="none" stroke="#96100a" stroke-width="1.25" stroke-linecap="round" stroke-linejoin="round" />
<path d="M465.2,303.9 C466.6,303.1 470.8,300.9 473.7,299.2 C476.6,297.4 479.7,294.8 482.4,293.4 C485.1,292.0 486.5,291.3 489.7,290.9 C492.9,290.4 497.2,290.8 501.4,290.7 C505.5,290.6 511.0,290.1 514.6,290.4 C518.2,290.7 520.4,291.5 523.3,292.6 C526.2,293.7 529.2,295.5 532.1,297.0 C535.0,298.5 538.1,300.2 540.8,301.4 C543.5,302.5 546.9,303.5 548.1,303.9" fill="none" stroke="#96100a" stroke-width="1.25" stroke-linecap="round" stroke-linejoin="round" />
<path d="M465.2,303.9 C467.1,303.8 472.5,303.4 476.6,303.3 C480.7,303.2 486.5,304.0 489.7,303.3 C492.9,302.6 493.7,300.7 495.6,299.2 C497.6,297.7 499.2,295.4 501.4,294.1 C503.6,292.8 506.5,291.8 508.7,291.2 C510.9,290.6 513.6,290.5 514.6,290.4" fill="none" stroke="#96100a" stroke-width="1.25" stroke-linecap="round" stroke-linejoin="round" />
<path d="M514.6,291.2 C516.1,291.6 520.5,292.4 523.5,293.5 C526.5,294.6 529.4,296.6 532.3,298.0 C535.2,299.4 538.4,301.2 541.0,302.2 C543.6,303.2 546.9,303.6 548.1,303.9" fill="none" stroke="#96100a" stroke-width="1.25" stroke-linecap="round" stroke-linejoin="round" />
<path d="M548.2,303.7 C550.0,302.6 555.4,299.0 558.7,296.9 C562.0,294.8 565.4,292.4 567.9,291.2 C570.4,290.0 571.9,289.9 573.6,289.6 C575.3,289.3 577.3,289.6 578.0,289.6" fill="none" stroke="#96100a" stroke-width="1.25" stroke-linecap="round" stroke-linejoin="round" />
<path d="M576.0,289.6 C579.8,289.7 590.9,290.1 598.7,290.0 C606.5,289.9 615.8,289.0 622.7,288.9 C629.6,288.8 633.8,289.2 640.0,289.3 C646.2,289.4 656.7,289.6 660.0,289.6" fill="none" stroke="#f08048" stroke-width="1.3" stroke-linecap="round" stroke-linejoin="round" />
<path d="M548.2,303.7 C552.4,303.7 568.0,304.3 573.6,303.7 C579.2,303.1 578.8,302.4 581.6,300.3 C584.5,298.2 587.9,292.9 590.7,291.2 C593.6,289.5 597.4,290.2 598.7,290.0" fill="none" stroke="#96100a" stroke-width="1.25" stroke-linecap="round" stroke-linejoin="round" />
<path d="M622.7,288.9 C625.0,289.3 632.6,290.1 636.4,291.2 C640.2,292.3 642.2,293.6 645.6,295.7 C649.0,297.8 654.6,302.1 657.0,303.7 C659.4,305.2 659.5,304.8 660.0,305.0" fill="none" stroke="#96100a" stroke-width="1.25" stroke-linecap="round" stroke-linejoin="round" />
</g>
<rect x="465.3" y="220.9" width="191.8" height="152.3" fill="none" stroke="#a8a098" stroke-width="1"/>
<text x="461.2" y="223.8" font-size="9.2" text-anchor="end" fill="#1a1a1a" >6</text>
<text x="670.4" y="223.8" font-size="9.2" text-anchor="end" fill="#1a1a1a" >6</text>
<line x1="465.3" y1="220.9" x2="468.3" y2="220.9" stroke="#555" stroke-width="0.8" />
<line x1="654.1" y1="220.9" x2="657.1" y2="220.9" stroke="#555" stroke-width="0.8" />
<text x="461.2" y="249.2" font-size="9.2" text-anchor="end" fill="#1a1a1a" >4</text>
<text x="670.4" y="249.2" font-size="9.2" text-anchor="end" fill="#1a1a1a" >4</text>
<line x1="465.3" y1="246.3" x2="468.3" y2="246.3" stroke="#555" stroke-width="0.8" />
<line x1="654.1" y1="246.3" x2="657.1" y2="246.3" stroke="#555" stroke-width="0.8" />
<text x="461.2" y="274.6" font-size="9.2" text-anchor="end" fill="#1a1a1a" >2</text>
<text x="670.4" y="274.6" font-size="9.2" text-anchor="end" fill="#1a1a1a" >2</text>
<line x1="465.3" y1="271.7" x2="468.3" y2="271.7" stroke="#555" stroke-width="0.8" />
<line x1="654.1" y1="271.7" x2="657.1" y2="271.7" stroke="#555" stroke-width="0.8" />
<text x="461.2" y="299.9" font-size="9.2" text-anchor="end" fill="#1a1a1a" >0</text>
<text x="670.4" y="299.9" font-size="9.2" text-anchor="end" fill="#1a1a1a" >0</text>
<line x1="465.3" y1="297.0" x2="468.3" y2="297.0" stroke="#555" stroke-width="0.8" />
<line x1="654.1" y1="297.0" x2="657.1" y2="297.0" stroke="#555" stroke-width="0.8" />
<text x="461.2" y="325.3" font-size="9.2" text-anchor="end" fill="#1a1a1a" >-2</text>
<text x="670.4" y="325.3" font-size="9.2" text-anchor="end" fill="#1a1a1a" >-2</text>
<line x1="465.3" y1="322.4" x2="468.3" y2="322.4" stroke="#555" stroke-width="0.8" />
<line x1="654.1" y1="322.4" x2="657.1" y2="322.4" stroke="#555" stroke-width="0.8" />
<text x="461.2" y="350.7" font-size="9.2" text-anchor="end" fill="#1a1a1a" >-4</text>
<text x="670.4" y="350.7" font-size="9.2" text-anchor="end" fill="#1a1a1a" >-4</text>
<line x1="465.3" y1="347.8" x2="468.3" y2="347.8" stroke="#555" stroke-width="0.8" />
<line x1="654.1" y1="347.8" x2="657.1" y2="347.8" stroke="#555" stroke-width="0.8" />
<text x="461.2" y="376.1" font-size="9.2" text-anchor="end" fill="#1a1a1a" >-6</text>
<text x="670.4" y="376.1" font-size="9.2" text-anchor="end" fill="#1a1a1a" >-6</text>
<line x1="465.3" y1="373.2" x2="468.3" y2="373.2" stroke="#555" stroke-width="0.8" />
<line x1="654.1" y1="373.2" x2="657.1" y2="373.2" stroke="#555" stroke-width="0.8" />
<text x="465.6" y="383.8" font-size="10.2" text-anchor="middle" fill="#1a1a1a" style="font-family:'Liberation Serif',serif">&#915;</text>
<text x="489.6" y="383.8" font-size="9.8" text-anchor="middle" fill="#1a1a1a">X</text>
<text x="514.6" y="383.8" font-size="9.8" text-anchor="middle" fill="#1a1a1a">M</text>
<text x="548.4" y="383.8" font-size="10.2" text-anchor="middle" fill="#1a1a1a" style="font-family:'Liberation Serif',serif">&#915;</text>
<text x="573.6" y="383.8" font-size="9.8" text-anchor="middle" fill="#1a1a1a">Z</text>
<text x="598.7" y="383.8" font-size="9.8" text-anchor="middle" fill="#1a1a1a">R</text>
<text x="622.7" y="383.8" font-size="9.8" text-anchor="middle" fill="#1a1a1a">A</text>
<text x="657.0" y="383.8" font-size="9.8" text-anchor="middle" fill="#1a1a1a">Z</text>
<text transform="translate(683.6,294.1) rotate(-90)" font-size="10.8" text-anchor="middle" fill="#1a1a1a">energy (eV)</text>
<text x="446.3" y="208.5" font-size="13.2" text-anchor="start" fill="#1a1a1a" letter-spacing="0.6">(d)</text>
<line x1="117.5" y1="45.4" x2="315.4" y2="45.4" stroke="#a8a8a8" stroke-width="0.9" stroke-dasharray="4.6 4.2" stroke-dashoffset="-1.2"/>
<line x1="117.5" y1="98.2" x2="315.4" y2="98.2" stroke="#a8a8a8" stroke-width="0.9" stroke-dasharray="4.6 4.2" stroke-dashoffset="-1.2"/>
<line x1="117.5" y1="82.4" x2="315.4" y2="82.4" stroke="#f65a52" stroke-width="1.0" stroke-dasharray="4.6 4.2" stroke-dashoffset="-1.2"/>
<line x1="465.3" y1="54.5" x2="657.1" y2="54.5" stroke="#a8a8a8" stroke-width="0.9" stroke-dasharray="4.6 4.2" stroke-dashoffset="-1.2"/>
<line x1="465.3" y1="97.2" x2="657.1" y2="97.2" stroke="#a8a8a8" stroke-width="0.9" stroke-dasharray="4.6 4.2" stroke-dashoffset="-1.2"/>
<line x1="465.3" y1="82.4" x2="657.1" y2="82.4" stroke="#f65a52" stroke-width="1.0" stroke-dasharray="4.6 4.2" stroke-dashoffset="-1.2"/>
<line x1="117.5" y1="277.5" x2="315.4" y2="277.5" stroke="#a8a8a8" stroke-width="0.9" stroke-dasharray="4.6 4.2" stroke-dashoffset="-1.2"/>
<line x1="117.5" y1="309.5" x2="315.4" y2="309.5" stroke="#a8a8a8" stroke-width="0.9" stroke-dasharray="4.6 4.2" stroke-dashoffset="-1.2"/>
<line x1="117.5" y1="297.3" x2="315.4" y2="297.3" stroke="#f65a52" stroke-width="1.0" stroke-dasharray="4.6 4.2" stroke-dashoffset="-1.2"/>
<line x1="465.3" y1="287.3" x2="657.1" y2="287.3" stroke="#a8a8a8" stroke-width="0.9" stroke-dasharray="4.6 4.2" stroke-dashoffset="-1.2"/>
<line x1="465.3" y1="304.3" x2="657.1" y2="304.3" stroke="#a8a8a8" stroke-width="0.9" stroke-dasharray="4.6 4.2" stroke-dashoffset="-1.2"/>
<line x1="465.3" y1="297.3" x2="657.1" y2="297.3" stroke="#f65a52" stroke-width="1.0" stroke-dasharray="4.6 4.2" stroke-dashoffset="-1.2"/>
<text x="340.4" y="139.3" font-size="13.2" text-anchor="start" fill="#1a1a1a" letter-spacing="0.6">(e)</text>
<line x1="341.1" y1="196.3" x2="402.4" y2="203.3" stroke="#c4c4c4" stroke-width="0.7" stroke-dasharray="2.6 2"/>
<line x1="402.4" y1="203.3" x2="437.9" y2="193.7" stroke="#c4c4c4" stroke-width="0.7" stroke-dasharray="2.6 2"/>
<line x1="341.1" y1="196.3" x2="376.6" y2="186.7" stroke="#c4c4c4" stroke-width="0.7" stroke-dasharray="2.6 2"/>
<line x1="376.6" y1="186.7" x2="437.9" y2="193.7" stroke="#c4c4c4" stroke-width="0.7" stroke-dasharray="2.6 2"/>
<line x1="371.8" y1="157.4" x2="371.8" y2="242.2" stroke="#c4c4c4" stroke-width="0.7" stroke-dasharray="2.6 2"/>
<line x1="371.8" y1="157.4" x2="407.2" y2="147.8" stroke="#c4c4c4" stroke-width="0.7" stroke-dasharray="2.6 2"/>
<line x1="407.2" y1="147.8" x2="407.2" y2="232.6" stroke="#c4c4c4" stroke-width="0.7" stroke-dasharray="2.6 2"/>
<line x1="371.8" y1="242.2" x2="407.2" y2="232.6" stroke="#c4c4c4" stroke-width="0.7" stroke-dasharray="2.6 2"/>
<line x1="358.9" y1="149.1" x2="358.9" y2="233.9" stroke="#c4c4c4" stroke-width="0.7" stroke-dasharray="2.6 2"/>
<line x1="420.1" y1="156.1" x2="420.1" y2="240.9" stroke="#c4c4c4" stroke-width="0.7" stroke-dasharray="2.6 2"/>
<line x1="358.9" y1="149.1" x2="420.1" y2="156.1" stroke="#c4c4c4" stroke-width="0.7" stroke-dasharray="2.6 2"/>
<line x1="358.9" y1="233.9" x2="420.1" y2="240.9" stroke="#c4c4c4" stroke-width="0.7" stroke-dasharray="2.6 2"/>
<line x1="371.8" y1="199.8" x2="407.2" y2="190.2" stroke="#c4c4c4" stroke-width="0.7" stroke-dasharray="2.6 2"/>
<line x1="358.9" y1="191.5" x2="420.1" y2="198.5" stroke="#c4c4c4" stroke-width="0.7" stroke-dasharray="2.6 2"/>
<line x1="376.6" y1="144.3" x2="376.6" y2="229.1" stroke="#333" stroke-width="0.9" stroke-dasharray="3 2.2"/>
<line x1="376.6" y1="229.1" x2="341.1" y2="238.7" stroke="#333" stroke-width="0.9" stroke-dasharray="3 2.2"/>
<line x1="376.6" y1="229.1" x2="437.9" y2="236.1" stroke="#333" stroke-width="0.9" stroke-dasharray="3 2.2"/>
<line x1="389.5" y1="195.0" x2="420.1" y2="198.5" stroke="#f04a4a" stroke-width="0.6" />
<line x1="420.1" y1="198.5" x2="402.4" y2="203.3" stroke="#f04a4a" stroke-width="0.6" />
<line x1="402.4" y1="203.3" x2="389.5" y2="195.0" stroke="#f04a4a" stroke-width="0.6" />
<line x1="389.5" y1="152.6" x2="420.1" y2="156.1" stroke="#f04a4a" stroke-width="0.6" />
<line x1="420.1" y1="156.1" x2="402.4" y2="160.9" stroke="#f04a4a" stroke-width="0.6" />
<line x1="402.4" y1="160.9" x2="389.5" y2="152.6" stroke="#f04a4a" stroke-width="0.6" />
<line x1="389.5" y1="195.0" x2="389.5" y2="152.6" stroke="#f6a0a0" stroke-width="0.6" />
<line x1="341.1" y1="153.9" x2="376.6" y2="144.3" stroke="#222" stroke-width="1.0" />
<line x1="376.6" y1="144.3" x2="437.9" y2="151.3" stroke="#222" stroke-width="1.0" />
<line x1="437.9" y1="151.3" x2="402.4" y2="160.9" stroke="#222" stroke-width="1.0" />
<line x1="402.4" y1="160.9" x2="341.1" y2="153.9" stroke="#222" stroke-width="1.0" />
<line x1="341.1" y1="153.9" x2="341.1" y2="238.7" stroke="#222" stroke-width="1.0" />
<line x1="402.4" y1="160.9" x2="402.4" y2="245.7" stroke="#222" stroke-width="1.0" />
<line x1="437.9" y1="151.3" x2="437.9" y2="236.1" stroke="#222" stroke-width="1.0" />
<line x1="341.1" y1="238.7" x2="402.4" y2="245.7" stroke="#222" stroke-width="1.0" />
<line x1="402.4" y1="245.7" x2="437.9" y2="236.1" stroke="#222" stroke-width="1.0" />
<circle cx="389.5" cy="195.0" r="1.5" fill="#e8202a"/>
<circle cx="420.1" cy="198.5" r="1.5" fill="#e8202a"/>
<circle cx="402.4" cy="203.3" r="1.5" fill="#e8202a"/>
<circle cx="389.5" cy="152.6" r="1.5" fill="#e8202a"/>
<circle cx="420.1" cy="156.1" r="1.5" fill="#e8202a"/>
<circle cx="402.4" cy="160.9" r="1.5" fill="#e8202a"/>
<line x1="389.5" y1="152.6" x2="389.5" y2="140.5" stroke="#111" stroke-width="0.8" />
<path d="M389.5,137.8 L388.2,142.3 L390.8,142.3 Z" fill="#111"/>
<line x1="420.1" y1="198.5" x2="432.0" y2="199.9" stroke="#111" stroke-width="0.8" />
<path d="M436,200.4 L431.6,198.6 L431.3,201.2 Z" fill="#111"/>
<line x1="371.5" y1="201.3" x2="361.8" y2="203.9" stroke="#111" stroke-width="0.8" />
<path d="M359.0,204.6 L362.8,202.3 L363.4,204.9 Z" fill="#111"/>
<text x="393.6" y="141.2" font-size="11.2" font-style="italic" fill="#1a1a1a" style="font-family:'Liberation Serif',serif">k<tspan font-size="9" dy="1.6">z</tspan></text>
<path d="M394.2,131.6 L400.2,131.6" stroke="#333" stroke-width="0.7"/>
<path d="M399.0,130.6 L401.0,131.6 L399.0,132.6 Z" fill="#333"/>
<text x="427.4" y="211.8" font-size="11.2" font-style="italic" fill="#1a1a1a" style="font-family:'Liberation Serif',serif">k<tspan font-size="9" dy="1.6">y</tspan></text>
<path d="M428.0,202.2 L434.0,202.2" stroke="#333" stroke-width="0.7"/>
<path d="M432.8,201.2 L434.8,202.2 L432.8,203.2 Z" fill="#333"/>
<text x="351.8" y="211.9" font-size="11.2" font-style="italic" fill="#1a1a1a" style="font-family:'Liberation Serif',serif">k<tspan font-size="9" dy="1.6">x</tspan></text>
<path d="M352.4,202.3 L358.4,202.3" stroke="#333" stroke-width="0.7"/>
<path d="M357.2,201.3 L359.2,202.3 L357.2,203.3 Z" fill="#333"/>
<text x="377.8" y="157.2" font-size="13.2" text-anchor="start" fill="#e8202a" >Z</text>
<text x="391.5" y="172.6" font-size="13.2" text-anchor="start" fill="#e8202a" >A</text>
<text x="422.3" y="167.4" font-size="13.2" text-anchor="start" fill="#e8202a" >R</text>
<text x="378.8" y="198.3" font-size="13.2" text-anchor="start" fill="#e8202a" >&#915;</text>
<text x="422.0" y="195.8" font-size="13.2" text-anchor="start" fill="#e8202a" >X</text>
<text x="386.8" y="215.6" font-size="13.2" text-anchor="start" fill="#e8202a" >M</text>
</svg></body></html>
